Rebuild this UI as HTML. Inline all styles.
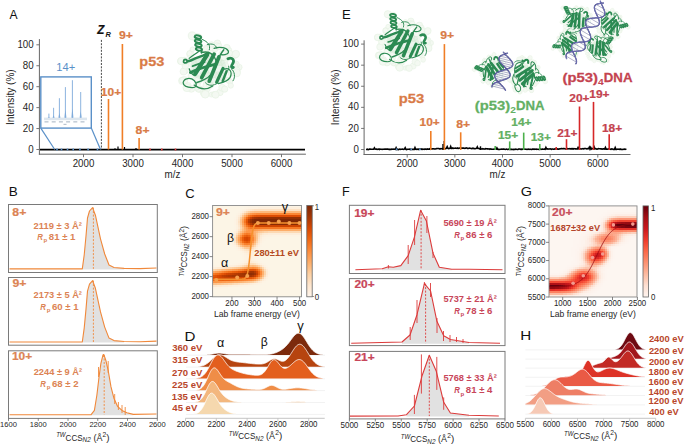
<!DOCTYPE html><html><head><meta charset="utf-8"><style>html,body{margin:0;padding:0;background:#fff;width:685px;height:444px;overflow:hidden}svg{display:block}</style></head><body><svg width="685" height="444" viewBox="0 0 685 444" font-family='"Liberation Sans", sans-serif'>
<rect width="685" height="444" fill="#fff"/>
<defs>
<filter id="blur1" x="-20%" y="-20%" width="140%" height="140%"><feGaussianBlur stdDeviation="0.6"/></filter>
<filter id="blur2" x="-30%" y="-30%" width="160%" height="160%"><feGaussianBlur stdDeviation="2"/></filter>
</defs>
<text x="9.51" y="19.00" font-size="12.28" fill="#111" font-weight="normal" font-style="normal" textLength="8.09" lengthAdjust="spacingAndGlyphs">A</text>
<line x1="39.40" y1="39.10" x2="39.40" y2="154.70" stroke="#666" stroke-width="1.00"/>
<line x1="38.90" y1="154.20" x2="305.90" y2="154.20" stroke="#666" stroke-width="1.00"/>
<line x1="36.40" y1="149.50" x2="39.40" y2="149.50" stroke="#666" stroke-width="0.90"/>
<text x="28.19" y="152.60" font-size="10.10" fill="#262626" font-weight="normal" font-style="normal" textLength="5.41" lengthAdjust="spacingAndGlyphs">0</text>
<line x1="36.40" y1="128.56" x2="39.40" y2="128.56" stroke="#666" stroke-width="0.90"/>
<text x="22.78" y="131.66" font-size="10.10" fill="#262626" font-weight="normal" font-style="normal" textLength="10.82" lengthAdjust="spacingAndGlyphs">20</text>
<line x1="36.40" y1="107.62" x2="39.40" y2="107.62" stroke="#666" stroke-width="0.90"/>
<text x="22.78" y="110.72" font-size="10.10" fill="#262626" font-weight="normal" font-style="normal" textLength="10.82" lengthAdjust="spacingAndGlyphs">40</text>
<line x1="36.40" y1="86.68" x2="39.40" y2="86.68" stroke="#666" stroke-width="0.90"/>
<text x="22.78" y="89.78" font-size="10.10" fill="#262626" font-weight="normal" font-style="normal" textLength="10.82" lengthAdjust="spacingAndGlyphs">60</text>
<line x1="36.40" y1="65.74" x2="39.40" y2="65.74" stroke="#666" stroke-width="0.90"/>
<text x="22.78" y="68.84" font-size="10.10" fill="#262626" font-weight="normal" font-style="normal" textLength="10.82" lengthAdjust="spacingAndGlyphs">80</text>
<line x1="36.40" y1="44.80" x2="39.40" y2="44.80" stroke="#666" stroke-width="0.90"/>
<text x="17.38" y="47.90" font-size="10.10" fill="#262626" font-weight="normal" font-style="normal" textLength="16.22" lengthAdjust="spacingAndGlyphs">100</text>
<line x1="83.50" y1="154.20" x2="83.50" y2="157.20" stroke="#666" stroke-width="0.90"/>
<text x="72.68" y="166.60" font-size="10.10" fill="#262626" font-weight="normal" font-style="normal" textLength="21.63" lengthAdjust="spacingAndGlyphs">2000</text>
<line x1="133.00" y1="154.20" x2="133.00" y2="157.20" stroke="#666" stroke-width="0.90"/>
<text x="122.18" y="166.60" font-size="10.10" fill="#262626" font-weight="normal" font-style="normal" textLength="21.63" lengthAdjust="spacingAndGlyphs">3000</text>
<line x1="182.50" y1="154.20" x2="182.50" y2="157.20" stroke="#666" stroke-width="0.90"/>
<text x="171.68" y="166.60" font-size="10.10" fill="#262626" font-weight="normal" font-style="normal" textLength="21.63" lengthAdjust="spacingAndGlyphs">4000</text>
<line x1="232.00" y1="154.20" x2="232.00" y2="157.20" stroke="#666" stroke-width="0.90"/>
<text x="221.18" y="166.60" font-size="10.10" fill="#262626" font-weight="normal" font-style="normal" textLength="21.63" lengthAdjust="spacingAndGlyphs">5000</text>
<line x1="281.50" y1="154.20" x2="281.50" y2="157.20" stroke="#666" stroke-width="0.90"/>
<text x="270.68" y="166.60" font-size="10.10" fill="#262626" font-weight="normal" font-style="normal" textLength="21.63" lengthAdjust="spacingAndGlyphs">6000</text>
<text x="164.61" y="178.20" font-size="10.22" fill="#262626" font-weight="normal" font-style="normal" textLength="15.79" lengthAdjust="spacingAndGlyphs">m/z</text>
<g transform="translate(14.3,97.2) rotate(-90)">
<text x="-27.84" y="0.00" font-size="10.34" fill="#262626" font-weight="normal" font-style="normal" textLength="55.69" lengthAdjust="spacingAndGlyphs">Intensity (%)</text>
</g>
<line x1="40.00" y1="149.60" x2="305.00" y2="149.60" stroke="#000" stroke-width="1.60"/>
<line x1="118.00" y1="149.50" x2="118.00" y2="146.50" stroke="#000" stroke-width="1.20"/>
<line x1="124.50" y1="149.50" x2="124.50" y2="147.00" stroke="#000" stroke-width="1.20"/>
<line x1="136.00" y1="149.50" x2="136.00" y2="148.00" stroke="#000" stroke-width="1.20"/>
<line x1="115.00" y1="149.50" x2="115.00" y2="148.20" stroke="#000" stroke-width="1.20"/>
<line x1="56.20" y1="149.50" x2="57.80" y2="149.50" stroke="#5a90c8" stroke-width="2.00"/>
<line x1="60.70" y1="149.50" x2="62.30" y2="149.50" stroke="#5a90c8" stroke-width="2.00"/>
<line x1="66.70" y1="149.50" x2="68.30" y2="149.50" stroke="#5a90c8" stroke-width="2.00"/>
<line x1="72.40" y1="149.50" x2="74.00" y2="149.50" stroke="#5a90c8" stroke-width="2.00"/>
<line x1="79.10" y1="149.50" x2="80.70" y2="149.50" stroke="#5a90c8" stroke-width="2.00"/>
<line x1="87.30" y1="149.50" x2="88.90" y2="149.50" stroke="#5a90c8" stroke-width="2.00"/>
<line x1="96.70" y1="149.50" x2="98.30" y2="149.50" stroke="#5a90c8" stroke-width="2.00"/>
<line x1="149.20" y1="149.50" x2="150.80" y2="149.50" stroke="#e04040" stroke-width="2.00"/>
<line x1="161.00" y1="149.50" x2="162.60" y2="149.50" stroke="#e04040" stroke-width="2.00"/>
<line x1="174.70" y1="149.50" x2="176.30" y2="149.50" stroke="#e04040" stroke-width="2.00"/>
<line x1="108.50" y1="149.50" x2="108.50" y2="99.00" stroke="#f07e26" stroke-width="1.60"/>
<line x1="122.40" y1="149.50" x2="122.40" y2="44.00" stroke="#f07e26" stroke-width="1.60"/>
<line x1="139.10" y1="149.50" x2="139.10" y2="138.00" stroke="#f07e26" stroke-width="1.60"/>
<line x1="101.40" y1="39.90" x2="101.40" y2="149.50" stroke="#333" stroke-width="0.90" stroke-dasharray="2.0,1.3"/>
<text x="97.36" y="34.00" font-size="11.89" fill="#111" font-weight="bold" font-style="italic" textLength="7.08" lengthAdjust="spacingAndGlyphs" stroke="#111" stroke-width="0.23">Z</text>
<text x="105.56" y="36.80" font-size="7.85" fill="#111" font-weight="bold" font-style="italic" textLength="5.39" lengthAdjust="spacingAndGlyphs">R</text>
<text x="118.93" y="38.90" font-size="10.21" fill="#d97b47" font-weight="bold" font-style="normal" textLength="13.96" lengthAdjust="spacingAndGlyphs" stroke="#d97b47" stroke-width="0.20">9+</text>
<text x="100.87" y="96.30" font-size="10.21" fill="#d97b47" font-weight="bold" font-style="normal" textLength="20.29" lengthAdjust="spacingAndGlyphs" stroke="#d97b47" stroke-width="0.20">10+</text>
<text x="135.64" y="133.60" font-size="10.21" fill="#d97b47" font-weight="bold" font-style="normal" textLength="13.96" lengthAdjust="spacingAndGlyphs" stroke="#d97b47" stroke-width="0.20">8+</text>
<text x="139.31" y="65.60" font-size="13.46" fill="#d97b47" font-weight="bold" font-style="normal" textLength="24.94" lengthAdjust="spacingAndGlyphs" stroke="#d97b47" stroke-width="0.26">p53</text>
<rect x="40.8" y="76.9" width="50.5" height="51.2" fill="#fff" stroke="#5a90c8" stroke-width="1.4"/>
<line x1="40.80" y1="128.10" x2="54.70" y2="149.50" stroke="#5a90c8" stroke-width="1.20"/>
<line x1="91.30" y1="128.10" x2="100.50" y2="149.50" stroke="#5a90c8" stroke-width="1.20"/>
<text x="56.21" y="71.20" font-size="10.69" fill="#5a90c8" font-weight="normal" font-style="normal" textLength="18.99" lengthAdjust="spacingAndGlyphs">14+</text>
<rect x="44" y="117.6" width="43" height="2.6" fill="#dde6ee"/>
<path d="M47.70,117.8 L48.90,116.75 L50.10,117.8 Z" fill="#a9c6e6"/>
<line x1="48.90" y1="117.80" x2="48.90" y2="113.60" stroke="#6fa0d6" stroke-width="0.80"/>
<path d="M52.40,117.8 L53.60,115.30 L54.80,117.8 Z" fill="#a9c6e6"/>
<line x1="53.60" y1="117.80" x2="53.60" y2="107.80" stroke="#6fa0d6" stroke-width="0.80"/>
<path d="M58.20,117.8 L59.40,112.90 L60.60,117.8 Z" fill="#a9c6e6"/>
<line x1="59.40" y1="117.80" x2="59.40" y2="98.20" stroke="#6fa0d6" stroke-width="0.80"/>
<path d="M64.20,117.8 L65.40,110.12 L66.60,117.8 Z" fill="#a9c6e6"/>
<line x1="65.40" y1="117.80" x2="65.40" y2="87.10" stroke="#6fa0d6" stroke-width="0.80"/>
<path d="M71.20,117.8 L72.40,108.40 L73.60,117.8 Z" fill="#a9c6e6"/>
<line x1="72.40" y1="117.80" x2="72.40" y2="80.20" stroke="#6fa0d6" stroke-width="0.80"/>
<path d="M79.50,117.8 L80.70,111.35 L81.90,117.8 Z" fill="#a9c6e6"/>
<line x1="80.70" y1="117.80" x2="80.70" y2="92.00" stroke="#6fa0d6" stroke-width="0.80"/>
<rect x="44.5" y="121.2" width="4" height="1.3" fill="#b9c4cf"/>
<rect x="51.7" y="121.2" width="4" height="1.3" fill="#b9c4cf"/>
<rect x="58.9" y="121.2" width="4" height="1.3" fill="#b9c4cf"/>
<rect x="66.1" y="121.2" width="4" height="1.3" fill="#b9c4cf"/>
<rect x="73.3" y="121.2" width="4" height="1.3" fill="#b9c4cf"/>
<rect x="80.5" y="121.2" width="4" height="1.3" fill="#b9c4cf"/>
<rect x="63.5" y="123.8" width="3" height="1.2" fill="#b9c4cf"/>
<text x="341.94" y="18.60" font-size="12.28" fill="#111" font-weight="normal" font-style="normal" textLength="8.74" lengthAdjust="spacingAndGlyphs">E</text>
<line x1="364.10" y1="40.30" x2="364.10" y2="154.90" stroke="#666" stroke-width="1.00"/>
<line x1="363.60" y1="154.50" x2="630.50" y2="154.50" stroke="#666" stroke-width="1.00"/>
<line x1="361.10" y1="149.50" x2="364.10" y2="149.50" stroke="#666" stroke-width="0.90"/>
<text x="353.49" y="152.60" font-size="10.10" fill="#262626" font-weight="normal" font-style="normal" textLength="5.41" lengthAdjust="spacingAndGlyphs">0</text>
<line x1="361.10" y1="128.42" x2="364.10" y2="128.42" stroke="#666" stroke-width="0.90"/>
<text x="348.08" y="131.52" font-size="10.10" fill="#262626" font-weight="normal" font-style="normal" textLength="10.82" lengthAdjust="spacingAndGlyphs">20</text>
<line x1="361.10" y1="107.34" x2="364.10" y2="107.34" stroke="#666" stroke-width="0.90"/>
<text x="348.08" y="110.44" font-size="10.10" fill="#262626" font-weight="normal" font-style="normal" textLength="10.82" lengthAdjust="spacingAndGlyphs">40</text>
<line x1="361.10" y1="86.26" x2="364.10" y2="86.26" stroke="#666" stroke-width="0.90"/>
<text x="348.08" y="89.36" font-size="10.10" fill="#262626" font-weight="normal" font-style="normal" textLength="10.82" lengthAdjust="spacingAndGlyphs">60</text>
<line x1="361.10" y1="65.18" x2="364.10" y2="65.18" stroke="#666" stroke-width="0.90"/>
<text x="348.08" y="68.28" font-size="10.10" fill="#262626" font-weight="normal" font-style="normal" textLength="10.82" lengthAdjust="spacingAndGlyphs">80</text>
<line x1="361.10" y1="44.10" x2="364.10" y2="44.10" stroke="#666" stroke-width="0.90"/>
<text x="342.68" y="47.20" font-size="10.10" fill="#262626" font-weight="normal" font-style="normal" textLength="16.22" lengthAdjust="spacingAndGlyphs">100</text>
<line x1="407.20" y1="154.50" x2="407.20" y2="157.50" stroke="#666" stroke-width="0.90"/>
<text x="396.38" y="166.60" font-size="10.10" fill="#262626" font-weight="normal" font-style="normal" textLength="21.63" lengthAdjust="spacingAndGlyphs">2000</text>
<line x1="454.85" y1="154.50" x2="454.85" y2="157.50" stroke="#666" stroke-width="0.90"/>
<text x="444.03" y="166.60" font-size="10.10" fill="#262626" font-weight="normal" font-style="normal" textLength="21.63" lengthAdjust="spacingAndGlyphs">3000</text>
<line x1="502.50" y1="154.50" x2="502.50" y2="157.50" stroke="#666" stroke-width="0.90"/>
<text x="491.68" y="166.60" font-size="10.10" fill="#262626" font-weight="normal" font-style="normal" textLength="21.63" lengthAdjust="spacingAndGlyphs">4000</text>
<line x1="550.15" y1="154.50" x2="550.15" y2="157.50" stroke="#666" stroke-width="0.90"/>
<text x="539.33" y="166.60" font-size="10.10" fill="#262626" font-weight="normal" font-style="normal" textLength="21.63" lengthAdjust="spacingAndGlyphs">5000</text>
<line x1="597.80" y1="154.50" x2="597.80" y2="157.50" stroke="#666" stroke-width="0.90"/>
<text x="586.98" y="166.60" font-size="10.10" fill="#262626" font-weight="normal" font-style="normal" textLength="21.63" lengthAdjust="spacingAndGlyphs">6000</text>
<text x="489.61" y="178.20" font-size="10.22" fill="#262626" font-weight="normal" font-style="normal" textLength="15.79" lengthAdjust="spacingAndGlyphs">m/z</text>
<g transform="translate(338.5,97.3) rotate(-90)">
<text x="-27.84" y="0.00" font-size="10.34" fill="#262626" font-weight="normal" font-style="normal" textLength="55.69" lengthAdjust="spacingAndGlyphs">Intensity (%)</text>
</g>
<path d="M366.00,149.46 L366.70,149.38 L367.40,149.22 L368.10,149.59 L368.80,149.44 L369.50,149.00 L370.20,149.10 L370.90,149.22 L371.60,149.22 L372.30,149.29 L373.00,149.20 L373.70,149.15 L374.40,147.92 L375.10,149.08 L375.80,149.17 L376.50,149.17 L377.20,149.36 L377.90,149.33 L378.60,149.07 L379.30,149.52 L380.00,149.02 L380.70,149.22 L381.40,149.30 L382.10,149.39 L382.80,149.25 L383.50,149.19 L384.20,149.09 L384.90,149.20 L385.60,149.08 L386.30,149.06 L387.00,149.17 L387.70,149.10 L388.40,149.43 L389.10,149.09 L389.80,149.55 L390.50,149.35 L391.20,149.42 L391.90,149.08 L392.60,149.23 L393.30,149.17 L394.00,149.07 L394.70,149.30 L395.40,149.41 L396.10,147.74 L396.80,149.48 L397.50,149.23 L398.20,149.57 L398.90,149.41 L399.60,149.06 L400.30,149.32 L401.00,149.21 L401.70,149.26 L402.40,149.03 L403.10,149.34 L403.80,149.45 L404.50,149.01 L405.20,147.76 L405.90,149.34 L406.60,149.58 L407.30,149.21 L408.00,149.21 L408.70,149.18 L409.40,149.16 L410.10,149.57 L410.80,149.18 L411.50,149.43 L412.20,149.22 L412.90,149.36 L413.60,149.35 L414.30,149.39 L415.00,147.60 L415.70,149.22 L416.40,149.37 L417.10,149.07 L417.80,149.43 L418.50,149.12 L419.20,149.34 L419.90,149.03 L420.60,149.00 L421.30,149.31 L422.00,148.97 L422.70,149.36 L423.40,149.16 L424.10,148.99 L424.80,149.35 L425.50,148.96 L426.20,148.95 L426.90,149.34 L427.60,148.93 L428.30,149.18 L429.00,149.12 L429.70,148.80 L430.40,149.33 L431.10,148.79 L431.80,149.03 L432.50,148.71 L433.20,148.80 L433.90,148.83 L434.60,149.03 L435.30,149.04 L436.00,148.80 L436.70,148.64 L437.40,148.55 L438.10,148.51 L438.80,148.50 L439.50,149.00 L440.20,148.88 L440.90,148.55 L441.60,148.67 L442.30,148.53 L443.00,148.71 L443.70,148.55 L444.40,148.59 L445.10,148.45 L445.80,148.64 L446.50,148.16 L447.20,146.69 L447.90,148.28 L448.60,148.60 L449.30,148.44 L450.00,148.33 L450.70,146.59 L451.40,148.50 L452.10,148.44 L452.80,147.91 L453.50,148.42 L454.20,148.27 L454.90,148.24 L455.60,148.08 L456.30,148.31 L457.00,148.34 L457.70,147.98 L458.40,148.36 L459.10,148.18 L459.80,147.93 L460.50,147.92 L461.20,148.15 L461.90,148.11 L462.60,148.17 L463.30,148.15 L464.00,148.12 L464.70,148.41 L465.40,148.21 L466.10,147.92 L466.80,147.97 L467.50,148.37 L468.20,148.47 L468.90,148.17 L469.60,148.12 L470.30,148.18 L471.00,148.58 L471.70,148.67 L472.40,148.24 L473.10,148.67 L473.80,148.23 L474.50,148.77 L475.20,148.74 L475.90,148.44 L476.60,148.31 L477.30,146.93 L478.00,148.48 L478.70,148.54 L479.40,148.55 L480.10,148.99 L480.80,148.72 L481.50,148.94 L482.20,148.96 L482.90,148.69 L483.60,148.94 L484.30,148.98 L485.00,149.16 L485.70,148.65 L486.40,148.81 L487.10,148.87 L487.80,148.90 L488.50,149.03 L489.20,148.80 L489.90,149.30 L490.60,148.83 L491.30,149.13 L492.00,149.30 L492.70,149.31 L493.40,149.25 L494.10,149.04 L494.80,149.29 L495.50,149.23 L496.20,149.14 L496.90,147.87 L497.60,149.22 L498.30,149.41 L499.00,149.33 L499.70,149.44 L500.40,149.25 L501.10,149.26 L501.80,149.05 L502.50,149.26 L503.20,149.04 L503.90,149.12 L504.60,149.28 L505.30,149.43 L506.00,149.17 L506.70,149.06 L507.40,149.46 L508.10,149.47 L508.80,149.07 L509.50,149.43 L510.20,149.40 L510.90,149.15 L511.60,149.53 L512.30,149.41 L513.00,149.24 L513.70,149.59 L514.40,149.33 L515.10,149.46 L515.80,149.02 L516.50,149.26 L517.20,149.43 L517.90,149.52 L518.60,149.04 L519.30,149.03 L520.00,149.13 L520.70,149.41 L521.40,149.20 L522.10,149.43 L522.80,149.01 L523.50,149.26 L524.20,149.29 L524.90,149.15 L525.60,149.24 L526.30,149.19 L527.00,149.47 L527.70,149.18 L528.40,149.01 L529.10,149.37 L529.80,149.21 L530.50,149.18 L531.20,149.37 L531.90,149.52 L532.60,149.10 L533.30,149.11 L534.00,149.39 L534.70,149.02 L535.40,149.24 L536.10,149.07 L536.80,149.33 L537.50,149.20 L538.20,149.31 L538.90,149.45 L539.60,149.45 L540.30,149.03 L541.00,149.38 L541.70,149.24 L542.40,148.99 L543.10,149.12 L543.80,149.23 L544.50,149.14 L545.20,149.33 L545.90,147.47 L546.60,148.95 L547.30,148.85 L548.00,149.08 L548.70,149.02 L549.40,148.98 L550.10,148.86 L550.80,149.01 L551.50,149.36 L552.20,148.95 L552.90,149.02 L553.60,149.21 L554.30,149.29 L555.00,148.91 L555.70,148.95 L556.40,148.74 L557.10,148.79 L557.80,149.22 L558.50,149.10 L559.20,148.90 L559.90,149.02 L560.60,148.78 L561.30,148.67 L562.00,148.62 L562.70,148.72 L563.40,148.67 L564.10,148.62 L564.80,148.67 L565.50,149.05 L566.20,149.06 L566.90,149.00 L567.60,148.66 L568.30,148.82 L569.00,148.88 L569.70,148.60 L570.40,148.94 L571.10,148.61 L571.80,148.81 L572.50,148.67 L573.20,149.02 L573.90,148.55 L574.60,148.74 L575.30,148.88 L576.00,148.76 L576.70,148.99 L577.40,148.90 L578.10,147.46 L578.80,148.73 L579.50,148.58 L580.20,148.76 L580.90,148.99 L581.60,148.87 L582.30,148.72 L583.00,148.64 L583.70,148.94 L584.40,148.59 L585.10,148.56 L585.80,148.48 L586.50,148.89 L587.20,148.56 L587.90,148.85 L588.60,148.66 L589.30,147.22 L590.00,149.07 L590.70,147.49 L591.40,149.07 L592.10,148.58 L592.80,148.54 L593.50,148.66 L594.20,147.09 L594.90,148.98 L595.60,148.61 L596.30,149.01 L597.00,149.13 L597.70,149.01 L598.40,148.67 L599.10,148.79 L599.80,148.75 L600.50,148.71 L601.20,149.03 L601.90,148.82 L602.60,149.14 L603.30,148.88 L604.00,148.90 L604.70,149.04 L605.40,147.42 L606.10,149.08 L606.80,148.96 L607.50,149.24 L608.20,149.01 L608.90,148.88 L609.60,148.87 L610.30,149.22 L611.00,149.39 L611.70,148.87 L612.40,149.11 L613.10,149.41 L613.80,149.32 L614.50,149.38 L615.20,147.63 L615.90,149.35 L616.60,149.36 L617.30,149.25 L618.00,149.15 L618.70,149.19 L619.40,149.41 L620.10,149.03 L620.80,149.52 L621.50,149.42 L622.20,149.49 L622.90,149.41 L623.60,149.18 L624.30,149.10 L625.00,149.35 L625.70,149.29 L626.40,149.06" fill="none" stroke="#000" stroke-width="1.6"/>
<line x1="444.20" y1="150.00" x2="444.20" y2="141.00" stroke="#000" stroke-width="1.40"/>
<line x1="480.50" y1="150.00" x2="480.50" y2="146.30" stroke="#000" stroke-width="1.40"/>
<line x1="443.00" y1="150.00" x2="443.00" y2="144.00" stroke="#000" stroke-width="1.40"/>
<line x1="395.80" y1="149.30" x2="397.40" y2="149.30" stroke="#5a90c8" stroke-width="1.80"/>
<line x1="410.40" y1="149.30" x2="412.00" y2="149.30" stroke="#5a90c8" stroke-width="1.80"/>
<line x1="419.10" y1="149.30" x2="420.70" y2="149.30" stroke="#5a90c8" stroke-width="1.80"/>
<line x1="430.80" y1="150.00" x2="430.80" y2="131.00" stroke="#f07e26" stroke-width="1.60"/>
<line x1="444.40" y1="150.00" x2="444.40" y2="44.10" stroke="#f07e26" stroke-width="1.60"/>
<line x1="460.70" y1="150.00" x2="460.70" y2="132.30" stroke="#f07e26" stroke-width="1.60"/>
<line x1="495.20" y1="150.00" x2="495.20" y2="146.00" stroke="#4cb04c" stroke-width="1.60"/>
<line x1="509.70" y1="150.00" x2="509.70" y2="141.40" stroke="#4cb04c" stroke-width="1.60"/>
<line x1="523.70" y1="150.00" x2="523.70" y2="132.60" stroke="#4cb04c" stroke-width="1.60"/>
<line x1="539.80" y1="150.00" x2="539.80" y2="144.00" stroke="#4cb04c" stroke-width="1.60"/>
<line x1="556.20" y1="150.00" x2="556.20" y2="147.00" stroke="#d62728" stroke-width="1.60"/>
<line x1="566.50" y1="150.00" x2="566.50" y2="139.20" stroke="#d62728" stroke-width="1.60"/>
<line x1="579.50" y1="150.00" x2="579.50" y2="106.50" stroke="#d62728" stroke-width="1.60"/>
<line x1="593.50" y1="150.00" x2="593.50" y2="101.90" stroke="#d62728" stroke-width="1.60"/>
<line x1="609.20" y1="150.00" x2="609.20" y2="134.30" stroke="#d62728" stroke-width="1.60"/>
<text x="440.23" y="39.00" font-size="10.21" fill="#d97b47" font-weight="bold" font-style="normal" textLength="13.96" lengthAdjust="spacingAndGlyphs" stroke="#d97b47" stroke-width="0.20">9+</text>
<text x="398.68" y="103.40" font-size="13.46" fill="#d97b47" font-weight="bold" font-style="normal" textLength="25.48" lengthAdjust="spacingAndGlyphs" stroke="#d97b47" stroke-width="0.26">p53</text>
<text x="419.57" y="126.40" font-size="10.21" fill="#d97b47" font-weight="bold" font-style="normal" textLength="20.29" lengthAdjust="spacingAndGlyphs" stroke="#d97b47" stroke-width="0.20">10+</text>
<text x="456.24" y="127.80" font-size="10.21" fill="#d97b47" font-weight="bold" font-style="normal" textLength="13.96" lengthAdjust="spacingAndGlyphs" stroke="#d97b47" stroke-width="0.20">8+</text>
<text x="497.97" y="139.40" font-size="10.21" fill="#63b063" font-weight="bold" font-style="normal" textLength="20.29" lengthAdjust="spacingAndGlyphs" stroke="#63b063" stroke-width="0.20">15+</text>
<text x="511.27" y="126.40" font-size="10.21" fill="#63b063" font-weight="bold" font-style="normal" textLength="20.29" lengthAdjust="spacingAndGlyphs" stroke="#63b063" stroke-width="0.20">14+</text>
<text x="530.67" y="140.50" font-size="10.21" fill="#63b063" font-weight="bold" font-style="normal" textLength="20.29" lengthAdjust="spacingAndGlyphs" stroke="#63b063" stroke-width="0.20">13+</text>
<text x="557.18" y="136.80" font-size="10.21" fill="#c4434f" font-weight="bold" font-style="normal" textLength="20.29" lengthAdjust="spacingAndGlyphs" stroke="#c4434f" stroke-width="0.20">21+</text>
<text x="569.28" y="102.20" font-size="10.21" fill="#c4434f" font-weight="bold" font-style="normal" textLength="20.29" lengthAdjust="spacingAndGlyphs" stroke="#c4434f" stroke-width="0.20">20+</text>
<text x="589.27" y="97.60" font-size="10.21" fill="#c4434f" font-weight="bold" font-style="normal" textLength="20.29" lengthAdjust="spacingAndGlyphs" stroke="#c4434f" stroke-width="0.20">19+</text>
<text x="601.97" y="132.20" font-size="10.21" fill="#c4434f" font-weight="bold" font-style="normal" textLength="20.29" lengthAdjust="spacingAndGlyphs" stroke="#c4434f" stroke-width="0.20">18+</text>
<text x="474.89" y="110.10" font-size="13.13" fill="#63b063" font-weight="bold" font-style="normal" textLength="35.35" lengthAdjust="spacingAndGlyphs" stroke="#63b063" stroke-width="0.26">(p53)</text>
<text x="510.25" y="113.30" font-size="9.19" fill="#63b063" font-weight="bold" font-style="normal" textLength="5.70" lengthAdjust="spacingAndGlyphs">2</text>
<text x="515.94" y="110.10" font-size="13.13" fill="#63b063" font-weight="bold" font-style="normal" textLength="28.56" lengthAdjust="spacingAndGlyphs" stroke="#63b063" stroke-width="0.26">DNA</text>
<text x="562.59" y="81.50" font-size="13.18" fill="#c4434f" font-weight="bold" font-style="normal" textLength="35.50" lengthAdjust="spacingAndGlyphs" stroke="#c4434f" stroke-width="0.26">(p53)</text>
<text x="598.09" y="84.70" font-size="9.23" fill="#c4434f" font-weight="bold" font-style="normal" textLength="5.72" lengthAdjust="spacingAndGlyphs">4</text>
<text x="603.82" y="81.50" font-size="13.18" fill="#c4434f" font-weight="bold" font-style="normal" textLength="28.68" lengthAdjust="spacingAndGlyphs" stroke="#c4434f" stroke-width="0.26">DNA</text>
<text x="8.81" y="195.60" font-size="12.28" fill="#111" font-weight="normal" font-style="normal" textLength="9.02" lengthAdjust="spacingAndGlyphs">B</text>
<rect x="8.50" y="204.50" width="148.80" height="68.00" fill="#fff" stroke="#7a7a7a" stroke-width="1"/>
<path d="M82.30,268.90 L84.20,255.00 L86.00,236.00 L87.50,218.00 L89.50,211.00 L92.60,207.60 L95.40,215.20 L100.50,238.80 L104.70,254.00 L109.00,265.00 L114.00,267.50 L124.10,268.40 L124.10,269.40 L82.30,269.40 Z" fill="#e1e1e1"/>
<line x1="93.40" y1="207.60" x2="93.40" y2="268.90" stroke="#f0883a" stroke-width="0.90" stroke-dasharray="2,1.5"/>
<path d="M9.50,268.90 L82.30,268.90 L84.20,255.00 L86.00,236.00 L87.50,218.00 L89.50,211.00 L92.60,207.60 L95.40,215.20 L100.50,238.80 L104.70,254.00 L109.00,265.00 L114.00,267.50 L124.10,268.40 L140.00,268.60 L156.50,268.00" fill="none" stroke="#f0883a" stroke-width="1.1" stroke-linejoin="round"/>
<text x="12.34" y="215.60" font-size="10.21" fill="#dc8455" font-weight="bold" font-style="normal" textLength="13.96" lengthAdjust="spacingAndGlyphs" stroke="#dc8455" stroke-width="0.20">8+</text>
<text x="33.62" y="229.00" font-size="8.73" fill="#dc8455" font-weight="bold" font-style="normal" textLength="48.31" lengthAdjust="spacingAndGlyphs">2119 ± 3 Å²</text>
<text x="37.23" y="240.00" font-size="8.73" fill="#dc8455" font-weight="bold" font-style="italic" textLength="5.66" lengthAdjust="spacingAndGlyphs">R</text>
<text x="43.56" y="242.20" font-size="5.72" fill="#dc8455" font-weight="bold" font-style="normal" textLength="3.72" lengthAdjust="spacingAndGlyphs">p</text>
<text x="48.85" y="240.00" font-size="8.73" fill="#dc8455" font-weight="bold" font-style="normal" textLength="26.62" lengthAdjust="spacingAndGlyphs">81 ± 1</text>
<rect x="8.50" y="277.50" width="148.80" height="67.70" fill="#fff" stroke="#7a7a7a" stroke-width="1"/>
<path d="M82.30,342.00 L84.20,328.10 L86.00,309.10 L87.50,291.10 L89.50,284.10 L92.60,280.70 L95.40,288.30 L100.50,311.90 L104.70,327.10 L109.00,338.10 L114.00,340.60 L124.10,341.50 L124.10,342.50 L82.30,342.50 Z" fill="#e1e1e1"/>
<line x1="93.40" y1="280.60" x2="93.40" y2="342.00" stroke="#f0883a" stroke-width="0.90" stroke-dasharray="2,1.5"/>
<path d="M9.50,342.00 L82.30,342.00 L84.20,328.10 L86.00,309.10 L87.50,291.10 L89.50,284.10 L92.60,280.70 L95.40,288.30 L100.50,311.90 L104.70,327.10 L109.00,338.10 L114.00,340.60 L124.10,341.50 L140.00,341.70 L156.50,341.10" fill="none" stroke="#f0883a" stroke-width="1.1" stroke-linejoin="round"/>
<text x="12.43" y="287.30" font-size="10.21" fill="#dc8455" font-weight="bold" font-style="normal" textLength="13.96" lengthAdjust="spacingAndGlyphs" stroke="#dc8455" stroke-width="0.20">9+</text>
<text x="33.62" y="298.00" font-size="8.73" fill="#dc8455" font-weight="bold" font-style="normal" textLength="48.31" lengthAdjust="spacingAndGlyphs">2173 ± 5 Å²</text>
<text x="40.33" y="309.50" font-size="8.73" fill="#dc8455" font-weight="bold" font-style="italic" textLength="5.66" lengthAdjust="spacingAndGlyphs">R</text>
<text x="46.66" y="311.70" font-size="5.72" fill="#dc8455" font-weight="bold" font-style="normal" textLength="3.72" lengthAdjust="spacingAndGlyphs">p</text>
<text x="51.94" y="309.50" font-size="8.73" fill="#dc8455" font-weight="bold" font-style="normal" textLength="26.62" lengthAdjust="spacingAndGlyphs">60 ± 1</text>
<rect x="8.50" y="350.80" width="148.80" height="67.60" fill="#fff" stroke="#7a7a7a" stroke-width="1"/>
<path d="M90.90,414.80 L94.40,410.40 L96.90,395.00 L99.00,377.20 L100.90,363.40 L102.90,355.30 L103.80,354.50 L105.80,360.20 L108.20,370.70 L111.00,386.90 L113.90,398.20 L117.50,406.30 L122.00,410.40 L126.90,412.80 L133.30,414.40 L133.30,415.30 L90.90,415.30 Z" fill="#e1e1e1"/>
<line x1="104.20" y1="355.00" x2="104.20" y2="414.80" stroke="#f0883a" stroke-width="0.90" stroke-dasharray="2,1.5"/>
<path d="M9.50,414.80 L90.90,414.80 L94.40,410.40 L96.90,395.00 L99.00,377.20 L100.90,363.40 L102.90,355.30 L103.80,354.50 L105.80,360.20 L108.20,370.70 L111.00,386.90 L113.90,398.20 L117.50,406.30 L122.00,410.40 L126.90,412.80 L133.30,414.40 L156.50,414.00" fill="none" stroke="#f0883a" stroke-width="1.1" stroke-linejoin="round"/>
<line x1="98.50" y1="367.00" x2="98.50" y2="377.00" stroke="#f0883a" stroke-width="0.90"/>
<line x1="108.20" y1="361.00" x2="108.20" y2="373.00" stroke="#f0883a" stroke-width="0.90"/>
<line x1="114.70" y1="394.00" x2="114.70" y2="404.00" stroke="#f0883a" stroke-width="0.90"/>
<line x1="118.40" y1="402.00" x2="118.40" y2="410.00" stroke="#f0883a" stroke-width="0.90"/>
<line x1="122.00" y1="405.00" x2="122.00" y2="413.00" stroke="#f0883a" stroke-width="0.90"/>
<line x1="125.20" y1="407.00" x2="125.20" y2="415.00" stroke="#f0883a" stroke-width="0.90"/>
<line x1="103.30" y1="354.00" x2="103.30" y2="357.00" stroke="#f0883a" stroke-width="0.90"/>
<text x="11.97" y="360.10" font-size="10.21" fill="#dc8455" font-weight="bold" font-style="normal" textLength="20.29" lengthAdjust="spacingAndGlyphs" stroke="#dc8455" stroke-width="0.20">10+</text>
<text x="33.72" y="375.00" font-size="8.73" fill="#dc8455" font-weight="bold" font-style="normal" textLength="48.31" lengthAdjust="spacingAndGlyphs">2244 ± 9 Å²</text>
<text x="40.33" y="386.90" font-size="8.73" fill="#dc8455" font-weight="bold" font-style="italic" textLength="5.66" lengthAdjust="spacingAndGlyphs">R</text>
<text x="46.66" y="389.10" font-size="5.72" fill="#dc8455" font-weight="bold" font-style="normal" textLength="3.72" lengthAdjust="spacingAndGlyphs">p</text>
<text x="51.94" y="386.90" font-size="8.73" fill="#dc8455" font-weight="bold" font-style="normal" textLength="26.62" lengthAdjust="spacingAndGlyphs">68 ± 2</text>
<line x1="8.50" y1="418.40" x2="8.50" y2="420.90" stroke="#666" stroke-width="0.80"/>
<line x1="38.26" y1="418.40" x2="38.26" y2="420.90" stroke="#666" stroke-width="0.80"/>
<line x1="68.02" y1="418.40" x2="68.02" y2="420.90" stroke="#666" stroke-width="0.80"/>
<line x1="97.78" y1="418.40" x2="97.78" y2="420.90" stroke="#666" stroke-width="0.80"/>
<line x1="127.54" y1="418.40" x2="127.54" y2="420.90" stroke="#666" stroke-width="0.80"/>
<line x1="157.30" y1="418.40" x2="157.30" y2="420.90" stroke="#666" stroke-width="0.80"/>
<text x="0.10" y="427.10" font-size="7.84" fill="#262626" font-weight="normal" font-style="normal" textLength="16.80" lengthAdjust="spacingAndGlyphs">1600</text>
<text x="29.86" y="427.10" font-size="7.84" fill="#262626" font-weight="normal" font-style="normal" textLength="16.80" lengthAdjust="spacingAndGlyphs">1800</text>
<text x="59.62" y="427.10" font-size="7.84" fill="#262626" font-weight="normal" font-style="normal" textLength="16.80" lengthAdjust="spacingAndGlyphs">2000</text>
<text x="89.38" y="427.10" font-size="7.84" fill="#262626" font-weight="normal" font-style="normal" textLength="16.80" lengthAdjust="spacingAndGlyphs">2200</text>
<text x="119.14" y="427.10" font-size="7.84" fill="#262626" font-weight="normal" font-style="normal" textLength="16.80" lengthAdjust="spacingAndGlyphs">2400</text>
<text x="148.90" y="427.10" font-size="7.84" fill="#262626" font-weight="normal" font-style="normal" textLength="16.80" lengthAdjust="spacingAndGlyphs">2600</text>
<text x="56.14" y="437.40" font-size="6.99" fill="#262626" font-weight="normal" font-style="italic" textLength="9.41" lengthAdjust="spacingAndGlyphs">TW</text>
<text x="65.55" y="440.60" font-size="9.98" fill="#262626" font-weight="normal" font-style="normal" textLength="17.06" lengthAdjust="spacingAndGlyphs">CCS</text>
<text x="82.61" y="442.40" font-size="6.99" fill="#262626" font-weight="normal" font-style="italic" textLength="8.14" lengthAdjust="spacingAndGlyphs">N2</text>
<text x="93.42" y="440.60" font-size="9.98" fill="#262626" font-weight="normal" font-style="normal" textLength="9.02" lengthAdjust="spacingAndGlyphs">(Å</text>
<text x="102.44" y="437.20" font-size="6.99" fill="#262626" font-weight="normal" font-style="normal" textLength="3.74" lengthAdjust="spacingAndGlyphs">2</text>
<text x="106.18" y="440.60" font-size="9.98" fill="#262626" font-weight="normal" font-style="normal" textLength="3.28" lengthAdjust="spacingAndGlyphs">)</text>
<text x="342.09" y="195.70" font-size="12.28" fill="#111" font-weight="normal" font-style="normal" textLength="7.69" lengthAdjust="spacingAndGlyphs">F</text>
<rect x="349.40" y="205.30" width="155.60" height="68.20" fill="#fff" stroke="#7a7a7a" stroke-width="1"/>
<path d="M382.20,268.80 L388.40,266.80 L393.30,267.30 L400.80,265.60 L408.20,255.70 L414.40,237.10 L420.60,210.30 L426.40,221.00 L433.00,253.20 L439.30,267.30 L451.70,269.30 L451.70,270.30 L382.20,270.30 Z" fill="#e1e1e1"/>
<line x1="421.10" y1="210.30" x2="421.10" y2="269.80" stroke="#dc3b3b" stroke-width="0.90" stroke-dasharray="2,1.5"/>
<path d="M355.40,269.80 L382.20,268.80 L388.40,266.80 L393.30,267.30 L400.80,265.60 L408.20,255.70 L414.40,237.10 L420.60,210.30 L426.40,221.00 L433.00,253.20 L439.30,267.30 L451.70,269.30 L469.00,269.30 L502.50,269.80" fill="none" stroke="#dc3b3b" stroke-width="1.1" stroke-linejoin="round"/>
<line x1="408.20" y1="245.00" x2="408.20" y2="264.00" stroke="#dc3b3b" stroke-width="0.90"/>
<line x1="414.60" y1="220.00" x2="414.60" y2="245.00" stroke="#dc3b3b" stroke-width="0.90"/>
<line x1="426.90" y1="216.00" x2="426.90" y2="233.00" stroke="#dc3b3b" stroke-width="0.90"/>
<line x1="433.00" y1="252.00" x2="433.00" y2="258.00" stroke="#dc3b3b" stroke-width="0.90"/>
<line x1="388.40" y1="265.00" x2="388.40" y2="268.50" stroke="#dc3b3b" stroke-width="0.90"/>
<text x="354.17" y="217.00" font-size="10.21" fill="#c8465a" font-weight="bold" font-style="normal" textLength="20.29" lengthAdjust="spacingAndGlyphs" stroke="#c8465a" stroke-width="0.20">19+</text>
<text x="443.43" y="225.70" font-size="8.73" fill="#c8465a" font-weight="bold" font-style="normal" textLength="53.43" lengthAdjust="spacingAndGlyphs">5690 ± 19 Å²</text>
<text x="454.23" y="238.00" font-size="8.73" fill="#c8465a" font-weight="bold" font-style="italic" textLength="5.66" lengthAdjust="spacingAndGlyphs">R</text>
<text x="460.56" y="240.20" font-size="5.72" fill="#c8465a" font-weight="bold" font-style="normal" textLength="3.72" lengthAdjust="spacingAndGlyphs">p</text>
<text x="465.85" y="238.00" font-size="8.73" fill="#c8465a" font-weight="bold" font-style="normal" textLength="26.62" lengthAdjust="spacingAndGlyphs">86 ± 6</text>
<rect x="349.40" y="278.60" width="155.60" height="67.00" fill="#fff" stroke="#7a7a7a" stroke-width="1"/>
<path d="M402.00,342.00 L410.00,335.00 L417.00,314.70 L424.40,283.60 L430.60,291.00 L436.80,320.90 L443.70,335.80 L450.40,339.50 L469.00,342.50 L469.00,343.70 L402.00,343.70 Z" fill="#e1e1e1"/>
<line x1="425.60" y1="283.60" x2="425.60" y2="343.20" stroke="#dc3b3b" stroke-width="0.90" stroke-dasharray="2,1.5"/>
<path d="M351.20,343.20 L402.00,342.00 L410.00,335.00 L417.00,314.70 L424.40,283.60 L430.60,291.00 L436.80,320.90 L443.70,335.80 L450.40,339.50 L469.00,342.50 L500.00,343.20" fill="none" stroke="#dc3b3b" stroke-width="1.1" stroke-linejoin="round"/>
<line x1="410.20" y1="327.00" x2="410.20" y2="340.00" stroke="#dc3b3b" stroke-width="0.90"/>
<line x1="417.00" y1="300.00" x2="417.00" y2="323.00" stroke="#dc3b3b" stroke-width="0.90"/>
<line x1="430.50" y1="283.00" x2="430.50" y2="297.00" stroke="#dc3b3b" stroke-width="0.90"/>
<line x1="437.00" y1="318.00" x2="437.00" y2="333.00" stroke="#dc3b3b" stroke-width="0.90"/>
<line x1="443.50" y1="331.00" x2="443.50" y2="341.00" stroke="#dc3b3b" stroke-width="0.90"/>
<line x1="450.00" y1="335.00" x2="450.00" y2="342.00" stroke="#dc3b3b" stroke-width="0.90"/>
<line x1="456.50" y1="337.00" x2="456.50" y2="342.00" stroke="#dc3b3b" stroke-width="0.90"/>
<line x1="463.00" y1="339.00" x2="463.00" y2="343.00" stroke="#dc3b3b" stroke-width="0.90"/>
<line x1="424.40" y1="282.00" x2="424.40" y2="285.00" stroke="#dc3b3b" stroke-width="0.90"/>
<text x="354.48" y="288.40" font-size="10.21" fill="#c8465a" font-weight="bold" font-style="normal" textLength="20.29" lengthAdjust="spacingAndGlyphs" stroke="#c8465a" stroke-width="0.20">20+</text>
<text x="443.43" y="302.10" font-size="8.73" fill="#c8465a" font-weight="bold" font-style="normal" textLength="53.43" lengthAdjust="spacingAndGlyphs">5737 ± 21 Å²</text>
<text x="454.23" y="313.90" font-size="8.73" fill="#c8465a" font-weight="bold" font-style="italic" textLength="5.66" lengthAdjust="spacingAndGlyphs">R</text>
<text x="460.56" y="316.10" font-size="5.72" fill="#c8465a" font-weight="bold" font-style="normal" textLength="3.72" lengthAdjust="spacingAndGlyphs">p</text>
<text x="465.81" y="313.90" font-size="8.73" fill="#c8465a" font-weight="bold" font-style="normal" textLength="26.62" lengthAdjust="spacingAndGlyphs">78 ± 6</text>
<rect x="349.40" y="351.40" width="155.60" height="67.50" fill="#fff" stroke="#7a7a7a" stroke-width="1"/>
<path d="M406.50,414.70 L414.40,406.00 L421.90,376.30 L429.30,355.20 L436.30,371.30 L443.70,402.30 L450.40,413.00 L469.00,415.20 L469.00,416.60 L406.50,416.60 Z" fill="#e1e1e1"/>
<line x1="429.30" y1="355.20" x2="429.30" y2="416.10" stroke="#dc3b3b" stroke-width="0.90" stroke-dasharray="2,1.5"/>
<path d="M349.90,416.10 L398.00,416.00 L406.50,414.70 L414.40,406.00 L421.90,376.30 L429.30,355.20 L436.30,371.30 L443.70,402.30 L450.40,413.00 L469.00,415.20 L498.80,416.00" fill="none" stroke="#dc3b3b" stroke-width="1.1" stroke-linejoin="round"/>
<line x1="414.40" y1="394.90" x2="414.40" y2="414.00" stroke="#dc3b3b" stroke-width="0.90"/>
<line x1="421.40" y1="354.40" x2="421.40" y2="393.60" stroke="#dc3b3b" stroke-width="0.90"/>
<line x1="436.80" y1="356.90" x2="436.80" y2="389.90" stroke="#dc3b3b" stroke-width="0.90"/>
<line x1="443.70" y1="397.40" x2="443.70" y2="409.80" stroke="#dc3b3b" stroke-width="0.90"/>
<text x="354.48" y="361.20" font-size="10.21" fill="#c8465a" font-weight="bold" font-style="normal" textLength="20.29" lengthAdjust="spacingAndGlyphs" stroke="#c8465a" stroke-width="0.20">21+</text>
<text x="443.43" y="381.00" font-size="8.73" fill="#c8465a" font-weight="bold" font-style="normal" textLength="53.43" lengthAdjust="spacingAndGlyphs">5768 ± 33 Å²</text>
<text x="454.23" y="393.40" font-size="8.73" fill="#c8465a" font-weight="bold" font-style="italic" textLength="5.66" lengthAdjust="spacingAndGlyphs">R</text>
<text x="460.56" y="395.60" font-size="5.72" fill="#c8465a" font-weight="bold" font-style="normal" textLength="3.72" lengthAdjust="spacingAndGlyphs">p</text>
<text x="465.85" y="393.40" font-size="8.73" fill="#c8465a" font-weight="bold" font-style="normal" textLength="26.62" lengthAdjust="spacingAndGlyphs">81 ± 4</text>
<line x1="349.40" y1="418.90" x2="349.40" y2="421.40" stroke="#666" stroke-width="0.80"/>
<line x1="375.32" y1="418.90" x2="375.32" y2="421.40" stroke="#666" stroke-width="0.80"/>
<line x1="401.25" y1="418.90" x2="401.25" y2="421.40" stroke="#666" stroke-width="0.80"/>
<line x1="427.17" y1="418.90" x2="427.17" y2="421.40" stroke="#666" stroke-width="0.80"/>
<line x1="453.10" y1="418.90" x2="453.10" y2="421.40" stroke="#666" stroke-width="0.80"/>
<line x1="479.02" y1="418.90" x2="479.02" y2="421.40" stroke="#666" stroke-width="0.80"/>
<line x1="504.95" y1="418.90" x2="504.95" y2="421.40" stroke="#666" stroke-width="0.80"/>
<text x="340.49" y="427.90" font-size="8.32" fill="#262626" font-weight="normal" font-style="normal" textLength="17.81" lengthAdjust="spacingAndGlyphs">5000</text>
<text x="366.42" y="427.90" font-size="8.32" fill="#262626" font-weight="normal" font-style="normal" textLength="17.81" lengthAdjust="spacingAndGlyphs">5250</text>
<text x="392.34" y="427.90" font-size="8.32" fill="#262626" font-weight="normal" font-style="normal" textLength="17.81" lengthAdjust="spacingAndGlyphs">5500</text>
<text x="418.27" y="427.90" font-size="8.32" fill="#262626" font-weight="normal" font-style="normal" textLength="17.81" lengthAdjust="spacingAndGlyphs">5750</text>
<text x="444.19" y="427.90" font-size="8.32" fill="#262626" font-weight="normal" font-style="normal" textLength="17.81" lengthAdjust="spacingAndGlyphs">6000</text>
<text x="470.12" y="427.90" font-size="8.32" fill="#262626" font-weight="normal" font-style="normal" textLength="17.81" lengthAdjust="spacingAndGlyphs">6250</text>
<text x="496.04" y="427.90" font-size="8.32" fill="#262626" font-weight="normal" font-style="normal" textLength="17.81" lengthAdjust="spacingAndGlyphs">6500</text>
<text x="400.84" y="438.60" font-size="6.99" fill="#262626" font-weight="normal" font-style="italic" textLength="9.41" lengthAdjust="spacingAndGlyphs">TW</text>
<text x="410.25" y="441.80" font-size="9.98" fill="#262626" font-weight="normal" font-style="normal" textLength="17.06" lengthAdjust="spacingAndGlyphs">CCS</text>
<text x="427.31" y="443.60" font-size="6.99" fill="#262626" font-weight="normal" font-style="italic" textLength="8.14" lengthAdjust="spacingAndGlyphs">N2</text>
<text x="438.12" y="441.80" font-size="9.98" fill="#262626" font-weight="normal" font-style="normal" textLength="9.02" lengthAdjust="spacingAndGlyphs">(Å</text>
<text x="447.14" y="438.40" font-size="6.99" fill="#262626" font-weight="normal" font-style="normal" textLength="3.74" lengthAdjust="spacingAndGlyphs">2</text>
<text x="450.88" y="441.80" font-size="9.98" fill="#262626" font-weight="normal" font-style="normal" textLength="3.28" lengthAdjust="spacingAndGlyphs">)</text>
<text x="185.15" y="197.70" font-size="12.28" fill="#111" font-weight="normal" font-style="normal" textLength="9.38" lengthAdjust="spacingAndGlyphs">C</text>
<g shape-rendering="crispEdges">
<rect x="212.60" y="205.50" width="27.96" height="2.28" fill="#fcf5e6"/>
<rect x="240.26" y="205.50" width="4.25" height="2.28" fill="#fcf5e6"/>
<rect x="244.21" y="205.50" width="4.25" height="2.28" fill="#fcf5e6"/>
<rect x="248.16" y="205.50" width="53.64" height="2.28" fill="#fcf4e5"/>
<rect x="212.60" y="207.48" width="25.98" height="2.28" fill="#fcf5e6"/>
<rect x="238.28" y="207.48" width="2.28" height="2.28" fill="#fcf5e6"/>
<rect x="240.26" y="207.48" width="4.25" height="2.28" fill="#fcf5e6"/>
<rect x="244.21" y="207.48" width="2.28" height="2.28" fill="#fcf4e5"/>
<rect x="246.18" y="207.48" width="2.28" height="2.28" fill="#fdf3e4"/>
<rect x="248.16" y="207.48" width="2.28" height="2.28" fill="#fdf2e2"/>
<rect x="250.14" y="207.48" width="8.20" height="2.28" fill="#fdf1e0"/>
<rect x="258.04" y="207.48" width="43.76" height="2.28" fill="#fdefdd"/>
<rect x="212.60" y="209.47" width="24.01" height="2.28" fill="#fcf5e6"/>
<rect x="236.31" y="209.47" width="2.28" height="2.28" fill="#fcf5e6"/>
<rect x="238.28" y="209.47" width="2.28" height="2.28" fill="#fcf5e6"/>
<rect x="240.26" y="209.47" width="2.28" height="2.28" fill="#fcf4e5"/>
<rect x="242.23" y="209.47" width="2.28" height="2.28" fill="#fdf2e2"/>
<rect x="244.21" y="209.47" width="2.28" height="2.28" fill="#fdf1e0"/>
<rect x="246.18" y="209.47" width="2.28" height="2.28" fill="#fdedda"/>
<rect x="248.16" y="209.47" width="2.28" height="2.28" fill="#fdebd5"/>
<rect x="250.14" y="209.47" width="2.28" height="2.28" fill="#fde8d0"/>
<rect x="252.11" y="209.47" width="2.28" height="2.28" fill="#fde5ca"/>
<rect x="254.09" y="209.47" width="47.71" height="2.28" fill="#fde1c3"/>
<rect x="212.60" y="211.45" width="22.03" height="2.28" fill="#fcf5e6"/>
<rect x="234.33" y="211.45" width="2.28" height="2.28" fill="#fcf5e6"/>
<rect x="236.31" y="211.45" width="2.28" height="2.28" fill="#fcf5e6"/>
<rect x="238.28" y="211.45" width="2.28" height="2.28" fill="#fcf4e5"/>
<rect x="240.26" y="211.45" width="2.28" height="2.28" fill="#fdf2e2"/>
<rect x="242.23" y="211.45" width="2.28" height="2.28" fill="#fdedda"/>
<rect x="244.21" y="211.45" width="2.28" height="2.28" fill="#fde5ca"/>
<rect x="246.18" y="211.45" width="2.28" height="2.28" fill="#fdd9b3"/>
<rect x="248.16" y="211.45" width="2.28" height="2.28" fill="#fdcfa0"/>
<rect x="250.14" y="211.45" width="2.28" height="2.28" fill="#fdc692"/>
<rect x="252.11" y="211.45" width="2.28" height="2.28" fill="#fdc28b"/>
<rect x="254.09" y="211.45" width="6.23" height="2.28" fill="#fdbe84"/>
<rect x="260.01" y="211.45" width="41.79" height="2.28" fill="#fdb97d"/>
<rect x="212.60" y="213.44" width="20.06" height="2.28" fill="#fcf5e6"/>
<rect x="232.36" y="213.44" width="2.28" height="2.28" fill="#fcf5e6"/>
<rect x="234.33" y="213.44" width="2.28" height="2.28" fill="#fcf5e6"/>
<rect x="236.31" y="213.44" width="2.28" height="2.28" fill="#fcf4e5"/>
<rect x="238.28" y="213.44" width="2.28" height="2.28" fill="#fdf2e2"/>
<rect x="240.26" y="213.44" width="2.28" height="2.28" fill="#fdebd5"/>
<rect x="242.23" y="213.44" width="2.28" height="2.28" fill="#fdddbb"/>
<rect x="244.21" y="213.44" width="2.28" height="2.28" fill="#fdca99"/>
<rect x="246.18" y="213.44" width="2.28" height="2.28" fill="#fdb97d"/>
<rect x="248.16" y="213.44" width="2.28" height="2.28" fill="#fda863"/>
<rect x="250.14" y="213.44" width="2.28" height="2.28" fill="#fd9c51"/>
<rect x="252.11" y="213.44" width="2.28" height="2.28" fill="#fd9446"/>
<rect x="254.09" y="213.44" width="2.28" height="2.28" fill="#fd9040"/>
<rect x="256.06" y="213.44" width="14.13" height="2.28" fill="#fc8a39"/>
<rect x="269.89" y="213.44" width="31.91" height="2.28" fill="#fb8634"/>
<rect x="212.60" y="215.42" width="20.06" height="2.28" fill="#fcf5e6"/>
<rect x="232.36" y="215.42" width="2.28" height="2.28" fill="#fcf5e6"/>
<rect x="234.33" y="215.42" width="2.28" height="2.28" fill="#fcf5e6"/>
<rect x="236.31" y="215.42" width="2.28" height="2.28" fill="#fdf2e2"/>
<rect x="238.28" y="215.42" width="2.28" height="2.28" fill="#fdedda"/>
<rect x="240.26" y="215.42" width="2.28" height="2.28" fill="#fde1c3"/>
<rect x="242.23" y="215.42" width="2.28" height="2.28" fill="#fdc692"/>
<rect x="244.21" y="215.42" width="2.28" height="2.28" fill="#fdad69"/>
<rect x="246.18" y="215.42" width="2.28" height="2.28" fill="#fd9446"/>
<rect x="248.16" y="215.42" width="2.28" height="2.28" fill="#f67824"/>
<rect x="250.14" y="215.42" width="2.28" height="2.28" fill="#f26b15"/>
<rect x="252.11" y="215.42" width="2.28" height="2.28" fill="#e95e0d"/>
<rect x="254.09" y="215.42" width="2.28" height="2.28" fill="#e35608"/>
<rect x="256.06" y="215.42" width="4.25" height="2.28" fill="#e05206"/>
<rect x="260.01" y="215.42" width="41.79" height="2.28" fill="#dd4d04"/>
<rect x="212.60" y="217.41" width="18.08" height="2.28" fill="#fcf5e6"/>
<rect x="230.38" y="217.41" width="2.28" height="2.28" fill="#fcf5e6"/>
<rect x="232.36" y="217.41" width="2.28" height="2.28" fill="#fcf5e6"/>
<rect x="234.33" y="217.41" width="2.28" height="2.28" fill="#fcf4e5"/>
<rect x="236.31" y="217.41" width="2.28" height="2.28" fill="#fdf1e0"/>
<rect x="238.28" y="217.41" width="2.28" height="2.28" fill="#fde8d0"/>
<rect x="240.26" y="217.41" width="2.28" height="2.28" fill="#fdcfa0"/>
<rect x="242.23" y="217.41" width="2.28" height="2.28" fill="#fdb170"/>
<rect x="244.21" y="217.41" width="2.28" height="2.28" fill="#fd9040"/>
<rect x="246.18" y="217.41" width="2.28" height="2.28" fill="#f26b15"/>
<rect x="248.16" y="217.41" width="2.28" height="2.28" fill="#e05206"/>
<rect x="250.14" y="217.41" width="2.28" height="2.28" fill="#c64102"/>
<rect x="252.11" y="217.41" width="2.28" height="2.28" fill="#ad3803"/>
<rect x="254.09" y="217.41" width="2.28" height="2.28" fill="#a13403"/>
<rect x="256.06" y="217.41" width="2.28" height="2.28" fill="#9c3203"/>
<rect x="258.04" y="217.41" width="6.23" height="2.28" fill="#973003"/>
<rect x="263.96" y="217.41" width="37.84" height="2.28" fill="#932f03"/>
<rect x="212.60" y="219.39" width="18.08" height="2.28" fill="#fcf5e6"/>
<rect x="230.38" y="219.39" width="2.28" height="2.28" fill="#fcf5e6"/>
<rect x="232.36" y="219.39" width="2.28" height="2.28" fill="#fcf5e6"/>
<rect x="234.33" y="219.39" width="2.28" height="2.28" fill="#fdf3e4"/>
<rect x="236.31" y="219.39" width="2.28" height="2.28" fill="#fdefdd"/>
<rect x="238.28" y="219.39" width="2.28" height="2.28" fill="#fde5ca"/>
<rect x="240.26" y="219.39" width="2.28" height="2.28" fill="#fdc692"/>
<rect x="242.23" y="219.39" width="2.28" height="2.28" fill="#fda45d"/>
<rect x="244.21" y="219.39" width="2.28" height="2.28" fill="#f87d29"/>
<rect x="246.18" y="219.39" width="2.28" height="2.28" fill="#e35608"/>
<rect x="248.16" y="219.39" width="2.28" height="2.28" fill="#b93d02"/>
<rect x="250.14" y="219.39" width="2.28" height="2.28" fill="#9c3203"/>
<rect x="252.11" y="219.39" width="2.28" height="2.28" fill="#892b04"/>
<rect x="254.09" y="219.39" width="47.71" height="2.28" fill="#7f2704"/>
<rect x="212.60" y="221.38" width="18.08" height="2.28" fill="#fcf5e6"/>
<rect x="230.38" y="221.38" width="2.28" height="2.28" fill="#fcf5e6"/>
<rect x="232.36" y="221.38" width="2.28" height="2.28" fill="#fcf5e6"/>
<rect x="234.33" y="221.38" width="2.28" height="2.28" fill="#fdf3e4"/>
<rect x="236.31" y="221.38" width="2.28" height="2.28" fill="#fdefdd"/>
<rect x="238.28" y="221.38" width="2.28" height="2.28" fill="#fde1c3"/>
<rect x="240.26" y="221.38" width="2.28" height="2.28" fill="#fdc692"/>
<rect x="242.23" y="221.38" width="2.28" height="2.28" fill="#fda057"/>
<rect x="244.21" y="221.38" width="2.28" height="2.28" fill="#f67824"/>
<rect x="246.18" y="221.38" width="2.28" height="2.28" fill="#e05206"/>
<rect x="248.16" y="221.38" width="2.28" height="2.28" fill="#b33b02"/>
<rect x="250.14" y="221.38" width="2.28" height="2.28" fill="#973003"/>
<rect x="252.11" y="221.38" width="2.28" height="2.28" fill="#842904"/>
<rect x="254.09" y="221.38" width="47.71" height="2.28" fill="#7f2704"/>
<rect x="212.60" y="223.36" width="18.08" height="2.28" fill="#fcf5e6"/>
<rect x="230.38" y="223.36" width="2.28" height="2.28" fill="#fcf5e6"/>
<rect x="232.36" y="223.36" width="2.28" height="2.28" fill="#fcf5e6"/>
<rect x="234.33" y="223.36" width="2.28" height="2.28" fill="#fdf3e4"/>
<rect x="236.31" y="223.36" width="2.28" height="2.28" fill="#fdefdd"/>
<rect x="238.28" y="223.36" width="2.28" height="2.28" fill="#fde5ca"/>
<rect x="240.26" y="223.36" width="2.28" height="2.28" fill="#fdca99"/>
<rect x="242.23" y="223.36" width="2.28" height="2.28" fill="#fda863"/>
<rect x="244.21" y="223.36" width="2.28" height="2.28" fill="#fb8634"/>
<rect x="246.18" y="223.36" width="2.28" height="2.28" fill="#e95e0d"/>
<rect x="248.16" y="223.36" width="2.28" height="2.28" fill="#d34601"/>
<rect x="250.14" y="223.36" width="2.28" height="2.28" fill="#b33b02"/>
<rect x="252.11" y="223.36" width="2.28" height="2.28" fill="#9c3203"/>
<rect x="254.09" y="223.36" width="2.28" height="2.28" fill="#932f03"/>
<rect x="256.06" y="223.36" width="4.25" height="2.28" fill="#8e2d04"/>
<rect x="260.01" y="223.36" width="41.79" height="2.28" fill="#892b04"/>
<rect x="212.60" y="225.35" width="18.08" height="2.28" fill="#fcf5e6"/>
<rect x="230.38" y="225.35" width="2.28" height="2.28" fill="#fcf5e6"/>
<rect x="232.36" y="225.35" width="2.28" height="2.28" fill="#fcf5e6"/>
<rect x="234.33" y="225.35" width="2.28" height="2.28" fill="#fcf4e5"/>
<rect x="236.31" y="225.35" width="2.28" height="2.28" fill="#fdf1e0"/>
<rect x="238.28" y="225.35" width="2.28" height="2.28" fill="#fde8d0"/>
<rect x="240.26" y="225.35" width="2.28" height="2.28" fill="#fdd4aa"/>
<rect x="242.23" y="225.35" width="2.28" height="2.28" fill="#fdb576"/>
<rect x="244.21" y="225.35" width="2.28" height="2.28" fill="#fd984b"/>
<rect x="246.18" y="225.35" width="2.28" height="2.28" fill="#f67824"/>
<rect x="248.16" y="225.35" width="2.28" height="2.28" fill="#ec620f"/>
<rect x="250.14" y="225.35" width="2.28" height="2.28" fill="#e05206"/>
<rect x="252.11" y="225.35" width="2.28" height="2.28" fill="#da4902"/>
<rect x="254.09" y="225.35" width="2.28" height="2.28" fill="#d34601"/>
<rect x="256.06" y="225.35" width="45.74" height="2.28" fill="#cd4401"/>
<rect x="212.60" y="227.33" width="18.08" height="2.28" fill="#fcf5e6"/>
<rect x="230.38" y="227.33" width="2.28" height="2.28" fill="#fcf5e6"/>
<rect x="232.36" y="227.33" width="2.28" height="2.28" fill="#fcf5e6"/>
<rect x="234.33" y="227.33" width="2.28" height="2.28" fill="#fcf4e5"/>
<rect x="236.31" y="227.33" width="2.28" height="2.28" fill="#fdf1e0"/>
<rect x="238.28" y="227.33" width="2.28" height="2.28" fill="#fdebd5"/>
<rect x="240.26" y="227.33" width="2.28" height="2.28" fill="#fdd9b3"/>
<rect x="242.23" y="227.33" width="2.28" height="2.28" fill="#fdc28b"/>
<rect x="244.21" y="227.33" width="2.28" height="2.28" fill="#fda863"/>
<rect x="246.18" y="227.33" width="2.28" height="2.28" fill="#fd9446"/>
<rect x="248.16" y="227.33" width="2.28" height="2.28" fill="#f9812e"/>
<rect x="250.14" y="227.33" width="2.28" height="2.28" fill="#f67824"/>
<rect x="252.11" y="227.33" width="8.20" height="2.28" fill="#f5741f"/>
<rect x="260.01" y="227.33" width="41.79" height="2.28" fill="#f67824"/>
<rect x="212.60" y="229.32" width="18.08" height="2.28" fill="#fcf5e6"/>
<rect x="230.38" y="229.32" width="2.28" height="2.28" fill="#fcf5e6"/>
<rect x="232.36" y="229.32" width="2.28" height="2.28" fill="#fcf5e6"/>
<rect x="234.33" y="229.32" width="2.28" height="2.28" fill="#fdf3e4"/>
<rect x="236.31" y="229.32" width="2.28" height="2.28" fill="#fdefdd"/>
<rect x="238.28" y="229.32" width="2.28" height="2.28" fill="#fde5ca"/>
<rect x="240.26" y="229.32" width="2.28" height="2.28" fill="#fdd4aa"/>
<rect x="242.23" y="229.32" width="2.28" height="2.28" fill="#fdbe84"/>
<rect x="244.21" y="229.32" width="2.28" height="2.28" fill="#fdad69"/>
<rect x="246.18" y="229.32" width="2.28" height="2.28" fill="#fd9c51"/>
<rect x="248.16" y="229.32" width="4.25" height="2.28" fill="#fd9446"/>
<rect x="252.11" y="229.32" width="2.28" height="2.28" fill="#fd984b"/>
<rect x="254.09" y="229.32" width="2.28" height="2.28" fill="#fd9c51"/>
<rect x="256.06" y="229.32" width="2.28" height="2.28" fill="#fda057"/>
<rect x="258.04" y="229.32" width="2.28" height="2.28" fill="#fda45d"/>
<rect x="260.01" y="229.32" width="2.28" height="2.28" fill="#fda863"/>
<rect x="261.99" y="229.32" width="39.81" height="2.28" fill="#fdad69"/>
<rect x="212.60" y="231.30" width="18.08" height="2.28" fill="#fcf5e6"/>
<rect x="230.38" y="231.30" width="2.28" height="2.28" fill="#fcf5e6"/>
<rect x="232.36" y="231.30" width="2.28" height="2.28" fill="#fcf4e5"/>
<rect x="234.33" y="231.30" width="2.28" height="2.28" fill="#fdf1e0"/>
<rect x="236.31" y="231.30" width="2.28" height="2.28" fill="#fdebd5"/>
<rect x="238.28" y="231.30" width="2.28" height="2.28" fill="#fdd9b3"/>
<rect x="240.26" y="231.30" width="2.28" height="2.28" fill="#fdc28b"/>
<rect x="242.23" y="231.30" width="2.28" height="2.28" fill="#fdb170"/>
<rect x="244.21" y="231.30" width="2.28" height="2.28" fill="#fda057"/>
<rect x="246.18" y="231.30" width="4.25" height="2.28" fill="#fd9446"/>
<rect x="250.14" y="231.30" width="2.28" height="2.28" fill="#fd984b"/>
<rect x="252.11" y="231.30" width="2.28" height="2.28" fill="#fda45d"/>
<rect x="254.09" y="231.30" width="2.28" height="2.28" fill="#fdb170"/>
<rect x="256.06" y="231.30" width="2.28" height="2.28" fill="#fdb97d"/>
<rect x="258.04" y="231.30" width="2.28" height="2.28" fill="#fdc692"/>
<rect x="260.01" y="231.30" width="2.28" height="2.28" fill="#fdca99"/>
<rect x="261.99" y="231.30" width="2.28" height="2.28" fill="#fdcfa0"/>
<rect x="263.96" y="231.30" width="4.25" height="2.28" fill="#fdd4aa"/>
<rect x="267.92" y="231.30" width="33.88" height="2.28" fill="#fdd9b3"/>
<rect x="212.60" y="233.29" width="16.10" height="2.28" fill="#fcf5e6"/>
<rect x="228.40" y="233.29" width="2.28" height="2.28" fill="#fcf5e6"/>
<rect x="230.38" y="233.29" width="2.28" height="2.28" fill="#fcf5e6"/>
<rect x="232.36" y="233.29" width="2.28" height="2.28" fill="#fdf2e2"/>
<rect x="234.33" y="233.29" width="2.28" height="2.28" fill="#fdedda"/>
<rect x="236.31" y="233.29" width="2.28" height="2.28" fill="#fdddbb"/>
<rect x="238.28" y="233.29" width="2.28" height="2.28" fill="#fdc692"/>
<rect x="240.26" y="233.29" width="2.28" height="2.28" fill="#fdad69"/>
<rect x="242.23" y="233.29" width="2.28" height="2.28" fill="#fd9446"/>
<rect x="244.21" y="233.29" width="2.28" height="2.28" fill="#f9812e"/>
<rect x="246.18" y="233.29" width="2.28" height="2.28" fill="#f67824"/>
<rect x="248.16" y="233.29" width="2.28" height="2.28" fill="#f87d29"/>
<rect x="250.14" y="233.29" width="2.28" height="2.28" fill="#fc8a39"/>
<rect x="252.11" y="233.29" width="2.28" height="2.28" fill="#fda057"/>
<rect x="254.09" y="233.29" width="2.28" height="2.28" fill="#fdb170"/>
<rect x="256.06" y="233.29" width="2.28" height="2.28" fill="#fdc692"/>
<rect x="258.04" y="233.29" width="2.28" height="2.28" fill="#fdd9b3"/>
<rect x="260.01" y="233.29" width="2.28" height="2.28" fill="#fde1c3"/>
<rect x="261.99" y="233.29" width="2.28" height="2.28" fill="#fde8d0"/>
<rect x="263.96" y="233.29" width="4.25" height="2.28" fill="#fdebd5"/>
<rect x="267.92" y="233.29" width="33.88" height="2.28" fill="#fdedda"/>
<rect x="212.60" y="235.27" width="16.10" height="2.28" fill="#fcf5e6"/>
<rect x="228.40" y="235.27" width="2.28" height="2.28" fill="#fcf5e6"/>
<rect x="230.38" y="235.27" width="2.28" height="2.28" fill="#fcf4e5"/>
<rect x="232.36" y="235.27" width="2.28" height="2.28" fill="#fdf1e0"/>
<rect x="234.33" y="235.27" width="2.28" height="2.28" fill="#fde8d0"/>
<rect x="236.31" y="235.27" width="2.28" height="2.28" fill="#fdcfa0"/>
<rect x="238.28" y="235.27" width="2.28" height="2.28" fill="#fdb170"/>
<rect x="240.26" y="235.27" width="2.28" height="2.28" fill="#fd9446"/>
<rect x="242.23" y="235.27" width="2.28" height="2.28" fill="#f5741f"/>
<rect x="244.21" y="235.27" width="2.28" height="2.28" fill="#ec620f"/>
<rect x="246.18" y="235.27" width="2.28" height="2.28" fill="#e65a0b"/>
<rect x="248.16" y="235.27" width="2.28" height="2.28" fill="#ec620f"/>
<rect x="250.14" y="235.27" width="2.28" height="2.28" fill="#f5741f"/>
<rect x="252.11" y="235.27" width="2.28" height="2.28" fill="#fd9446"/>
<rect x="254.09" y="235.27" width="2.28" height="2.28" fill="#fdad69"/>
<rect x="256.06" y="235.27" width="2.28" height="2.28" fill="#fdc692"/>
<rect x="258.04" y="235.27" width="2.28" height="2.28" fill="#fdddbb"/>
<rect x="260.01" y="235.27" width="2.28" height="2.28" fill="#fdebd5"/>
<rect x="261.99" y="235.27" width="2.28" height="2.28" fill="#fdefdd"/>
<rect x="263.96" y="235.27" width="2.28" height="2.28" fill="#fdf1e0"/>
<rect x="265.94" y="235.27" width="6.23" height="2.28" fill="#fdf2e2"/>
<rect x="271.87" y="235.27" width="29.93" height="2.28" fill="#fdf3e4"/>
<rect x="212.60" y="237.26" width="16.10" height="2.28" fill="#fcf5e6"/>
<rect x="228.40" y="237.26" width="2.28" height="2.28" fill="#fcf5e6"/>
<rect x="230.38" y="237.26" width="2.28" height="2.28" fill="#fcf4e5"/>
<rect x="232.36" y="237.26" width="2.28" height="2.28" fill="#fdefdd"/>
<rect x="234.33" y="237.26" width="2.28" height="2.28" fill="#fde1c3"/>
<rect x="236.31" y="237.26" width="2.28" height="2.28" fill="#fdc28b"/>
<rect x="238.28" y="237.26" width="2.28" height="2.28" fill="#fda45d"/>
<rect x="240.26" y="237.26" width="2.28" height="2.28" fill="#f87d29"/>
<rect x="242.23" y="237.26" width="2.28" height="2.28" fill="#e95e0d"/>
<rect x="244.21" y="237.26" width="2.28" height="2.28" fill="#da4902"/>
<rect x="246.18" y="237.26" width="2.28" height="2.28" fill="#d34601"/>
<rect x="248.16" y="237.26" width="2.28" height="2.28" fill="#dd4d04"/>
<rect x="250.14" y="237.26" width="2.28" height="2.28" fill="#ef6612"/>
<rect x="252.11" y="237.26" width="2.28" height="2.28" fill="#fb8634"/>
<rect x="254.09" y="237.26" width="2.28" height="2.28" fill="#fda863"/>
<rect x="256.06" y="237.26" width="2.28" height="2.28" fill="#fdc692"/>
<rect x="258.04" y="237.26" width="2.28" height="2.28" fill="#fde1c3"/>
<rect x="260.01" y="237.26" width="2.28" height="2.28" fill="#fdedda"/>
<rect x="261.99" y="237.26" width="2.28" height="2.28" fill="#fdf2e2"/>
<rect x="263.96" y="237.26" width="2.28" height="2.28" fill="#fdf3e4"/>
<rect x="265.94" y="237.26" width="4.25" height="2.28" fill="#fcf4e5"/>
<rect x="269.89" y="237.26" width="31.91" height="2.28" fill="#fcf5e6"/>
<rect x="212.60" y="239.24" width="16.10" height="2.28" fill="#fcf5e6"/>
<rect x="228.40" y="239.24" width="2.28" height="2.28" fill="#fcf5e6"/>
<rect x="230.38" y="239.24" width="2.28" height="2.28" fill="#fdf3e4"/>
<rect x="232.36" y="239.24" width="2.28" height="2.28" fill="#fdefdd"/>
<rect x="234.33" y="239.24" width="2.28" height="2.28" fill="#fde1c3"/>
<rect x="236.31" y="239.24" width="2.28" height="2.28" fill="#fdc28b"/>
<rect x="238.28" y="239.24" width="2.28" height="2.28" fill="#fda057"/>
<rect x="240.26" y="239.24" width="2.28" height="2.28" fill="#f87d29"/>
<rect x="242.23" y="239.24" width="2.28" height="2.28" fill="#e95e0d"/>
<rect x="244.21" y="239.24" width="2.28" height="2.28" fill="#da4902"/>
<rect x="246.18" y="239.24" width="2.28" height="2.28" fill="#d34601"/>
<rect x="248.16" y="239.24" width="2.28" height="2.28" fill="#dd4d04"/>
<rect x="250.14" y="239.24" width="2.28" height="2.28" fill="#ef6612"/>
<rect x="252.11" y="239.24" width="2.28" height="2.28" fill="#fb8634"/>
<rect x="254.09" y="239.24" width="2.28" height="2.28" fill="#fda863"/>
<rect x="256.06" y="239.24" width="2.28" height="2.28" fill="#fdca99"/>
<rect x="258.04" y="239.24" width="2.28" height="2.28" fill="#fde5ca"/>
<rect x="260.01" y="239.24" width="2.28" height="2.28" fill="#fdefdd"/>
<rect x="261.99" y="239.24" width="2.28" height="2.28" fill="#fdf3e4"/>
<rect x="263.96" y="239.24" width="2.28" height="2.28" fill="#fcf4e5"/>
<rect x="265.94" y="239.24" width="2.28" height="2.28" fill="#fcf5e6"/>
<rect x="267.92" y="239.24" width="33.88" height="2.28" fill="#fcf5e6"/>
<rect x="212.60" y="241.23" width="16.10" height="2.28" fill="#fcf5e6"/>
<rect x="228.40" y="241.23" width="2.28" height="2.28" fill="#fcf5e6"/>
<rect x="230.38" y="241.23" width="2.28" height="2.28" fill="#fcf4e5"/>
<rect x="232.36" y="241.23" width="2.28" height="2.28" fill="#fdf1e0"/>
<rect x="234.33" y="241.23" width="2.28" height="2.28" fill="#fde5ca"/>
<rect x="236.31" y="241.23" width="2.28" height="2.28" fill="#fdca99"/>
<rect x="238.28" y="241.23" width="2.28" height="2.28" fill="#fdad69"/>
<rect x="240.26" y="241.23" width="2.28" height="2.28" fill="#fd9040"/>
<rect x="242.23" y="241.23" width="2.28" height="2.28" fill="#f36f1a"/>
<rect x="244.21" y="241.23" width="2.28" height="2.28" fill="#e95e0d"/>
<rect x="246.18" y="241.23" width="2.28" height="2.28" fill="#e35608"/>
<rect x="248.16" y="241.23" width="2.28" height="2.28" fill="#e95e0d"/>
<rect x="250.14" y="241.23" width="2.28" height="2.28" fill="#f5741f"/>
<rect x="252.11" y="241.23" width="2.28" height="2.28" fill="#fd9446"/>
<rect x="254.09" y="241.23" width="2.28" height="2.28" fill="#fdb576"/>
<rect x="256.06" y="241.23" width="2.28" height="2.28" fill="#fdd4aa"/>
<rect x="258.04" y="241.23" width="2.28" height="2.28" fill="#fde8d0"/>
<rect x="260.01" y="241.23" width="2.28" height="2.28" fill="#fdf1e0"/>
<rect x="261.99" y="241.23" width="2.28" height="2.28" fill="#fcf4e5"/>
<rect x="263.96" y="241.23" width="2.28" height="2.28" fill="#fcf5e6"/>
<rect x="265.94" y="241.23" width="4.25" height="2.28" fill="#fcf5e6"/>
<rect x="269.89" y="241.23" width="31.91" height="2.28" fill="#fcf5e6"/>
<rect x="212.60" y="243.21" width="16.10" height="2.28" fill="#fcf5e6"/>
<rect x="228.40" y="243.21" width="2.28" height="2.28" fill="#fcf5e6"/>
<rect x="230.38" y="243.21" width="2.28" height="2.28" fill="#fcf5e6"/>
<rect x="232.36" y="243.21" width="2.28" height="2.28" fill="#fdf2e2"/>
<rect x="234.33" y="243.21" width="2.28" height="2.28" fill="#fdedda"/>
<rect x="236.31" y="243.21" width="2.28" height="2.28" fill="#fdddbb"/>
<rect x="238.28" y="243.21" width="2.28" height="2.28" fill="#fdc28b"/>
<rect x="240.26" y="243.21" width="2.28" height="2.28" fill="#fda863"/>
<rect x="242.23" y="243.21" width="2.28" height="2.28" fill="#fd9446"/>
<rect x="244.21" y="243.21" width="2.28" height="2.28" fill="#f9812e"/>
<rect x="246.18" y="243.21" width="2.28" height="2.28" fill="#f87d29"/>
<rect x="248.16" y="243.21" width="2.28" height="2.28" fill="#f9812e"/>
<rect x="250.14" y="243.21" width="2.28" height="2.28" fill="#fd9446"/>
<rect x="252.11" y="243.21" width="2.28" height="2.28" fill="#fdad69"/>
<rect x="254.09" y="243.21" width="2.28" height="2.28" fill="#fdc692"/>
<rect x="256.06" y="243.21" width="2.28" height="2.28" fill="#fde1c3"/>
<rect x="258.04" y="243.21" width="2.28" height="2.28" fill="#fdedda"/>
<rect x="260.01" y="243.21" width="2.28" height="2.28" fill="#fdf3e4"/>
<rect x="261.99" y="243.21" width="2.28" height="2.28" fill="#fcf5e6"/>
<rect x="263.96" y="243.21" width="2.28" height="2.28" fill="#fcf5e6"/>
<rect x="265.94" y="243.21" width="35.86" height="2.28" fill="#fcf5e6"/>
<rect x="212.60" y="245.20" width="18.08" height="2.28" fill="#fcf5e6"/>
<rect x="230.38" y="245.20" width="2.28" height="2.28" fill="#fcf5e6"/>
<rect x="232.36" y="245.20" width="2.28" height="2.28" fill="#fcf4e5"/>
<rect x="234.33" y="245.20" width="2.28" height="2.28" fill="#fdf2e2"/>
<rect x="236.31" y="245.20" width="2.28" height="2.28" fill="#fdebd5"/>
<rect x="238.28" y="245.20" width="2.28" height="2.28" fill="#fdddbb"/>
<rect x="240.26" y="245.20" width="2.28" height="2.28" fill="#fdc692"/>
<rect x="242.23" y="245.20" width="2.28" height="2.28" fill="#fdb576"/>
<rect x="244.21" y="245.20" width="2.28" height="2.28" fill="#fda863"/>
<rect x="246.18" y="245.20" width="2.28" height="2.28" fill="#fda45d"/>
<rect x="248.16" y="245.20" width="2.28" height="2.28" fill="#fda863"/>
<rect x="250.14" y="245.20" width="2.28" height="2.28" fill="#fdb170"/>
<rect x="252.11" y="245.20" width="2.28" height="2.28" fill="#fdc692"/>
<rect x="254.09" y="245.20" width="2.28" height="2.28" fill="#fdd9b3"/>
<rect x="256.06" y="245.20" width="2.28" height="2.28" fill="#fdebd5"/>
<rect x="258.04" y="245.20" width="2.28" height="2.28" fill="#fdf1e0"/>
<rect x="260.01" y="245.20" width="2.28" height="2.28" fill="#fcf4e5"/>
<rect x="261.99" y="245.20" width="2.28" height="2.28" fill="#fcf5e6"/>
<rect x="263.96" y="245.20" width="37.84" height="2.28" fill="#fcf5e6"/>
<rect x="212.60" y="247.18" width="20.06" height="2.28" fill="#fcf5e6"/>
<rect x="232.36" y="247.18" width="2.28" height="2.28" fill="#fcf5e6"/>
<rect x="234.33" y="247.18" width="2.28" height="2.28" fill="#fcf4e5"/>
<rect x="236.31" y="247.18" width="2.28" height="2.28" fill="#fdf2e2"/>
<rect x="238.28" y="247.18" width="2.28" height="2.28" fill="#fdedda"/>
<rect x="240.26" y="247.18" width="2.28" height="2.28" fill="#fde5ca"/>
<rect x="242.23" y="247.18" width="2.28" height="2.28" fill="#fdd9b3"/>
<rect x="244.21" y="247.18" width="2.28" height="2.28" fill="#fdca99"/>
<rect x="246.18" y="247.18" width="4.25" height="2.28" fill="#fdc692"/>
<rect x="250.14" y="247.18" width="2.28" height="2.28" fill="#fdcfa0"/>
<rect x="252.11" y="247.18" width="2.28" height="2.28" fill="#fdddbb"/>
<rect x="254.09" y="247.18" width="2.28" height="2.28" fill="#fde8d0"/>
<rect x="256.06" y="247.18" width="2.28" height="2.28" fill="#fdefdd"/>
<rect x="258.04" y="247.18" width="2.28" height="2.28" fill="#fdf3e4"/>
<rect x="260.01" y="247.18" width="2.28" height="2.28" fill="#fcf5e6"/>
<rect x="261.99" y="247.18" width="2.28" height="2.28" fill="#fcf5e6"/>
<rect x="263.96" y="247.18" width="37.84" height="2.28" fill="#fcf5e6"/>
<rect x="212.60" y="249.17" width="22.03" height="2.28" fill="#fcf5e6"/>
<rect x="234.33" y="249.17" width="2.28" height="2.28" fill="#fcf5e6"/>
<rect x="236.31" y="249.17" width="2.28" height="2.28" fill="#fcf4e5"/>
<rect x="238.28" y="249.17" width="2.28" height="2.28" fill="#fdf2e2"/>
<rect x="240.26" y="249.17" width="2.28" height="2.28" fill="#fdefdd"/>
<rect x="242.23" y="249.17" width="2.28" height="2.28" fill="#fdebd5"/>
<rect x="244.21" y="249.17" width="2.28" height="2.28" fill="#fde5ca"/>
<rect x="246.18" y="249.17" width="2.28" height="2.28" fill="#fde1c3"/>
<rect x="248.16" y="249.17" width="2.28" height="2.28" fill="#fdddbb"/>
<rect x="250.14" y="249.17" width="2.28" height="2.28" fill="#fde1c3"/>
<rect x="252.11" y="249.17" width="2.28" height="2.28" fill="#fde8d0"/>
<rect x="254.09" y="249.17" width="2.28" height="2.28" fill="#fdefdd"/>
<rect x="256.06" y="249.17" width="2.28" height="2.28" fill="#fdf2e2"/>
<rect x="258.04" y="249.17" width="2.28" height="2.28" fill="#fcf4e5"/>
<rect x="260.01" y="249.17" width="2.28" height="2.28" fill="#fcf5e6"/>
<rect x="261.99" y="249.17" width="39.81" height="2.28" fill="#fcf5e6"/>
<rect x="212.60" y="251.15" width="24.01" height="2.28" fill="#fcf5e6"/>
<rect x="236.31" y="251.15" width="2.28" height="2.28" fill="#fcf5e6"/>
<rect x="238.28" y="251.15" width="2.28" height="2.28" fill="#fcf5e6"/>
<rect x="240.26" y="251.15" width="2.28" height="2.28" fill="#fdf3e4"/>
<rect x="242.23" y="251.15" width="2.28" height="2.28" fill="#fdf1e0"/>
<rect x="244.21" y="251.15" width="2.28" height="2.28" fill="#fdedda"/>
<rect x="246.18" y="251.15" width="6.23" height="2.28" fill="#fdebd5"/>
<rect x="252.11" y="251.15" width="2.28" height="2.28" fill="#fdedda"/>
<rect x="254.09" y="251.15" width="2.28" height="2.28" fill="#fdf1e0"/>
<rect x="256.06" y="251.15" width="2.28" height="2.28" fill="#fdf3e4"/>
<rect x="258.04" y="251.15" width="2.28" height="2.28" fill="#fcf5e6"/>
<rect x="260.01" y="251.15" width="2.28" height="2.28" fill="#fcf5e6"/>
<rect x="261.99" y="251.15" width="39.81" height="2.28" fill="#fcf5e6"/>
<rect x="212.60" y="253.13" width="25.98" height="2.28" fill="#fcf5e6"/>
<rect x="238.28" y="253.13" width="2.28" height="2.28" fill="#fcf5e6"/>
<rect x="240.26" y="253.13" width="2.28" height="2.28" fill="#fcf4e5"/>
<rect x="242.23" y="253.13" width="2.28" height="2.28" fill="#fdf3e4"/>
<rect x="244.21" y="253.13" width="2.28" height="2.28" fill="#fdf1e0"/>
<rect x="246.18" y="253.13" width="2.28" height="2.28" fill="#fdefdd"/>
<rect x="248.16" y="253.13" width="4.25" height="2.28" fill="#fdedda"/>
<rect x="252.11" y="253.13" width="2.28" height="2.28" fill="#fdefdd"/>
<rect x="254.09" y="253.13" width="2.28" height="2.28" fill="#fdf2e2"/>
<rect x="256.06" y="253.13" width="2.28" height="2.28" fill="#fcf4e5"/>
<rect x="258.04" y="253.13" width="2.28" height="2.28" fill="#fcf5e6"/>
<rect x="260.01" y="253.13" width="2.28" height="2.28" fill="#fcf5e6"/>
<rect x="261.99" y="253.13" width="39.81" height="2.28" fill="#fcf5e6"/>
<rect x="212.60" y="255.12" width="25.98" height="2.28" fill="#fcf5e6"/>
<rect x="238.28" y="255.12" width="2.28" height="2.28" fill="#fcf5e6"/>
<rect x="240.26" y="255.12" width="2.28" height="2.28" fill="#fcf5e6"/>
<rect x="242.23" y="255.12" width="2.28" height="2.28" fill="#fdf3e4"/>
<rect x="244.21" y="255.12" width="2.28" height="2.28" fill="#fdf2e2"/>
<rect x="246.18" y="255.12" width="2.28" height="2.28" fill="#fdf1e0"/>
<rect x="248.16" y="255.12" width="4.25" height="2.28" fill="#fdefdd"/>
<rect x="252.11" y="255.12" width="2.28" height="2.28" fill="#fdf1e0"/>
<rect x="254.09" y="255.12" width="2.28" height="2.28" fill="#fdf2e2"/>
<rect x="256.06" y="255.12" width="2.28" height="2.28" fill="#fcf4e5"/>
<rect x="258.04" y="255.12" width="2.28" height="2.28" fill="#fcf5e6"/>
<rect x="260.01" y="255.12" width="2.28" height="2.28" fill="#fcf5e6"/>
<rect x="261.99" y="255.12" width="39.81" height="2.28" fill="#fcf5e6"/>
<rect x="212.60" y="257.10" width="25.98" height="2.28" fill="#fcf5e6"/>
<rect x="238.28" y="257.10" width="2.28" height="2.28" fill="#fcf5e6"/>
<rect x="240.26" y="257.10" width="2.28" height="2.28" fill="#fcf5e6"/>
<rect x="242.23" y="257.10" width="2.28" height="2.28" fill="#fcf4e5"/>
<rect x="244.21" y="257.10" width="2.28" height="2.28" fill="#fdf2e2"/>
<rect x="246.18" y="257.10" width="2.28" height="2.28" fill="#fdf1e0"/>
<rect x="248.16" y="257.10" width="4.25" height="2.28" fill="#fdefdd"/>
<rect x="252.11" y="257.10" width="2.28" height="2.28" fill="#fdf1e0"/>
<rect x="254.09" y="257.10" width="2.28" height="2.28" fill="#fdf2e2"/>
<rect x="256.06" y="257.10" width="2.28" height="2.28" fill="#fcf4e5"/>
<rect x="258.04" y="257.10" width="2.28" height="2.28" fill="#fcf5e6"/>
<rect x="260.01" y="257.10" width="2.28" height="2.28" fill="#fcf5e6"/>
<rect x="261.99" y="257.10" width="39.81" height="2.28" fill="#fcf5e6"/>
<rect x="212.60" y="259.09" width="25.98" height="2.28" fill="#fcf5e6"/>
<rect x="238.28" y="259.09" width="2.28" height="2.28" fill="#fcf5e6"/>
<rect x="240.26" y="259.09" width="2.28" height="2.28" fill="#fcf5e6"/>
<rect x="242.23" y="259.09" width="2.28" height="2.28" fill="#fcf4e5"/>
<rect x="244.21" y="259.09" width="2.28" height="2.28" fill="#fdf2e2"/>
<rect x="246.18" y="259.09" width="2.28" height="2.28" fill="#fdf1e0"/>
<rect x="248.16" y="259.09" width="4.25" height="2.28" fill="#fdefdd"/>
<rect x="252.11" y="259.09" width="2.28" height="2.28" fill="#fdf1e0"/>
<rect x="254.09" y="259.09" width="2.28" height="2.28" fill="#fdf2e2"/>
<rect x="256.06" y="259.09" width="2.28" height="2.28" fill="#fdf3e4"/>
<rect x="258.04" y="259.09" width="2.28" height="2.28" fill="#fcf4e5"/>
<rect x="260.01" y="259.09" width="4.25" height="2.28" fill="#fcf5e6"/>
<rect x="263.96" y="259.09" width="37.84" height="2.28" fill="#fcf5e6"/>
<rect x="212.60" y="261.07" width="22.03" height="2.28" fill="#fcf5e6"/>
<rect x="234.33" y="261.07" width="4.25" height="2.28" fill="#fcf5e6"/>
<rect x="238.28" y="261.07" width="2.28" height="2.28" fill="#fcf5e6"/>
<rect x="240.26" y="261.07" width="2.28" height="2.28" fill="#fcf4e5"/>
<rect x="242.23" y="261.07" width="2.28" height="2.28" fill="#fdf3e4"/>
<rect x="244.21" y="261.07" width="2.28" height="2.28" fill="#fdf1e0"/>
<rect x="246.18" y="261.07" width="2.28" height="2.28" fill="#fdefdd"/>
<rect x="248.16" y="261.07" width="2.28" height="2.28" fill="#fdedda"/>
<rect x="250.14" y="261.07" width="2.28" height="2.28" fill="#fdebd5"/>
<rect x="252.11" y="261.07" width="2.28" height="2.28" fill="#fdedda"/>
<rect x="254.09" y="261.07" width="2.28" height="2.28" fill="#fdefdd"/>
<rect x="256.06" y="261.07" width="2.28" height="2.28" fill="#fdf1e0"/>
<rect x="258.04" y="261.07" width="2.28" height="2.28" fill="#fdf3e4"/>
<rect x="260.01" y="261.07" width="2.28" height="2.28" fill="#fcf4e5"/>
<rect x="261.99" y="261.07" width="2.28" height="2.28" fill="#fcf5e6"/>
<rect x="263.96" y="261.07" width="2.28" height="2.28" fill="#fcf5e6"/>
<rect x="265.94" y="261.07" width="35.86" height="2.28" fill="#fcf5e6"/>
<rect x="212.60" y="263.06" width="2.28" height="2.28" fill="#fcf5e6"/>
<rect x="214.58" y="263.06" width="10.18" height="2.28" fill="#fcf5e6"/>
<rect x="224.45" y="263.06" width="8.20" height="2.28" fill="#fcf5e6"/>
<rect x="232.36" y="263.06" width="4.25" height="2.28" fill="#fcf4e5"/>
<rect x="236.31" y="263.06" width="2.28" height="2.28" fill="#fdf3e4"/>
<rect x="238.28" y="263.06" width="2.28" height="2.28" fill="#fdf2e2"/>
<rect x="240.26" y="263.06" width="2.28" height="2.28" fill="#fdf1e0"/>
<rect x="242.23" y="263.06" width="2.28" height="2.28" fill="#fdefdd"/>
<rect x="244.21" y="263.06" width="2.28" height="2.28" fill="#fdebd5"/>
<rect x="246.18" y="263.06" width="2.28" height="2.28" fill="#fde5ca"/>
<rect x="248.16" y="263.06" width="2.28" height="2.28" fill="#fde1c3"/>
<rect x="250.14" y="263.06" width="4.25" height="2.28" fill="#fdddbb"/>
<rect x="254.09" y="263.06" width="2.28" height="2.28" fill="#fde1c3"/>
<rect x="256.06" y="263.06" width="2.28" height="2.28" fill="#fde8d0"/>
<rect x="258.04" y="263.06" width="2.28" height="2.28" fill="#fdedda"/>
<rect x="260.01" y="263.06" width="2.28" height="2.28" fill="#fdf1e0"/>
<rect x="261.99" y="263.06" width="2.28" height="2.28" fill="#fdf3e4"/>
<rect x="263.96" y="263.06" width="2.28" height="2.28" fill="#fcf4e5"/>
<rect x="265.94" y="263.06" width="2.28" height="2.28" fill="#fcf5e6"/>
<rect x="267.92" y="263.06" width="33.88" height="2.28" fill="#fcf5e6"/>
<rect x="212.60" y="265.04" width="6.23" height="2.28" fill="#fcf4e5"/>
<rect x="218.53" y="265.04" width="4.25" height="2.28" fill="#fdf3e4"/>
<rect x="222.48" y="265.04" width="4.25" height="2.28" fill="#fdf2e2"/>
<rect x="226.43" y="265.04" width="4.25" height="2.28" fill="#fdf1e0"/>
<rect x="230.38" y="265.04" width="4.25" height="2.28" fill="#fdefdd"/>
<rect x="234.33" y="265.04" width="2.28" height="2.28" fill="#fdedda"/>
<rect x="236.31" y="265.04" width="2.28" height="2.28" fill="#fdebd5"/>
<rect x="238.28" y="265.04" width="2.28" height="2.28" fill="#fde8d0"/>
<rect x="240.26" y="265.04" width="2.28" height="2.28" fill="#fde5ca"/>
<rect x="242.23" y="265.04" width="2.28" height="2.28" fill="#fdddbb"/>
<rect x="244.21" y="265.04" width="2.28" height="2.28" fill="#fdd4aa"/>
<rect x="246.18" y="265.04" width="2.28" height="2.28" fill="#fdca99"/>
<rect x="248.16" y="265.04" width="2.28" height="2.28" fill="#fdc28b"/>
<rect x="250.14" y="265.04" width="2.28" height="2.28" fill="#fdbe84"/>
<rect x="252.11" y="265.04" width="2.28" height="2.28" fill="#fdb97d"/>
<rect x="254.09" y="265.04" width="2.28" height="2.28" fill="#fdbe84"/>
<rect x="256.06" y="265.04" width="2.28" height="2.28" fill="#fdc692"/>
<rect x="258.04" y="265.04" width="2.28" height="2.28" fill="#fdd4aa"/>
<rect x="260.01" y="265.04" width="2.28" height="2.28" fill="#fde1c3"/>
<rect x="261.99" y="265.04" width="2.28" height="2.28" fill="#fdedda"/>
<rect x="263.96" y="265.04" width="2.28" height="2.28" fill="#fdf2e2"/>
<rect x="265.94" y="265.04" width="2.28" height="2.28" fill="#fcf4e5"/>
<rect x="267.92" y="265.04" width="2.28" height="2.28" fill="#fcf5e6"/>
<rect x="269.89" y="265.04" width="31.91" height="2.28" fill="#fcf5e6"/>
<rect x="212.60" y="267.03" width="2.28" height="2.28" fill="#fdefdd"/>
<rect x="214.58" y="267.03" width="2.28" height="2.28" fill="#fdedda"/>
<rect x="216.55" y="267.03" width="4.25" height="2.28" fill="#fdebd5"/>
<rect x="220.50" y="267.03" width="2.28" height="2.28" fill="#fde8d0"/>
<rect x="222.48" y="267.03" width="2.28" height="2.28" fill="#fde5ca"/>
<rect x="224.45" y="267.03" width="2.28" height="2.28" fill="#fde1c3"/>
<rect x="226.43" y="267.03" width="2.28" height="2.28" fill="#fdddbb"/>
<rect x="228.40" y="267.03" width="2.28" height="2.28" fill="#fdd9b3"/>
<rect x="230.38" y="267.03" width="2.28" height="2.28" fill="#fdd4aa"/>
<rect x="232.36" y="267.03" width="2.28" height="2.28" fill="#fdcfa0"/>
<rect x="234.33" y="267.03" width="2.28" height="2.28" fill="#fdca99"/>
<rect x="236.31" y="267.03" width="2.28" height="2.28" fill="#fdc692"/>
<rect x="238.28" y="267.03" width="2.28" height="2.28" fill="#fdc28b"/>
<rect x="240.26" y="267.03" width="2.28" height="2.28" fill="#fdb97d"/>
<rect x="242.23" y="267.03" width="2.28" height="2.28" fill="#fdb170"/>
<rect x="244.21" y="267.03" width="2.28" height="2.28" fill="#fda863"/>
<rect x="246.18" y="267.03" width="2.28" height="2.28" fill="#fda057"/>
<rect x="248.16" y="267.03" width="2.28" height="2.28" fill="#fd9446"/>
<rect x="250.14" y="267.03" width="2.28" height="2.28" fill="#fd9040"/>
<rect x="252.11" y="267.03" width="2.28" height="2.28" fill="#fc8a39"/>
<rect x="254.09" y="267.03" width="2.28" height="2.28" fill="#fd9040"/>
<rect x="256.06" y="267.03" width="2.28" height="2.28" fill="#fd984b"/>
<rect x="258.04" y="267.03" width="2.28" height="2.28" fill="#fdad69"/>
<rect x="260.01" y="267.03" width="2.28" height="2.28" fill="#fdc28b"/>
<rect x="261.99" y="267.03" width="2.28" height="2.28" fill="#fdd9b3"/>
<rect x="263.96" y="267.03" width="2.28" height="2.28" fill="#fdebd5"/>
<rect x="265.94" y="267.03" width="2.28" height="2.28" fill="#fdf2e2"/>
<rect x="267.92" y="267.03" width="2.28" height="2.28" fill="#fcf4e5"/>
<rect x="269.89" y="267.03" width="2.28" height="2.28" fill="#fcf5e6"/>
<rect x="271.87" y="267.03" width="29.93" height="2.28" fill="#fcf5e6"/>
<rect x="212.60" y="269.01" width="2.28" height="2.28" fill="#fdd4aa"/>
<rect x="214.58" y="269.01" width="2.28" height="2.28" fill="#fdcfa0"/>
<rect x="216.55" y="269.01" width="2.28" height="2.28" fill="#fdca99"/>
<rect x="218.53" y="269.01" width="2.28" height="2.28" fill="#fdc692"/>
<rect x="220.50" y="269.01" width="2.28" height="2.28" fill="#fdbe84"/>
<rect x="222.48" y="269.01" width="2.28" height="2.28" fill="#fdb97d"/>
<rect x="224.45" y="269.01" width="2.28" height="2.28" fill="#fdb576"/>
<rect x="226.43" y="269.01" width="2.28" height="2.28" fill="#fdad69"/>
<rect x="228.40" y="269.01" width="2.28" height="2.28" fill="#fda863"/>
<rect x="230.38" y="269.01" width="2.28" height="2.28" fill="#fda45d"/>
<rect x="232.36" y="269.01" width="2.28" height="2.28" fill="#fd9c51"/>
<rect x="234.33" y="269.01" width="2.28" height="2.28" fill="#fd984b"/>
<rect x="236.31" y="269.01" width="2.28" height="2.28" fill="#fd9446"/>
<rect x="238.28" y="269.01" width="2.28" height="2.28" fill="#fc8a39"/>
<rect x="240.26" y="269.01" width="2.28" height="2.28" fill="#fb8634"/>
<rect x="242.23" y="269.01" width="2.28" height="2.28" fill="#f87d29"/>
<rect x="244.21" y="269.01" width="2.28" height="2.28" fill="#f36f1a"/>
<rect x="246.18" y="269.01" width="2.28" height="2.28" fill="#ef6612"/>
<rect x="248.16" y="269.01" width="2.28" height="2.28" fill="#e65a0b"/>
<rect x="250.14" y="269.01" width="4.25" height="2.28" fill="#e05206"/>
<rect x="254.09" y="269.01" width="2.28" height="2.28" fill="#e35608"/>
<rect x="256.06" y="269.01" width="2.28" height="2.28" fill="#ef6612"/>
<rect x="258.04" y="269.01" width="2.28" height="2.28" fill="#f9812e"/>
<rect x="260.01" y="269.01" width="2.28" height="2.28" fill="#fda057"/>
<rect x="261.99" y="269.01" width="2.28" height="2.28" fill="#fdc28b"/>
<rect x="263.96" y="269.01" width="2.28" height="2.28" fill="#fdddbb"/>
<rect x="265.94" y="269.01" width="2.28" height="2.28" fill="#fdedda"/>
<rect x="267.92" y="269.01" width="2.28" height="2.28" fill="#fdf3e4"/>
<rect x="269.89" y="269.01" width="2.28" height="2.28" fill="#fcf5e6"/>
<rect x="271.87" y="269.01" width="29.93" height="2.28" fill="#fcf5e6"/>
<rect x="212.60" y="271.00" width="2.28" height="2.28" fill="#fda863"/>
<rect x="214.58" y="271.00" width="2.28" height="2.28" fill="#fda057"/>
<rect x="216.55" y="271.00" width="2.28" height="2.28" fill="#fd9c51"/>
<rect x="218.53" y="271.00" width="2.28" height="2.28" fill="#fd9446"/>
<rect x="220.50" y="271.00" width="2.28" height="2.28" fill="#fd9040"/>
<rect x="222.48" y="271.00" width="2.28" height="2.28" fill="#fb8634"/>
<rect x="224.45" y="271.00" width="2.28" height="2.28" fill="#f87d29"/>
<rect x="226.43" y="271.00" width="2.28" height="2.28" fill="#f67824"/>
<rect x="228.40" y="271.00" width="2.28" height="2.28" fill="#f36f1a"/>
<rect x="230.38" y="271.00" width="2.28" height="2.28" fill="#f26b15"/>
<rect x="232.36" y="271.00" width="2.28" height="2.28" fill="#ec620f"/>
<rect x="234.33" y="271.00" width="2.28" height="2.28" fill="#e95e0d"/>
<rect x="236.31" y="271.00" width="2.28" height="2.28" fill="#e65a0b"/>
<rect x="238.28" y="271.00" width="2.28" height="2.28" fill="#e05206"/>
<rect x="240.26" y="271.00" width="2.28" height="2.28" fill="#dd4d04"/>
<rect x="242.23" y="271.00" width="2.28" height="2.28" fill="#d34601"/>
<rect x="244.21" y="271.00" width="2.28" height="2.28" fill="#c64102"/>
<rect x="246.18" y="271.00" width="2.28" height="2.28" fill="#b93d02"/>
<rect x="248.16" y="271.00" width="2.28" height="2.28" fill="#ad3803"/>
<rect x="250.14" y="271.00" width="4.25" height="2.28" fill="#a13403"/>
<rect x="254.09" y="271.00" width="2.28" height="2.28" fill="#b33b02"/>
<rect x="256.06" y="271.00" width="2.28" height="2.28" fill="#d34601"/>
<rect x="258.04" y="271.00" width="2.28" height="2.28" fill="#ef6612"/>
<rect x="260.01" y="271.00" width="2.28" height="2.28" fill="#fc8a39"/>
<rect x="261.99" y="271.00" width="2.28" height="2.28" fill="#fdb170"/>
<rect x="263.96" y="271.00" width="2.28" height="2.28" fill="#fdd4aa"/>
<rect x="265.94" y="271.00" width="2.28" height="2.28" fill="#fdebd5"/>
<rect x="267.92" y="271.00" width="2.28" height="2.28" fill="#fdf2e2"/>
<rect x="269.89" y="271.00" width="2.28" height="2.28" fill="#fcf5e6"/>
<rect x="271.87" y="271.00" width="2.28" height="2.28" fill="#fcf5e6"/>
<rect x="273.84" y="271.00" width="27.96" height="2.28" fill="#fcf5e6"/>
<rect x="212.60" y="272.98" width="2.28" height="2.28" fill="#f67824"/>
<rect x="214.58" y="272.98" width="2.28" height="2.28" fill="#f36f1a"/>
<rect x="216.55" y="272.98" width="2.28" height="2.28" fill="#f26b15"/>
<rect x="218.53" y="272.98" width="2.28" height="2.28" fill="#ec620f"/>
<rect x="220.50" y="272.98" width="2.28" height="2.28" fill="#e65a0b"/>
<rect x="222.48" y="272.98" width="2.28" height="2.28" fill="#e35608"/>
<rect x="224.45" y="272.98" width="2.28" height="2.28" fill="#dd4d04"/>
<rect x="226.43" y="272.98" width="2.28" height="2.28" fill="#d34601"/>
<rect x="228.40" y="272.98" width="2.28" height="2.28" fill="#cd4401"/>
<rect x="230.38" y="272.98" width="2.28" height="2.28" fill="#c64102"/>
<rect x="232.36" y="272.98" width="2.28" height="2.28" fill="#c03f02"/>
<rect x="234.33" y="272.98" width="2.28" height="2.28" fill="#b93d02"/>
<rect x="236.31" y="272.98" width="2.28" height="2.28" fill="#b33b02"/>
<rect x="238.28" y="272.98" width="2.28" height="2.28" fill="#ad3803"/>
<rect x="240.26" y="272.98" width="2.28" height="2.28" fill="#a63603"/>
<rect x="242.23" y="272.98" width="2.28" height="2.28" fill="#a13403"/>
<rect x="244.21" y="272.98" width="2.28" height="2.28" fill="#9c3203"/>
<rect x="246.18" y="272.98" width="2.28" height="2.28" fill="#973003"/>
<rect x="248.16" y="272.98" width="2.28" height="2.28" fill="#932f03"/>
<rect x="250.14" y="272.98" width="2.28" height="2.28" fill="#8e2d04"/>
<rect x="252.11" y="272.98" width="2.28" height="2.28" fill="#932f03"/>
<rect x="254.09" y="272.98" width="2.28" height="2.28" fill="#a13403"/>
<rect x="256.06" y="272.98" width="2.28" height="2.28" fill="#c64102"/>
<rect x="258.04" y="272.98" width="2.28" height="2.28" fill="#ec620f"/>
<rect x="260.01" y="272.98" width="2.28" height="2.28" fill="#fc8a39"/>
<rect x="261.99" y="272.98" width="2.28" height="2.28" fill="#fdb170"/>
<rect x="263.96" y="272.98" width="2.28" height="2.28" fill="#fdd4aa"/>
<rect x="265.94" y="272.98" width="2.28" height="2.28" fill="#fdebd5"/>
<rect x="267.92" y="272.98" width="2.28" height="2.28" fill="#fdf2e2"/>
<rect x="269.89" y="272.98" width="2.28" height="2.28" fill="#fcf5e6"/>
<rect x="271.87" y="272.98" width="2.28" height="2.28" fill="#fcf5e6"/>
<rect x="273.84" y="272.98" width="27.96" height="2.28" fill="#fcf5e6"/>
<rect x="212.60" y="274.97" width="2.28" height="2.28" fill="#e35608"/>
<rect x="214.58" y="274.97" width="2.28" height="2.28" fill="#e05206"/>
<rect x="216.55" y="274.97" width="2.28" height="2.28" fill="#da4902"/>
<rect x="218.53" y="274.97" width="2.28" height="2.28" fill="#d34601"/>
<rect x="220.50" y="274.97" width="2.28" height="2.28" fill="#cd4401"/>
<rect x="222.48" y="274.97" width="2.28" height="2.28" fill="#c03f02"/>
<rect x="224.45" y="274.97" width="2.28" height="2.28" fill="#b93d02"/>
<rect x="226.43" y="274.97" width="2.28" height="2.28" fill="#b33b02"/>
<rect x="228.40" y="274.97" width="4.25" height="2.28" fill="#ad3803"/>
<rect x="232.36" y="274.97" width="12.15" height="2.28" fill="#a63603"/>
<rect x="244.21" y="274.97" width="8.20" height="2.28" fill="#a13403"/>
<rect x="252.11" y="274.97" width="2.28" height="2.28" fill="#ad3803"/>
<rect x="254.09" y="274.97" width="2.28" height="2.28" fill="#c64102"/>
<rect x="256.06" y="274.97" width="2.28" height="2.28" fill="#e35608"/>
<rect x="258.04" y="274.97" width="2.28" height="2.28" fill="#f67824"/>
<rect x="260.01" y="274.97" width="2.28" height="2.28" fill="#fd9c51"/>
<rect x="261.99" y="274.97" width="2.28" height="2.28" fill="#fdbe84"/>
<rect x="263.96" y="274.97" width="2.28" height="2.28" fill="#fdddbb"/>
<rect x="265.94" y="274.97" width="2.28" height="2.28" fill="#fdedda"/>
<rect x="267.92" y="274.97" width="2.28" height="2.28" fill="#fdf3e4"/>
<rect x="269.89" y="274.97" width="2.28" height="2.28" fill="#fcf5e6"/>
<rect x="271.87" y="274.97" width="29.93" height="2.28" fill="#fcf5e6"/>
<rect x="212.60" y="276.95" width="4.25" height="2.28" fill="#dd4d04"/>
<rect x="216.55" y="276.95" width="2.28" height="2.28" fill="#da4902"/>
<rect x="218.53" y="276.95" width="4.25" height="2.28" fill="#d34601"/>
<rect x="222.48" y="276.95" width="2.28" height="2.28" fill="#cd4401"/>
<rect x="224.45" y="276.95" width="10.18" height="2.28" fill="#c64102"/>
<rect x="234.33" y="276.95" width="4.25" height="2.28" fill="#cd4401"/>
<rect x="238.28" y="276.95" width="4.25" height="2.28" fill="#d34601"/>
<rect x="242.23" y="276.95" width="2.28" height="2.28" fill="#da4902"/>
<rect x="244.21" y="276.95" width="4.25" height="2.28" fill="#dd4d04"/>
<rect x="248.16" y="276.95" width="2.28" height="2.28" fill="#e05206"/>
<rect x="250.14" y="276.95" width="2.28" height="2.28" fill="#e35608"/>
<rect x="252.11" y="276.95" width="2.28" height="2.28" fill="#e95e0d"/>
<rect x="254.09" y="276.95" width="2.28" height="2.28" fill="#f36f1a"/>
<rect x="256.06" y="276.95" width="2.28" height="2.28" fill="#fb8634"/>
<rect x="258.04" y="276.95" width="2.28" height="2.28" fill="#fda057"/>
<rect x="260.01" y="276.95" width="2.28" height="2.28" fill="#fdb97d"/>
<rect x="261.99" y="276.95" width="2.28" height="2.28" fill="#fdd4aa"/>
<rect x="263.96" y="276.95" width="2.28" height="2.28" fill="#fdebd5"/>
<rect x="265.94" y="276.95" width="2.28" height="2.28" fill="#fdf1e0"/>
<rect x="267.92" y="276.95" width="2.28" height="2.28" fill="#fcf4e5"/>
<rect x="269.89" y="276.95" width="2.28" height="2.28" fill="#fcf5e6"/>
<rect x="271.87" y="276.95" width="29.93" height="2.28" fill="#fcf5e6"/>
<rect x="212.60" y="278.94" width="10.18" height="2.28" fill="#ef6612"/>
<rect x="222.48" y="278.94" width="2.28" height="2.28" fill="#ec620f"/>
<rect x="224.45" y="278.94" width="6.23" height="2.28" fill="#ef6612"/>
<rect x="230.38" y="278.94" width="4.25" height="2.28" fill="#f26b15"/>
<rect x="234.33" y="278.94" width="2.28" height="2.28" fill="#f36f1a"/>
<rect x="236.31" y="278.94" width="2.28" height="2.28" fill="#f5741f"/>
<rect x="238.28" y="278.94" width="2.28" height="2.28" fill="#f67824"/>
<rect x="240.26" y="278.94" width="2.28" height="2.28" fill="#f87d29"/>
<rect x="242.23" y="278.94" width="2.28" height="2.28" fill="#f9812e"/>
<rect x="244.21" y="278.94" width="2.28" height="2.28" fill="#fb8634"/>
<rect x="246.18" y="278.94" width="2.28" height="2.28" fill="#fc8a39"/>
<rect x="248.16" y="278.94" width="2.28" height="2.28" fill="#fd9040"/>
<rect x="250.14" y="278.94" width="2.28" height="2.28" fill="#fd9446"/>
<rect x="252.11" y="278.94" width="2.28" height="2.28" fill="#fd9c51"/>
<rect x="254.09" y="278.94" width="2.28" height="2.28" fill="#fda863"/>
<rect x="256.06" y="278.94" width="2.28" height="2.28" fill="#fdb97d"/>
<rect x="258.04" y="278.94" width="2.28" height="2.28" fill="#fdca99"/>
<rect x="260.01" y="278.94" width="2.28" height="2.28" fill="#fdddbb"/>
<rect x="261.99" y="278.94" width="2.28" height="2.28" fill="#fdebd5"/>
<rect x="263.96" y="278.94" width="2.28" height="2.28" fill="#fdf1e0"/>
<rect x="265.94" y="278.94" width="2.28" height="2.28" fill="#fcf4e5"/>
<rect x="267.92" y="278.94" width="2.28" height="2.28" fill="#fcf5e6"/>
<rect x="269.89" y="278.94" width="31.91" height="2.28" fill="#fcf5e6"/>
<rect x="212.60" y="280.92" width="4.25" height="2.28" fill="#fd9446"/>
<rect x="216.55" y="280.92" width="6.23" height="2.28" fill="#fd984b"/>
<rect x="222.48" y="280.92" width="4.25" height="2.28" fill="#fd9c51"/>
<rect x="226.43" y="280.92" width="4.25" height="2.28" fill="#fda057"/>
<rect x="230.38" y="280.92" width="2.28" height="2.28" fill="#fda45d"/>
<rect x="232.36" y="280.92" width="2.28" height="2.28" fill="#fda863"/>
<rect x="234.33" y="280.92" width="4.25" height="2.28" fill="#fdad69"/>
<rect x="238.28" y="280.92" width="2.28" height="2.28" fill="#fdb170"/>
<rect x="240.26" y="280.92" width="2.28" height="2.28" fill="#fdb576"/>
<rect x="242.23" y="280.92" width="2.28" height="2.28" fill="#fdb97d"/>
<rect x="244.21" y="280.92" width="2.28" height="2.28" fill="#fdbe84"/>
<rect x="246.18" y="280.92" width="2.28" height="2.28" fill="#fdc28b"/>
<rect x="248.16" y="280.92" width="2.28" height="2.28" fill="#fdc692"/>
<rect x="250.14" y="280.92" width="2.28" height="2.28" fill="#fdca99"/>
<rect x="252.11" y="280.92" width="2.28" height="2.28" fill="#fdcfa0"/>
<rect x="254.09" y="280.92" width="2.28" height="2.28" fill="#fdd9b3"/>
<rect x="256.06" y="280.92" width="2.28" height="2.28" fill="#fde1c3"/>
<rect x="258.04" y="280.92" width="2.28" height="2.28" fill="#fdebd5"/>
<rect x="260.01" y="280.92" width="2.28" height="2.28" fill="#fdefdd"/>
<rect x="261.99" y="280.92" width="2.28" height="2.28" fill="#fdf3e4"/>
<rect x="263.96" y="280.92" width="2.28" height="2.28" fill="#fcf4e5"/>
<rect x="265.94" y="280.92" width="2.28" height="2.28" fill="#fcf5e6"/>
<rect x="267.92" y="280.92" width="33.88" height="2.28" fill="#fcf5e6"/>
<rect x="212.60" y="282.91" width="4.25" height="2.28" fill="#fdc28b"/>
<rect x="216.55" y="282.91" width="4.25" height="2.28" fill="#fdc692"/>
<rect x="220.50" y="282.91" width="4.25" height="2.28" fill="#fdca99"/>
<rect x="224.45" y="282.91" width="4.25" height="2.28" fill="#fdcfa0"/>
<rect x="228.40" y="282.91" width="4.25" height="2.28" fill="#fdd4aa"/>
<rect x="232.36" y="282.91" width="2.28" height="2.28" fill="#fdd9b3"/>
<rect x="234.33" y="282.91" width="4.25" height="2.28" fill="#fdddbb"/>
<rect x="238.28" y="282.91" width="2.28" height="2.28" fill="#fde1c3"/>
<rect x="240.26" y="282.91" width="4.25" height="2.28" fill="#fde5ca"/>
<rect x="244.21" y="282.91" width="4.25" height="2.28" fill="#fde8d0"/>
<rect x="248.16" y="282.91" width="2.28" height="2.28" fill="#fdebd5"/>
<rect x="250.14" y="282.91" width="2.28" height="2.28" fill="#fdedda"/>
<rect x="252.11" y="282.91" width="2.28" height="2.28" fill="#fdefdd"/>
<rect x="254.09" y="282.91" width="2.28" height="2.28" fill="#fdf1e0"/>
<rect x="256.06" y="282.91" width="2.28" height="2.28" fill="#fdf2e2"/>
<rect x="258.04" y="282.91" width="2.28" height="2.28" fill="#fdf3e4"/>
<rect x="260.01" y="282.91" width="2.28" height="2.28" fill="#fcf4e5"/>
<rect x="261.99" y="282.91" width="2.28" height="2.28" fill="#fcf5e6"/>
<rect x="263.96" y="282.91" width="2.28" height="2.28" fill="#fcf5e6"/>
<rect x="265.94" y="282.91" width="35.86" height="2.28" fill="#fcf5e6"/>
<rect x="212.60" y="284.89" width="4.25" height="2.28" fill="#fde8d0"/>
<rect x="216.55" y="284.89" width="6.23" height="2.28" fill="#fdebd5"/>
<rect x="222.48" y="284.89" width="6.23" height="2.28" fill="#fdedda"/>
<rect x="228.40" y="284.89" width="4.25" height="2.28" fill="#fdefdd"/>
<rect x="232.36" y="284.89" width="6.23" height="2.28" fill="#fdf1e0"/>
<rect x="238.28" y="284.89" width="4.25" height="2.28" fill="#fdf2e2"/>
<rect x="242.23" y="284.89" width="6.23" height="2.28" fill="#fdf3e4"/>
<rect x="248.16" y="284.89" width="6.23" height="2.28" fill="#fcf4e5"/>
<rect x="254.09" y="284.89" width="4.25" height="2.28" fill="#fcf5e6"/>
<rect x="258.04" y="284.89" width="2.28" height="2.28" fill="#fcf5e6"/>
<rect x="260.01" y="284.89" width="41.79" height="2.28" fill="#fcf5e6"/>
<rect x="212.60" y="286.88" width="8.20" height="2.28" fill="#fdf3e4"/>
<rect x="220.50" y="286.88" width="8.20" height="2.28" fill="#fcf4e5"/>
<rect x="228.40" y="286.88" width="10.18" height="2.28" fill="#fcf5e6"/>
<rect x="238.28" y="286.88" width="14.13" height="2.28" fill="#fcf5e6"/>
<rect x="252.11" y="286.88" width="49.69" height="2.28" fill="#fcf5e6"/>
<rect x="212.60" y="288.86" width="12.15" height="2.28" fill="#fcf5e6"/>
<rect x="224.45" y="288.86" width="77.35" height="2.28" fill="#fcf5e6"/>
<rect x="212.60" y="290.85" width="89.20" height="2.28" fill="#fcf5e6"/>
<rect x="212.60" y="292.83" width="89.20" height="2.28" fill="#fcf5e6"/>
<rect x="212.60" y="294.82" width="89.20" height="2.28" fill="#fcf5e6"/>
</g>
<rect x="212.60" y="205.50" width="88.90" height="91.30" fill="none" stroke="#888" stroke-width="0.9"/>
<line x1="209.60" y1="296.60" x2="212.60" y2="296.60" stroke="#666" stroke-width="0.80"/>
<text x="191.44" y="299.10" font-size="8.20" fill="#262626" font-weight="normal" font-style="normal" textLength="17.56" lengthAdjust="spacingAndGlyphs">2000</text>
<line x1="209.60" y1="276.62" x2="212.60" y2="276.62" stroke="#666" stroke-width="0.80"/>
<text x="191.44" y="279.12" font-size="8.20" fill="#262626" font-weight="normal" font-style="normal" textLength="17.56" lengthAdjust="spacingAndGlyphs">2200</text>
<line x1="209.60" y1="256.64" x2="212.60" y2="256.64" stroke="#666" stroke-width="0.80"/>
<text x="191.44" y="259.14" font-size="8.20" fill="#262626" font-weight="normal" font-style="normal" textLength="17.56" lengthAdjust="spacingAndGlyphs">2400</text>
<line x1="209.60" y1="236.66" x2="212.60" y2="236.66" stroke="#666" stroke-width="0.80"/>
<text x="191.44" y="239.16" font-size="8.20" fill="#262626" font-weight="normal" font-style="normal" textLength="17.56" lengthAdjust="spacingAndGlyphs">2600</text>
<line x1="209.60" y1="216.68" x2="212.60" y2="216.68" stroke="#666" stroke-width="0.80"/>
<text x="191.44" y="219.18" font-size="8.20" fill="#262626" font-weight="normal" font-style="normal" textLength="17.56" lengthAdjust="spacingAndGlyphs">2800</text>
<line x1="231.95" y1="296.80" x2="231.95" y2="299.80" stroke="#666" stroke-width="0.80"/>
<text x="225.37" y="305.60" font-size="8.20" fill="#262626" font-weight="normal" font-style="normal" textLength="13.17" lengthAdjust="spacingAndGlyphs">200</text>
<line x1="254.50" y1="296.80" x2="254.50" y2="299.80" stroke="#666" stroke-width="0.80"/>
<text x="247.92" y="305.60" font-size="8.20" fill="#262626" font-weight="normal" font-style="normal" textLength="13.17" lengthAdjust="spacingAndGlyphs">300</text>
<line x1="277.05" y1="296.80" x2="277.05" y2="299.80" stroke="#666" stroke-width="0.80"/>
<text x="270.47" y="305.60" font-size="8.20" fill="#262626" font-weight="normal" font-style="normal" textLength="13.17" lengthAdjust="spacingAndGlyphs">400</text>
<line x1="299.60" y1="296.80" x2="299.60" y2="299.80" stroke="#666" stroke-width="0.80"/>
<text x="293.02" y="305.60" font-size="8.20" fill="#262626" font-weight="normal" font-style="normal" textLength="13.17" lengthAdjust="spacingAndGlyphs">500</text>
<text x="214.04" y="317.00" font-size="9.03" fill="#262626" font-weight="normal" font-style="normal" textLength="85.92" lengthAdjust="spacingAndGlyphs">Lab frame energy (eV)</text>
<path d="M213.60,279.20 L214.10,279.20 L214.60,279.20 L215.10,279.20 L215.60,279.20 L216.10,279.20 L216.60,279.20 L217.10,279.20 L217.60,279.20 L218.10,279.20 L218.60,279.20 L219.10,279.20 L219.60,279.20 L220.10,279.20 L220.60,279.20 L221.10,279.20 L221.60,279.20 L222.10,279.20 L222.60,279.20 L223.10,279.20 L223.60,279.20 L224.10,279.20 L224.60,279.20 L225.10,279.20 L225.60,279.20 L226.10,279.20 L226.60,279.20 L227.10,279.20 L227.60,279.20 L228.10,279.20 L228.60,279.20 L229.10,279.20 L229.60,279.20 L230.10,279.20 L230.60,279.20 L231.10,279.20 L231.60,279.20 L232.10,279.20 L232.60,279.20 L233.10,279.20 L233.60,279.20 L234.10,279.20 L234.60,279.20 L235.10,279.20 L235.60,279.20 L236.10,279.20 L236.60,279.20 L237.10,279.20 L237.60,279.20 L238.10,279.20 L238.60,279.19 L239.10,279.19 L239.60,279.19 L240.10,279.18 L240.60,279.17 L241.10,279.15 L241.60,279.13 L242.10,279.10 L242.60,279.05 L243.10,278.98 L243.60,278.88 L244.10,278.73 L244.60,278.51 L245.10,278.19 L245.60,277.73 L246.10,277.06 L246.60,276.12 L247.10,274.78 L247.60,272.94 L248.10,270.46 L248.60,267.24 L249.10,263.22 L249.60,258.49 L250.10,253.26 L250.60,247.87 L251.10,242.72 L251.60,238.11 L252.10,234.26 L252.60,231.18 L253.10,228.84 L253.60,227.11 L254.10,225.87 L254.60,224.98 L255.10,224.37 L255.60,223.94 L256.10,223.64 L256.60,223.44 L257.10,223.30 L257.60,223.20 L258.10,223.14 L258.60,223.09 L259.10,223.06 L259.60,223.04 L260.10,223.03 L260.60,223.02 L261.10,223.01 L261.60,223.01 L262.10,223.01 L262.60,223.00 L263.10,223.00 L263.60,223.00 L264.10,223.00 L264.60,223.00 L265.10,223.00 L265.60,223.00 L266.10,223.00 L266.60,223.00 L267.10,223.00 L267.60,223.00 L268.10,223.00 L268.60,223.00 L269.10,223.00 L269.60,223.00 L270.10,223.00 L270.60,223.00 L271.10,223.00 L271.60,223.00 L272.10,223.00 L272.60,223.00 L273.10,223.00 L273.60,223.00 L274.10,223.00 L274.60,223.00 L275.10,223.00 L275.60,223.00 L276.10,223.00 L276.60,223.00 L277.10,223.00 L277.60,223.00 L278.10,223.00 L278.60,223.00 L279.10,223.00 L279.60,223.00 L280.10,223.00 L280.60,223.00 L281.10,223.00 L281.60,223.00 L282.10,223.00 L282.60,223.00 L283.10,223.00 L283.60,223.00 L284.10,223.00 L284.60,223.00 L285.10,223.00 L285.60,223.00 L286.10,223.00 L286.60,223.00 L287.10,223.00 L287.60,223.00 L288.10,223.00 L288.60,223.00 L289.10,223.00 L289.60,223.00 L290.10,223.00 L290.60,223.00 L291.10,223.00 L291.60,223.00 L292.10,223.00 L292.60,223.00 L293.10,223.00 L293.60,223.00 L294.10,223.00 L294.60,223.00 L295.10,223.00 L295.60,223.00 L296.10,223.00 L296.60,223.00 L297.10,223.00 L297.60,223.00 L298.10,223.00 L298.60,223.00 L299.10,223.00 L299.60,223.00 L300.10,223.00" fill="none" stroke="#f5912e" stroke-width="1.5"/>
<circle cx="216.30" cy="279.90" r="2.0" fill="#f6a04e"/>
<circle cx="237.20" cy="277.60" r="2.0" fill="#f6a04e"/>
<circle cx="247.30" cy="276.00" r="2.0" fill="#f6a04e"/>
<circle cx="257.90" cy="223.00" r="2.0" fill="#f6a04e"/>
<circle cx="268.70" cy="223.00" r="2.0" fill="#f6a04e"/>
<circle cx="278.80" cy="221.40" r="2.0" fill="#f6a04e"/>
<circle cx="289.40" cy="223.00" r="2.0" fill="#f6a04e"/>
<circle cx="299.50" cy="223.00" r="2.0" fill="#f6a04e"/>
<text x="216.03" y="216.10" font-size="10.21" fill="#dc8455" font-weight="bold" font-style="normal" textLength="13.96" lengthAdjust="spacingAndGlyphs" stroke="#dc8455" stroke-width="0.20">9+</text>
<text x="254.22" y="256.10" font-size="8.19" fill="#b54a20" font-weight="bold" font-style="normal" textLength="44.66" lengthAdjust="spacingAndGlyphs">280±11 eV</text>
<text x="220.99" y="266.80" font-size="13.07" fill="#111" font-weight="normal" font-style="normal" textLength="7.25" lengthAdjust="spacingAndGlyphs">α</text>
<text x="226.97" y="241.80" font-size="13.07" fill="#111" font-weight="normal" font-style="normal" textLength="7.02" lengthAdjust="spacingAndGlyphs">β</text>
<text x="281.73" y="211.00" font-size="13.07" fill="#111" font-weight="normal" font-style="normal" textLength="6.51" lengthAdjust="spacingAndGlyphs">γ</text>
<defs><linearGradient id="cb_Oranges" x1="0" y1="0" x2="0" y2="1"><stop offset="0.000" stop-color="#7f2704"/><stop offset="0.062" stop-color="#912e04"/><stop offset="0.125" stop-color="#a53603"/><stop offset="0.188" stop-color="#be3f02"/><stop offset="0.250" stop-color="#d84801"/><stop offset="0.312" stop-color="#e4580a"/><stop offset="0.375" stop-color="#f16813"/><stop offset="0.438" stop-color="#f77a27"/><stop offset="0.500" stop-color="#fd8c3b"/><stop offset="0.562" stop-color="#fd9d53"/><stop offset="0.625" stop-color="#fdae6a"/><stop offset="0.688" stop-color="#fdbf86"/><stop offset="0.750" stop-color="#fdd0a2"/><stop offset="0.812" stop-color="#fddbb8"/><stop offset="0.875" stop-color="#fee6ce"/><stop offset="0.938" stop-color="#feeddc"/><stop offset="1.000" stop-color="#fff5eb"/></linearGradient></defs>
<rect x="306.80" y="205.50" width="5.40" height="91.30" fill="url(#cb_Oranges)" stroke="#666" stroke-width="0.8"/>
<text x="314.80" y="210.30" font-size="8.20" fill="#262626" font-weight="normal" font-style="normal" textLength="4.39" lengthAdjust="spacingAndGlyphs">1</text>
<text x="314.80" y="299.60" font-size="8.20" fill="#262626" font-weight="normal" font-style="normal" textLength="4.39" lengthAdjust="spacingAndGlyphs">0</text>
<line x1="312.20" y1="205.80" x2="314.00" y2="205.80" stroke="#666" stroke-width="0.70"/>
<line x1="312.20" y1="296.50" x2="314.00" y2="296.50" stroke="#666" stroke-width="0.70"/>
<g transform="translate(186.9,251.2) rotate(-90)">
<text x="-25.39" y="-3.20" font-size="6.65" fill="#262626" font-weight="normal" font-style="italic" textLength="8.96" lengthAdjust="spacingAndGlyphs">TW</text>
<text x="-16.43" y="0.00" font-size="9.50" fill="#262626" font-weight="normal" font-style="normal" textLength="16.25" lengthAdjust="spacingAndGlyphs">CCS</text>
<text x="-0.18" y="1.80" font-size="6.65" fill="#262626" font-weight="normal" font-style="italic" textLength="7.75" lengthAdjust="spacingAndGlyphs">N2</text>
<text x="10.11" y="0.00" font-size="9.50" fill="#262626" font-weight="normal" font-style="normal" textLength="8.59" lengthAdjust="spacingAndGlyphs">(Å</text>
<text x="18.71" y="-3.40" font-size="6.65" fill="#262626" font-weight="normal" font-style="normal" textLength="3.56" lengthAdjust="spacingAndGlyphs">2</text>
<text x="22.27" y="0.00" font-size="9.50" fill="#262626" font-weight="normal" font-style="normal" textLength="3.12" lengthAdjust="spacingAndGlyphs">)</text>
</g>
<text x="520.69" y="196.10" font-size="12.28" fill="#111" font-weight="normal" font-style="normal" textLength="11.20" lengthAdjust="spacingAndGlyphs">G</text>
<g shape-rendering="crispEdges">
<rect x="549.00" y="205.90" width="60.30" height="2.28" fill="#fdf6f1"/>
<rect x="609.00" y="205.90" width="28.30" height="2.28" fill="#fdf6f1"/>
<rect x="549.00" y="207.88" width="54.30" height="2.28" fill="#fdf6f1"/>
<rect x="603.00" y="207.88" width="34.30" height="2.28" fill="#fdf6f1"/>
<rect x="549.00" y="209.86" width="52.30" height="2.28" fill="#fdf6f1"/>
<rect x="601.00" y="209.86" width="6.30" height="2.28" fill="#fdf6f1"/>
<rect x="607.00" y="209.86" width="30.30" height="2.28" fill="#fdf5f0"/>
<rect x="549.00" y="211.84" width="50.30" height="2.28" fill="#fdf6f1"/>
<rect x="599.00" y="211.84" width="4.30" height="2.28" fill="#fdf6f1"/>
<rect x="603.00" y="211.84" width="4.30" height="2.28" fill="#fdf5f0"/>
<rect x="607.00" y="211.84" width="6.30" height="2.28" fill="#fdf4ef"/>
<rect x="613.00" y="211.84" width="24.30" height="2.28" fill="#fdf3ed"/>
<rect x="549.00" y="213.82" width="46.30" height="2.28" fill="#fdf6f1"/>
<rect x="595.00" y="213.82" width="6.30" height="2.28" fill="#fdf6f1"/>
<rect x="601.00" y="213.82" width="4.30" height="2.28" fill="#fdf5f0"/>
<rect x="605.00" y="213.82" width="2.30" height="2.28" fill="#fdf4ef"/>
<rect x="607.00" y="213.82" width="2.30" height="2.28" fill="#fdf3ed"/>
<rect x="609.00" y="213.82" width="2.30" height="2.28" fill="#fdf2eb"/>
<rect x="611.00" y="213.82" width="4.30" height="2.28" fill="#fdf0e8"/>
<rect x="615.00" y="213.82" width="22.30" height="2.28" fill="#fdede5"/>
<rect x="549.00" y="215.80" width="42.30" height="2.28" fill="#fdf6f1"/>
<rect x="591.00" y="215.80" width="8.30" height="2.28" fill="#fdf6f1"/>
<rect x="599.00" y="215.80" width="4.30" height="2.28" fill="#fdf5f0"/>
<rect x="603.00" y="215.80" width="2.30" height="2.28" fill="#fdf3ed"/>
<rect x="605.00" y="215.80" width="2.30" height="2.28" fill="#fdf2eb"/>
<rect x="607.00" y="215.80" width="2.30" height="2.28" fill="#fdede5"/>
<rect x="609.00" y="215.80" width="2.30" height="2.28" fill="#fde7dc"/>
<rect x="611.00" y="215.80" width="2.30" height="2.28" fill="#fde2d5"/>
<rect x="613.00" y="215.80" width="2.30" height="2.28" fill="#fdddce"/>
<rect x="615.00" y="215.80" width="2.30" height="2.28" fill="#fdd7c6"/>
<rect x="617.00" y="215.80" width="20.30" height="2.28" fill="#fdd1be"/>
<rect x="549.00" y="217.78" width="36.30" height="2.28" fill="#fdf6f1"/>
<rect x="585.00" y="217.78" width="12.30" height="2.28" fill="#fdf6f1"/>
<rect x="597.00" y="217.78" width="4.30" height="2.28" fill="#fdf5f0"/>
<rect x="601.00" y="217.78" width="2.30" height="2.28" fill="#fdf3ed"/>
<rect x="603.00" y="217.78" width="2.30" height="2.28" fill="#fdf0e8"/>
<rect x="605.00" y="217.78" width="2.30" height="2.28" fill="#fdebe1"/>
<rect x="607.00" y="217.78" width="2.30" height="2.28" fill="#fdddce"/>
<rect x="609.00" y="217.78" width="2.30" height="2.28" fill="#fcc2aa"/>
<rect x="611.00" y="217.78" width="2.30" height="2.28" fill="#fcaf93"/>
<rect x="613.00" y="217.78" width="2.30" height="2.28" fill="#fca588"/>
<rect x="615.00" y="217.78" width="2.30" height="2.28" fill="#fca082"/>
<rect x="617.00" y="217.78" width="2.30" height="2.28" fill="#fc9b7c"/>
<rect x="619.00" y="217.78" width="18.30" height="2.28" fill="#fc9576"/>
<rect x="549.00" y="219.76" width="30.30" height="2.28" fill="#fdf6f1"/>
<rect x="579.00" y="219.76" width="16.30" height="2.28" fill="#fdf6f1"/>
<rect x="595.00" y="219.76" width="4.30" height="2.28" fill="#fdf5f0"/>
<rect x="599.00" y="219.76" width="2.30" height="2.28" fill="#fdf4ef"/>
<rect x="601.00" y="219.76" width="2.30" height="2.28" fill="#fdf2eb"/>
<rect x="603.00" y="219.76" width="2.30" height="2.28" fill="#fdebe1"/>
<rect x="605.00" y="219.76" width="2.30" height="2.28" fill="#fdd7c6"/>
<rect x="607.00" y="219.76" width="2.30" height="2.28" fill="#fcaf93"/>
<rect x="609.00" y="219.76" width="2.30" height="2.28" fill="#fc9576"/>
<rect x="611.00" y="219.76" width="2.30" height="2.28" fill="#fb7757"/>
<rect x="613.00" y="219.76" width="2.30" height="2.28" fill="#f96044"/>
<rect x="615.00" y="219.76" width="2.30" height="2.28" fill="#f6553c"/>
<rect x="617.00" y="219.76" width="2.30" height="2.28" fill="#f34935"/>
<rect x="619.00" y="219.76" width="18.30" height="2.28" fill="#f14331"/>
<rect x="549.00" y="221.74" width="28.30" height="2.28" fill="#fdf6f1"/>
<rect x="577.00" y="221.74" width="16.30" height="2.28" fill="#fdf6f1"/>
<rect x="593.00" y="221.74" width="4.30" height="2.28" fill="#fdf5f0"/>
<rect x="597.00" y="221.74" width="2.30" height="2.28" fill="#fdf4ef"/>
<rect x="599.00" y="221.74" width="2.30" height="2.28" fill="#fdf3ed"/>
<rect x="601.00" y="221.74" width="2.30" height="2.28" fill="#fdede5"/>
<rect x="603.00" y="221.74" width="2.30" height="2.28" fill="#fdddce"/>
<rect x="605.00" y="221.74" width="2.30" height="2.28" fill="#fcb99f"/>
<rect x="607.00" y="221.74" width="2.30" height="2.28" fill="#fc9070"/>
<rect x="609.00" y="221.74" width="2.30" height="2.28" fill="#f96044"/>
<rect x="611.00" y="221.74" width="2.30" height="2.28" fill="#e83429"/>
<rect x="613.00" y="221.74" width="2.30" height="2.28" fill="#cc191e"/>
<rect x="615.00" y="221.74" width="2.30" height="2.28" fill="#b81419"/>
<rect x="617.00" y="221.74" width="2.30" height="2.28" fill="#aa1016"/>
<rect x="619.00" y="221.74" width="2.30" height="2.28" fill="#a50f15"/>
<rect x="621.00" y="221.74" width="4.30" height="2.28" fill="#9d0d14"/>
<rect x="625.00" y="221.74" width="12.30" height="2.28" fill="#960b13"/>
<rect x="549.00" y="223.72" width="26.30" height="2.28" fill="#fdf6f1"/>
<rect x="575.00" y="223.72" width="16.30" height="2.28" fill="#fdf6f1"/>
<rect x="591.00" y="223.72" width="6.30" height="2.28" fill="#fdf5f0"/>
<rect x="597.00" y="223.72" width="2.30" height="2.28" fill="#fdf4ef"/>
<rect x="599.00" y="223.72" width="2.30" height="2.28" fill="#fdf2eb"/>
<rect x="601.00" y="223.72" width="2.30" height="2.28" fill="#fdebe1"/>
<rect x="603.00" y="223.72" width="2.30" height="2.28" fill="#fdd7c6"/>
<rect x="605.00" y="223.72" width="2.30" height="2.28" fill="#fcaa8d"/>
<rect x="607.00" y="223.72" width="2.30" height="2.28" fill="#fb7c5c"/>
<rect x="609.00" y="223.72" width="2.30" height="2.28" fill="#f14331"/>
<rect x="611.00" y="223.72" width="2.30" height="2.28" fill="#c7171c"/>
<rect x="613.00" y="223.72" width="2.30" height="2.28" fill="#9d0d14"/>
<rect x="615.00" y="223.72" width="2.30" height="2.28" fill="#77040f"/>
<rect x="617.00" y="223.72" width="20.30" height="2.28" fill="#67000d"/>
<rect x="549.00" y="225.70" width="24.30" height="2.28" fill="#fdf6f1"/>
<rect x="573.00" y="225.70" width="14.30" height="2.28" fill="#fdf6f1"/>
<rect x="587.00" y="225.70" width="8.30" height="2.28" fill="#fdf5f0"/>
<rect x="595.00" y="225.70" width="2.30" height="2.28" fill="#fdf4ef"/>
<rect x="597.00" y="225.70" width="2.30" height="2.28" fill="#fdf3ed"/>
<rect x="599.00" y="225.70" width="2.30" height="2.28" fill="#fdf2eb"/>
<rect x="601.00" y="225.70" width="2.30" height="2.28" fill="#fdebe1"/>
<rect x="603.00" y="225.70" width="2.30" height="2.28" fill="#fdd7c6"/>
<rect x="605.00" y="225.70" width="2.30" height="2.28" fill="#fcaf93"/>
<rect x="607.00" y="225.70" width="2.30" height="2.28" fill="#fc8666"/>
<rect x="609.00" y="225.70" width="2.30" height="2.28" fill="#f6553c"/>
<rect x="611.00" y="225.70" width="2.30" height="2.28" fill="#da2723"/>
<rect x="613.00" y="225.70" width="2.30" height="2.28" fill="#b81419"/>
<rect x="615.00" y="225.70" width="2.30" height="2.28" fill="#a50f15"/>
<rect x="617.00" y="225.70" width="2.30" height="2.28" fill="#8e0912"/>
<rect x="619.00" y="225.70" width="2.30" height="2.28" fill="#860811"/>
<rect x="621.00" y="225.70" width="4.30" height="2.28" fill="#7e0610"/>
<rect x="625.00" y="225.70" width="12.30" height="2.28" fill="#77040f"/>
<rect x="549.00" y="227.68" width="22.30" height="2.28" fill="#fdf6f1"/>
<rect x="571.00" y="227.68" width="12.30" height="2.28" fill="#fdf6f1"/>
<rect x="583.00" y="227.68" width="8.30" height="2.28" fill="#fdf5f0"/>
<rect x="591.00" y="227.68" width="6.30" height="2.28" fill="#fdf4ef"/>
<rect x="597.00" y="227.68" width="2.30" height="2.28" fill="#fdf3ed"/>
<rect x="599.00" y="227.68" width="2.30" height="2.28" fill="#fdf0e8"/>
<rect x="601.00" y="227.68" width="2.30" height="2.28" fill="#fdebe1"/>
<rect x="603.00" y="227.68" width="2.30" height="2.28" fill="#fdddce"/>
<rect x="605.00" y="227.68" width="2.30" height="2.28" fill="#fcc2aa"/>
<rect x="607.00" y="227.68" width="2.30" height="2.28" fill="#fca082"/>
<rect x="609.00" y="227.68" width="2.30" height="2.28" fill="#fb7c5c"/>
<rect x="611.00" y="227.68" width="2.30" height="2.28" fill="#f96044"/>
<rect x="613.00" y="227.68" width="2.30" height="2.28" fill="#f34935"/>
<rect x="615.00" y="227.68" width="2.30" height="2.28" fill="#ec382b"/>
<rect x="617.00" y="227.68" width="2.30" height="2.28" fill="#e83429"/>
<rect x="619.00" y="227.68" width="18.30" height="2.28" fill="#e32f27"/>
<rect x="549.00" y="229.67" width="22.30" height="2.28" fill="#fdf6f1"/>
<rect x="571.00" y="229.67" width="8.30" height="2.28" fill="#fdf6f1"/>
<rect x="579.00" y="229.67" width="8.30" height="2.28" fill="#fdf5f0"/>
<rect x="587.00" y="229.67" width="4.30" height="2.28" fill="#fdf4ef"/>
<rect x="591.00" y="229.67" width="4.30" height="2.28" fill="#fdf3ed"/>
<rect x="595.00" y="229.67" width="2.30" height="2.28" fill="#fdf2eb"/>
<rect x="597.00" y="229.67" width="2.30" height="2.28" fill="#fdf0e8"/>
<rect x="599.00" y="229.67" width="2.30" height="2.28" fill="#fdede5"/>
<rect x="601.00" y="229.67" width="2.30" height="2.28" fill="#fde7dc"/>
<rect x="603.00" y="229.67" width="2.30" height="2.28" fill="#fdddce"/>
<rect x="605.00" y="229.67" width="2.30" height="2.28" fill="#fdcab4"/>
<rect x="607.00" y="229.67" width="2.30" height="2.28" fill="#fcaf93"/>
<rect x="609.00" y="229.67" width="2.30" height="2.28" fill="#fca082"/>
<rect x="611.00" y="229.67" width="2.30" height="2.28" fill="#fc9070"/>
<rect x="613.00" y="229.67" width="2.30" height="2.28" fill="#fc8666"/>
<rect x="615.00" y="229.67" width="8.30" height="2.28" fill="#fc8161"/>
<rect x="623.00" y="229.67" width="4.30" height="2.28" fill="#fc8666"/>
<rect x="627.00" y="229.67" width="10.30" height="2.28" fill="#fc8b6b"/>
<rect x="549.00" y="231.65" width="20.30" height="2.28" fill="#fdf6f1"/>
<rect x="569.00" y="231.65" width="8.30" height="2.28" fill="#fdf6f1"/>
<rect x="577.00" y="231.65" width="6.30" height="2.28" fill="#fdf5f0"/>
<rect x="583.00" y="231.65" width="4.30" height="2.28" fill="#fdf4ef"/>
<rect x="587.00" y="231.65" width="2.30" height="2.28" fill="#fdf3ed"/>
<rect x="589.00" y="231.65" width="2.30" height="2.28" fill="#fdf2eb"/>
<rect x="591.00" y="231.65" width="2.30" height="2.28" fill="#fdf0e8"/>
<rect x="593.00" y="231.65" width="2.30" height="2.28" fill="#fdede5"/>
<rect x="595.00" y="231.65" width="2.30" height="2.28" fill="#fdebe1"/>
<rect x="597.00" y="231.65" width="2.30" height="2.28" fill="#fde7dc"/>
<rect x="599.00" y="231.65" width="2.30" height="2.28" fill="#fdddce"/>
<rect x="601.00" y="231.65" width="2.30" height="2.28" fill="#fdd1be"/>
<rect x="603.00" y="231.65" width="2.30" height="2.28" fill="#fdcab4"/>
<rect x="605.00" y="231.65" width="2.30" height="2.28" fill="#fcb99f"/>
<rect x="607.00" y="231.65" width="2.30" height="2.28" fill="#fcaf93"/>
<rect x="609.00" y="231.65" width="2.30" height="2.28" fill="#fcaa8d"/>
<rect x="611.00" y="231.65" width="6.30" height="2.28" fill="#fca588"/>
<rect x="617.00" y="231.65" width="2.30" height="2.28" fill="#fcaa8d"/>
<rect x="619.00" y="231.65" width="2.30" height="2.28" fill="#fcaf93"/>
<rect x="621.00" y="231.65" width="2.30" height="2.28" fill="#fcb99f"/>
<rect x="623.00" y="231.65" width="4.30" height="2.28" fill="#fcc2aa"/>
<rect x="627.00" y="231.65" width="4.30" height="2.28" fill="#fdcab4"/>
<rect x="631.00" y="231.65" width="6.30" height="2.28" fill="#fdd1be"/>
<rect x="549.00" y="233.63" width="20.30" height="2.28" fill="#fdf6f1"/>
<rect x="569.00" y="233.63" width="6.30" height="2.28" fill="#fdf6f1"/>
<rect x="575.00" y="233.63" width="6.30" height="2.28" fill="#fdf5f0"/>
<rect x="581.00" y="233.63" width="4.30" height="2.28" fill="#fdf4ef"/>
<rect x="585.00" y="233.63" width="2.30" height="2.28" fill="#fdf3ed"/>
<rect x="587.00" y="233.63" width="2.30" height="2.28" fill="#fdf2eb"/>
<rect x="589.00" y="233.63" width="2.30" height="2.28" fill="#fdf0e8"/>
<rect x="591.00" y="233.63" width="2.30" height="2.28" fill="#fdebe1"/>
<rect x="593.00" y="233.63" width="2.30" height="2.28" fill="#fde2d5"/>
<rect x="595.00" y="233.63" width="2.30" height="2.28" fill="#fdd7c6"/>
<rect x="597.00" y="233.63" width="2.30" height="2.28" fill="#fdcab4"/>
<rect x="599.00" y="233.63" width="2.30" height="2.28" fill="#fcb99f"/>
<rect x="601.00" y="233.63" width="2.30" height="2.28" fill="#fcaf93"/>
<rect x="603.00" y="233.63" width="2.30" height="2.28" fill="#fca588"/>
<rect x="605.00" y="233.63" width="8.30" height="2.28" fill="#fca082"/>
<rect x="613.00" y="233.63" width="2.30" height="2.28" fill="#fcaa8d"/>
<rect x="615.00" y="233.63" width="2.30" height="2.28" fill="#fcaf93"/>
<rect x="617.00" y="233.63" width="2.30" height="2.28" fill="#fcb99f"/>
<rect x="619.00" y="233.63" width="2.30" height="2.28" fill="#fdcab4"/>
<rect x="621.00" y="233.63" width="2.30" height="2.28" fill="#fdd7c6"/>
<rect x="623.00" y="233.63" width="2.30" height="2.28" fill="#fde2d5"/>
<rect x="625.00" y="233.63" width="2.30" height="2.28" fill="#fde7dc"/>
<rect x="627.00" y="233.63" width="2.30" height="2.28" fill="#fdebe1"/>
<rect x="629.00" y="233.63" width="4.30" height="2.28" fill="#fdede5"/>
<rect x="633.00" y="233.63" width="4.30" height="2.28" fill="#fdf0e8"/>
<rect x="549.00" y="235.61" width="18.30" height="2.28" fill="#fdf6f1"/>
<rect x="567.00" y="235.61" width="8.30" height="2.28" fill="#fdf6f1"/>
<rect x="575.00" y="235.61" width="4.30" height="2.28" fill="#fdf5f0"/>
<rect x="579.00" y="235.61" width="4.30" height="2.28" fill="#fdf4ef"/>
<rect x="583.00" y="235.61" width="2.30" height="2.28" fill="#fdf3ed"/>
<rect x="585.00" y="235.61" width="2.30" height="2.28" fill="#fdf2eb"/>
<rect x="587.00" y="235.61" width="2.30" height="2.28" fill="#fdf0e8"/>
<rect x="589.00" y="235.61" width="2.30" height="2.28" fill="#fdebe1"/>
<rect x="591.00" y="235.61" width="2.30" height="2.28" fill="#fde2d5"/>
<rect x="593.00" y="235.61" width="2.30" height="2.28" fill="#fdd7c6"/>
<rect x="595.00" y="235.61" width="2.30" height="2.28" fill="#fcc2aa"/>
<rect x="597.00" y="235.61" width="2.30" height="2.28" fill="#fcaf93"/>
<rect x="599.00" y="235.61" width="2.30" height="2.28" fill="#fca588"/>
<rect x="601.00" y="235.61" width="2.30" height="2.28" fill="#fc9576"/>
<rect x="603.00" y="235.61" width="2.30" height="2.28" fill="#fc9070"/>
<rect x="605.00" y="235.61" width="2.30" height="2.28" fill="#fc8b6b"/>
<rect x="607.00" y="235.61" width="2.30" height="2.28" fill="#fc8666"/>
<rect x="609.00" y="235.61" width="2.30" height="2.28" fill="#fc8b6b"/>
<rect x="611.00" y="235.61" width="2.30" height="2.28" fill="#fc9576"/>
<rect x="613.00" y="235.61" width="2.30" height="2.28" fill="#fca082"/>
<rect x="615.00" y="235.61" width="2.30" height="2.28" fill="#fcaf93"/>
<rect x="617.00" y="235.61" width="2.30" height="2.28" fill="#fcc2aa"/>
<rect x="619.00" y="235.61" width="2.30" height="2.28" fill="#fdd1be"/>
<rect x="621.00" y="235.61" width="2.30" height="2.28" fill="#fde2d5"/>
<rect x="623.00" y="235.61" width="2.30" height="2.28" fill="#fdebe1"/>
<rect x="625.00" y="235.61" width="2.30" height="2.28" fill="#fdf0e8"/>
<rect x="627.00" y="235.61" width="2.30" height="2.28" fill="#fdf2eb"/>
<rect x="629.00" y="235.61" width="2.30" height="2.28" fill="#fdf3ed"/>
<rect x="631.00" y="235.61" width="6.30" height="2.28" fill="#fdf4ef"/>
<rect x="549.00" y="237.59" width="18.30" height="2.28" fill="#fdf6f1"/>
<rect x="567.00" y="237.59" width="6.30" height="2.28" fill="#fdf6f1"/>
<rect x="573.00" y="237.59" width="6.30" height="2.28" fill="#fdf5f0"/>
<rect x="579.00" y="237.59" width="4.30" height="2.28" fill="#fdf4ef"/>
<rect x="583.00" y="237.59" width="2.30" height="2.28" fill="#fdf3ed"/>
<rect x="585.00" y="237.59" width="2.30" height="2.28" fill="#fdf2eb"/>
<rect x="587.00" y="237.59" width="2.30" height="2.28" fill="#fdede5"/>
<rect x="589.00" y="237.59" width="2.30" height="2.28" fill="#fde7dc"/>
<rect x="591.00" y="237.59" width="2.30" height="2.28" fill="#fdddce"/>
<rect x="593.00" y="237.59" width="2.30" height="2.28" fill="#fdcab4"/>
<rect x="595.00" y="237.59" width="2.30" height="2.28" fill="#fcb499"/>
<rect x="597.00" y="237.59" width="2.30" height="2.28" fill="#fcaa8d"/>
<rect x="599.00" y="237.59" width="2.30" height="2.28" fill="#fc9b7c"/>
<rect x="601.00" y="237.59" width="2.30" height="2.28" fill="#fc8b6b"/>
<rect x="603.00" y="237.59" width="2.30" height="2.28" fill="#fc8666"/>
<rect x="605.00" y="237.59" width="4.30" height="2.28" fill="#fc8161"/>
<rect x="609.00" y="237.59" width="2.30" height="2.28" fill="#fc8666"/>
<rect x="611.00" y="237.59" width="2.30" height="2.28" fill="#fc9070"/>
<rect x="613.00" y="237.59" width="2.30" height="2.28" fill="#fca082"/>
<rect x="615.00" y="237.59" width="2.30" height="2.28" fill="#fcaf93"/>
<rect x="617.00" y="237.59" width="2.30" height="2.28" fill="#fcc2aa"/>
<rect x="619.00" y="237.59" width="2.30" height="2.28" fill="#fdd7c6"/>
<rect x="621.00" y="237.59" width="2.30" height="2.28" fill="#fde7dc"/>
<rect x="623.00" y="237.59" width="2.30" height="2.28" fill="#fdede5"/>
<rect x="625.00" y="237.59" width="2.30" height="2.28" fill="#fdf2eb"/>
<rect x="627.00" y="237.59" width="2.30" height="2.28" fill="#fdf3ed"/>
<rect x="629.00" y="237.59" width="2.30" height="2.28" fill="#fdf4ef"/>
<rect x="631.00" y="237.59" width="2.30" height="2.28" fill="#fdf5f0"/>
<rect x="633.00" y="237.59" width="4.30" height="2.28" fill="#fdf6f1"/>
<rect x="549.00" y="239.57" width="18.30" height="2.28" fill="#fdf6f1"/>
<rect x="567.00" y="239.57" width="6.30" height="2.28" fill="#fdf6f1"/>
<rect x="573.00" y="239.57" width="6.30" height="2.28" fill="#fdf5f0"/>
<rect x="579.00" y="239.57" width="2.30" height="2.28" fill="#fdf4ef"/>
<rect x="581.00" y="239.57" width="4.30" height="2.28" fill="#fdf3ed"/>
<rect x="585.00" y="239.57" width="2.30" height="2.28" fill="#fdf0e8"/>
<rect x="587.00" y="239.57" width="2.30" height="2.28" fill="#fdede5"/>
<rect x="589.00" y="239.57" width="2.30" height="2.28" fill="#fde7dc"/>
<rect x="591.00" y="239.57" width="2.30" height="2.28" fill="#fdddce"/>
<rect x="593.00" y="239.57" width="2.30" height="2.28" fill="#fdd1be"/>
<rect x="595.00" y="239.57" width="2.30" height="2.28" fill="#fcb99f"/>
<rect x="597.00" y="239.57" width="2.30" height="2.28" fill="#fcaf93"/>
<rect x="599.00" y="239.57" width="2.30" height="2.28" fill="#fca082"/>
<rect x="601.00" y="239.57" width="2.30" height="2.28" fill="#fc9576"/>
<rect x="603.00" y="239.57" width="2.30" height="2.28" fill="#fc9070"/>
<rect x="605.00" y="239.57" width="2.30" height="2.28" fill="#fc8b6b"/>
<rect x="607.00" y="239.57" width="2.30" height="2.28" fill="#fc9070"/>
<rect x="609.00" y="239.57" width="2.30" height="2.28" fill="#fc9576"/>
<rect x="611.00" y="239.57" width="2.30" height="2.28" fill="#fca082"/>
<rect x="613.00" y="239.57" width="2.30" height="2.28" fill="#fcaa8d"/>
<rect x="615.00" y="239.57" width="2.30" height="2.28" fill="#fcb99f"/>
<rect x="617.00" y="239.57" width="2.30" height="2.28" fill="#fdd1be"/>
<rect x="619.00" y="239.57" width="2.30" height="2.28" fill="#fde2d5"/>
<rect x="621.00" y="239.57" width="2.30" height="2.28" fill="#fdebe1"/>
<rect x="623.00" y="239.57" width="2.30" height="2.28" fill="#fdf0e8"/>
<rect x="625.00" y="239.57" width="2.30" height="2.28" fill="#fdf3ed"/>
<rect x="627.00" y="239.57" width="2.30" height="2.28" fill="#fdf4ef"/>
<rect x="629.00" y="239.57" width="2.30" height="2.28" fill="#fdf5f0"/>
<rect x="631.00" y="239.57" width="4.30" height="2.28" fill="#fdf6f1"/>
<rect x="635.00" y="239.57" width="2.30" height="2.28" fill="#fdf6f1"/>
<rect x="549.00" y="241.55" width="16.30" height="2.28" fill="#fdf6f1"/>
<rect x="565.00" y="241.55" width="8.30" height="2.28" fill="#fdf6f1"/>
<rect x="573.00" y="241.55" width="6.30" height="2.28" fill="#fdf5f0"/>
<rect x="579.00" y="241.55" width="2.30" height="2.28" fill="#fdf4ef"/>
<rect x="581.00" y="241.55" width="4.30" height="2.28" fill="#fdf3ed"/>
<rect x="585.00" y="241.55" width="2.30" height="2.28" fill="#fdf0e8"/>
<rect x="587.00" y="241.55" width="2.30" height="2.28" fill="#fdede5"/>
<rect x="589.00" y="241.55" width="2.30" height="2.28" fill="#fdebe1"/>
<rect x="591.00" y="241.55" width="2.30" height="2.28" fill="#fde2d5"/>
<rect x="593.00" y="241.55" width="2.30" height="2.28" fill="#fdd7c6"/>
<rect x="595.00" y="241.55" width="2.30" height="2.28" fill="#fdcab4"/>
<rect x="597.00" y="241.55" width="2.30" height="2.28" fill="#fcb99f"/>
<rect x="599.00" y="241.55" width="2.30" height="2.28" fill="#fcaf93"/>
<rect x="601.00" y="241.55" width="8.30" height="2.28" fill="#fcaa8d"/>
<rect x="609.00" y="241.55" width="2.30" height="2.28" fill="#fcaf93"/>
<rect x="611.00" y="241.55" width="2.30" height="2.28" fill="#fcb99f"/>
<rect x="613.00" y="241.55" width="2.30" height="2.28" fill="#fdcab4"/>
<rect x="615.00" y="241.55" width="2.30" height="2.28" fill="#fdd7c6"/>
<rect x="617.00" y="241.55" width="2.30" height="2.28" fill="#fde2d5"/>
<rect x="619.00" y="241.55" width="2.30" height="2.28" fill="#fdede5"/>
<rect x="621.00" y="241.55" width="2.30" height="2.28" fill="#fdf2eb"/>
<rect x="623.00" y="241.55" width="2.30" height="2.28" fill="#fdf3ed"/>
<rect x="625.00" y="241.55" width="2.30" height="2.28" fill="#fdf4ef"/>
<rect x="627.00" y="241.55" width="2.30" height="2.28" fill="#fdf5f0"/>
<rect x="629.00" y="241.55" width="2.30" height="2.28" fill="#fdf6f1"/>
<rect x="631.00" y="241.55" width="6.30" height="2.28" fill="#fdf6f1"/>
<rect x="549.00" y="243.53" width="16.30" height="2.28" fill="#fdf6f1"/>
<rect x="565.00" y="243.53" width="8.30" height="2.28" fill="#fdf6f1"/>
<rect x="573.00" y="243.53" width="4.30" height="2.28" fill="#fdf5f0"/>
<rect x="577.00" y="243.53" width="4.30" height="2.28" fill="#fdf4ef"/>
<rect x="581.00" y="243.53" width="2.30" height="2.28" fill="#fdf3ed"/>
<rect x="583.00" y="243.53" width="2.30" height="2.28" fill="#fdf2eb"/>
<rect x="585.00" y="243.53" width="2.30" height="2.28" fill="#fdf0e8"/>
<rect x="587.00" y="243.53" width="2.30" height="2.28" fill="#fdede5"/>
<rect x="589.00" y="243.53" width="2.30" height="2.28" fill="#fde7dc"/>
<rect x="591.00" y="243.53" width="2.30" height="2.28" fill="#fde2d5"/>
<rect x="593.00" y="243.53" width="2.30" height="2.28" fill="#fdd7c6"/>
<rect x="595.00" y="243.53" width="2.30" height="2.28" fill="#fdd1be"/>
<rect x="597.00" y="243.53" width="4.30" height="2.28" fill="#fcc2aa"/>
<rect x="601.00" y="243.53" width="2.30" height="2.28" fill="#fcb99f"/>
<rect x="603.00" y="243.53" width="2.30" height="2.28" fill="#fcc2aa"/>
<rect x="605.00" y="243.53" width="2.30" height="2.28" fill="#fdcab4"/>
<rect x="607.00" y="243.53" width="2.30" height="2.28" fill="#fdd1be"/>
<rect x="609.00" y="243.53" width="2.30" height="2.28" fill="#fdd7c6"/>
<rect x="611.00" y="243.53" width="2.30" height="2.28" fill="#fde2d5"/>
<rect x="613.00" y="243.53" width="2.30" height="2.28" fill="#fde7dc"/>
<rect x="615.00" y="243.53" width="2.30" height="2.28" fill="#fdede5"/>
<rect x="617.00" y="243.53" width="2.30" height="2.28" fill="#fdf0e8"/>
<rect x="619.00" y="243.53" width="2.30" height="2.28" fill="#fdf3ed"/>
<rect x="621.00" y="243.53" width="2.30" height="2.28" fill="#fdf4ef"/>
<rect x="623.00" y="243.53" width="2.30" height="2.28" fill="#fdf5f0"/>
<rect x="625.00" y="243.53" width="4.30" height="2.28" fill="#fdf6f1"/>
<rect x="629.00" y="243.53" width="8.30" height="2.28" fill="#fdf6f1"/>
<rect x="549.00" y="245.51" width="16.30" height="2.28" fill="#fdf6f1"/>
<rect x="565.00" y="245.51" width="8.30" height="2.28" fill="#fdf6f1"/>
<rect x="573.00" y="245.51" width="4.30" height="2.28" fill="#fdf5f0"/>
<rect x="577.00" y="245.51" width="4.30" height="2.28" fill="#fdf4ef"/>
<rect x="581.00" y="245.51" width="2.30" height="2.28" fill="#fdf3ed"/>
<rect x="583.00" y="245.51" width="2.30" height="2.28" fill="#fdf0e8"/>
<rect x="585.00" y="245.51" width="2.30" height="2.28" fill="#fdede5"/>
<rect x="587.00" y="245.51" width="2.30" height="2.28" fill="#fde7dc"/>
<rect x="589.00" y="245.51" width="2.30" height="2.28" fill="#fdddce"/>
<rect x="591.00" y="245.51" width="2.30" height="2.28" fill="#fdd1be"/>
<rect x="593.00" y="245.51" width="2.30" height="2.28" fill="#fdcab4"/>
<rect x="595.00" y="245.51" width="2.30" height="2.28" fill="#fcb99f"/>
<rect x="597.00" y="245.51" width="4.30" height="2.28" fill="#fcb499"/>
<rect x="601.00" y="245.51" width="2.30" height="2.28" fill="#fcb99f"/>
<rect x="603.00" y="245.51" width="2.30" height="2.28" fill="#fcc2aa"/>
<rect x="605.00" y="245.51" width="2.30" height="2.28" fill="#fdd7c6"/>
<rect x="607.00" y="245.51" width="2.30" height="2.28" fill="#fde2d5"/>
<rect x="609.00" y="245.51" width="2.30" height="2.28" fill="#fdebe1"/>
<rect x="611.00" y="245.51" width="2.30" height="2.28" fill="#fdf0e8"/>
<rect x="613.00" y="245.51" width="2.30" height="2.28" fill="#fdf2eb"/>
<rect x="615.00" y="245.51" width="2.30" height="2.28" fill="#fdf3ed"/>
<rect x="617.00" y="245.51" width="2.30" height="2.28" fill="#fdf4ef"/>
<rect x="619.00" y="245.51" width="2.30" height="2.28" fill="#fdf5f0"/>
<rect x="621.00" y="245.51" width="4.30" height="2.28" fill="#fdf6f1"/>
<rect x="625.00" y="245.51" width="12.30" height="2.28" fill="#fdf6f1"/>
<rect x="549.00" y="247.49" width="16.30" height="2.28" fill="#fdf6f1"/>
<rect x="565.00" y="247.49" width="6.30" height="2.28" fill="#fdf6f1"/>
<rect x="571.00" y="247.49" width="6.30" height="2.28" fill="#fdf5f0"/>
<rect x="577.00" y="247.49" width="2.30" height="2.28" fill="#fdf4ef"/>
<rect x="579.00" y="247.49" width="2.30" height="2.28" fill="#fdf3ed"/>
<rect x="581.00" y="247.49" width="2.30" height="2.28" fill="#fdf2eb"/>
<rect x="583.00" y="247.49" width="2.30" height="2.28" fill="#fdede5"/>
<rect x="585.00" y="247.49" width="2.30" height="2.28" fill="#fde7dc"/>
<rect x="587.00" y="247.49" width="2.30" height="2.28" fill="#fdd7c6"/>
<rect x="589.00" y="247.49" width="2.30" height="2.28" fill="#fdcab4"/>
<rect x="591.00" y="247.49" width="2.30" height="2.28" fill="#fcb499"/>
<rect x="593.00" y="247.49" width="2.30" height="2.28" fill="#fca588"/>
<rect x="595.00" y="247.49" width="2.30" height="2.28" fill="#fc9b7c"/>
<rect x="597.00" y="247.49" width="4.30" height="2.28" fill="#fc9576"/>
<rect x="601.00" y="247.49" width="2.30" height="2.28" fill="#fca082"/>
<rect x="603.00" y="247.49" width="2.30" height="2.28" fill="#fcaf93"/>
<rect x="605.00" y="247.49" width="2.30" height="2.28" fill="#fdcab4"/>
<rect x="607.00" y="247.49" width="2.30" height="2.28" fill="#fde2d5"/>
<rect x="609.00" y="247.49" width="2.30" height="2.28" fill="#fdede5"/>
<rect x="611.00" y="247.49" width="2.30" height="2.28" fill="#fdf3ed"/>
<rect x="613.00" y="247.49" width="2.30" height="2.28" fill="#fdf4ef"/>
<rect x="615.00" y="247.49" width="2.30" height="2.28" fill="#fdf5f0"/>
<rect x="617.00" y="247.49" width="4.30" height="2.28" fill="#fdf6f1"/>
<rect x="621.00" y="247.49" width="16.30" height="2.28" fill="#fdf6f1"/>
<rect x="549.00" y="249.47" width="16.30" height="2.28" fill="#fdf6f1"/>
<rect x="565.00" y="249.47" width="6.30" height="2.28" fill="#fdf6f1"/>
<rect x="571.00" y="249.47" width="4.30" height="2.28" fill="#fdf5f0"/>
<rect x="575.00" y="249.47" width="4.30" height="2.28" fill="#fdf4ef"/>
<rect x="579.00" y="249.47" width="2.30" height="2.28" fill="#fdf2eb"/>
<rect x="581.00" y="249.47" width="2.30" height="2.28" fill="#fdf0e8"/>
<rect x="583.00" y="249.47" width="2.30" height="2.28" fill="#fde7dc"/>
<rect x="585.00" y="249.47" width="2.30" height="2.28" fill="#fdd7c6"/>
<rect x="587.00" y="249.47" width="2.30" height="2.28" fill="#fcb99f"/>
<rect x="589.00" y="249.47" width="2.30" height="2.28" fill="#fca588"/>
<rect x="591.00" y="249.47" width="2.30" height="2.28" fill="#fc9070"/>
<rect x="593.00" y="249.47" width="2.30" height="2.28" fill="#fc8161"/>
<rect x="595.00" y="249.47" width="2.30" height="2.28" fill="#fb7252"/>
<rect x="597.00" y="249.47" width="4.30" height="2.28" fill="#fa6648"/>
<rect x="601.00" y="249.47" width="2.30" height="2.28" fill="#fb7757"/>
<rect x="603.00" y="249.47" width="2.30" height="2.28" fill="#fc8b6b"/>
<rect x="605.00" y="249.47" width="2.30" height="2.28" fill="#fcaf93"/>
<rect x="607.00" y="249.47" width="2.30" height="2.28" fill="#fdd7c6"/>
<rect x="609.00" y="249.47" width="2.30" height="2.28" fill="#fdede5"/>
<rect x="611.00" y="249.47" width="2.30" height="2.28" fill="#fdf3ed"/>
<rect x="613.00" y="249.47" width="2.30" height="2.28" fill="#fdf5f0"/>
<rect x="615.00" y="249.47" width="2.30" height="2.28" fill="#fdf6f1"/>
<rect x="617.00" y="249.47" width="20.30" height="2.28" fill="#fdf6f1"/>
<rect x="549.00" y="251.45" width="16.30" height="2.28" fill="#fdf6f1"/>
<rect x="565.00" y="251.45" width="6.30" height="2.28" fill="#fdf6f1"/>
<rect x="571.00" y="251.45" width="4.30" height="2.28" fill="#fdf5f0"/>
<rect x="575.00" y="251.45" width="2.30" height="2.28" fill="#fdf4ef"/>
<rect x="577.00" y="251.45" width="2.30" height="2.28" fill="#fdf3ed"/>
<rect x="579.00" y="251.45" width="2.30" height="2.28" fill="#fdf2eb"/>
<rect x="581.00" y="251.45" width="2.30" height="2.28" fill="#fdebe1"/>
<rect x="583.00" y="251.45" width="2.30" height="2.28" fill="#fdddce"/>
<rect x="585.00" y="251.45" width="2.30" height="2.28" fill="#fcc2aa"/>
<rect x="587.00" y="251.45" width="2.30" height="2.28" fill="#fca588"/>
<rect x="589.00" y="251.45" width="2.30" height="2.28" fill="#fc8b6b"/>
<rect x="591.00" y="251.45" width="2.30" height="2.28" fill="#fb6d4d"/>
<rect x="593.00" y="251.45" width="2.30" height="2.28" fill="#f6553c"/>
<rect x="595.00" y="251.45" width="2.30" height="2.28" fill="#f03d2d"/>
<rect x="597.00" y="251.45" width="4.30" height="2.28" fill="#e83429"/>
<rect x="601.00" y="251.45" width="2.30" height="2.28" fill="#f34935"/>
<rect x="603.00" y="251.45" width="2.30" height="2.28" fill="#fb6d4d"/>
<rect x="605.00" y="251.45" width="2.30" height="2.28" fill="#fc9576"/>
<rect x="607.00" y="251.45" width="2.30" height="2.28" fill="#fcc2aa"/>
<rect x="609.00" y="251.45" width="2.30" height="2.28" fill="#fde7dc"/>
<rect x="611.00" y="251.45" width="2.30" height="2.28" fill="#fdf2eb"/>
<rect x="613.00" y="251.45" width="2.30" height="2.28" fill="#fdf5f0"/>
<rect x="615.00" y="251.45" width="2.30" height="2.28" fill="#fdf6f1"/>
<rect x="617.00" y="251.45" width="20.30" height="2.28" fill="#fdf6f1"/>
<rect x="549.00" y="253.43" width="16.30" height="2.28" fill="#fdf6f1"/>
<rect x="565.00" y="253.43" width="6.30" height="2.28" fill="#fdf6f1"/>
<rect x="571.00" y="253.43" width="4.30" height="2.28" fill="#fdf5f0"/>
<rect x="575.00" y="253.43" width="2.30" height="2.28" fill="#fdf4ef"/>
<rect x="577.00" y="253.43" width="2.30" height="2.28" fill="#fdf3ed"/>
<rect x="579.00" y="253.43" width="2.30" height="2.28" fill="#fdf0e8"/>
<rect x="581.00" y="253.43" width="2.30" height="2.28" fill="#fde7dc"/>
<rect x="583.00" y="253.43" width="2.30" height="2.28" fill="#fdd1be"/>
<rect x="585.00" y="253.43" width="2.30" height="2.28" fill="#fcaf93"/>
<rect x="587.00" y="253.43" width="2.30" height="2.28" fill="#fc9070"/>
<rect x="589.00" y="253.43" width="2.30" height="2.28" fill="#fb7252"/>
<rect x="591.00" y="253.43" width="2.30" height="2.28" fill="#f44f39"/>
<rect x="593.00" y="253.43" width="2.30" height="2.28" fill="#e83429"/>
<rect x="595.00" y="253.43" width="2.30" height="2.28" fill="#d52221"/>
<rect x="597.00" y="253.43" width="2.30" height="2.28" fill="#cc191e"/>
<rect x="599.00" y="253.43" width="2.30" height="2.28" fill="#d11e1f"/>
<rect x="601.00" y="253.43" width="2.30" height="2.28" fill="#e32f27"/>
<rect x="603.00" y="253.43" width="2.30" height="2.28" fill="#f75b40"/>
<rect x="605.00" y="253.43" width="2.30" height="2.28" fill="#fc8b6b"/>
<rect x="607.00" y="253.43" width="2.30" height="2.28" fill="#fcb99f"/>
<rect x="609.00" y="253.43" width="2.30" height="2.28" fill="#fde7dc"/>
<rect x="611.00" y="253.43" width="2.30" height="2.28" fill="#fdf2eb"/>
<rect x="613.00" y="253.43" width="2.30" height="2.28" fill="#fdf5f0"/>
<rect x="615.00" y="253.43" width="2.30" height="2.28" fill="#fdf6f1"/>
<rect x="617.00" y="253.43" width="20.30" height="2.28" fill="#fdf6f1"/>
<rect x="549.00" y="255.41" width="16.30" height="2.28" fill="#fdf6f1"/>
<rect x="565.00" y="255.41" width="6.30" height="2.28" fill="#fdf6f1"/>
<rect x="571.00" y="255.41" width="4.30" height="2.28" fill="#fdf5f0"/>
<rect x="575.00" y="255.41" width="2.30" height="2.28" fill="#fdf4ef"/>
<rect x="577.00" y="255.41" width="2.30" height="2.28" fill="#fdf3ed"/>
<rect x="579.00" y="255.41" width="2.30" height="2.28" fill="#fdf0e8"/>
<rect x="581.00" y="255.41" width="2.30" height="2.28" fill="#fde7dc"/>
<rect x="583.00" y="255.41" width="2.30" height="2.28" fill="#fdd1be"/>
<rect x="585.00" y="255.41" width="2.30" height="2.28" fill="#fcaa8d"/>
<rect x="587.00" y="255.41" width="2.30" height="2.28" fill="#fc8b6b"/>
<rect x="589.00" y="255.41" width="2.30" height="2.28" fill="#fa6648"/>
<rect x="591.00" y="255.41" width="2.30" height="2.28" fill="#f03d2d"/>
<rect x="593.00" y="255.41" width="2.30" height="2.28" fill="#da2723"/>
<rect x="595.00" y="255.41" width="2.30" height="2.28" fill="#cc191e"/>
<rect x="597.00" y="255.41" width="2.30" height="2.28" fill="#c7171c"/>
<rect x="599.00" y="255.41" width="2.30" height="2.28" fill="#d11e1f"/>
<rect x="601.00" y="255.41" width="2.30" height="2.28" fill="#e83429"/>
<rect x="603.00" y="255.41" width="2.30" height="2.28" fill="#f96044"/>
<rect x="605.00" y="255.41" width="2.30" height="2.28" fill="#fc9070"/>
<rect x="607.00" y="255.41" width="2.30" height="2.28" fill="#fcb99f"/>
<rect x="609.00" y="255.41" width="2.30" height="2.28" fill="#fde7dc"/>
<rect x="611.00" y="255.41" width="2.30" height="2.28" fill="#fdf2eb"/>
<rect x="613.00" y="255.41" width="2.30" height="2.28" fill="#fdf5f0"/>
<rect x="615.00" y="255.41" width="2.30" height="2.28" fill="#fdf6f1"/>
<rect x="617.00" y="255.41" width="20.30" height="2.28" fill="#fdf6f1"/>
<rect x="549.00" y="257.39" width="16.30" height="2.28" fill="#fdf6f1"/>
<rect x="565.00" y="257.39" width="8.30" height="2.28" fill="#fdf6f1"/>
<rect x="573.00" y="257.39" width="2.30" height="2.28" fill="#fdf5f0"/>
<rect x="575.00" y="257.39" width="2.30" height="2.28" fill="#fdf4ef"/>
<rect x="577.00" y="257.39" width="2.30" height="2.28" fill="#fdf3ed"/>
<rect x="579.00" y="257.39" width="2.30" height="2.28" fill="#fdf0e8"/>
<rect x="581.00" y="257.39" width="2.30" height="2.28" fill="#fde7dc"/>
<rect x="583.00" y="257.39" width="2.30" height="2.28" fill="#fdd1be"/>
<rect x="585.00" y="257.39" width="2.30" height="2.28" fill="#fcaa8d"/>
<rect x="587.00" y="257.39" width="2.30" height="2.28" fill="#fc8b6b"/>
<rect x="589.00" y="257.39" width="2.30" height="2.28" fill="#fb6d4d"/>
<rect x="591.00" y="257.39" width="2.30" height="2.28" fill="#f34935"/>
<rect x="593.00" y="257.39" width="2.30" height="2.28" fill="#e83429"/>
<rect x="595.00" y="257.39" width="4.30" height="2.28" fill="#da2723"/>
<rect x="599.00" y="257.39" width="2.30" height="2.28" fill="#e83429"/>
<rect x="601.00" y="257.39" width="2.30" height="2.28" fill="#f44f39"/>
<rect x="603.00" y="257.39" width="2.30" height="2.28" fill="#fb7c5c"/>
<rect x="605.00" y="257.39" width="2.30" height="2.28" fill="#fca588"/>
<rect x="607.00" y="257.39" width="2.30" height="2.28" fill="#fdd1be"/>
<rect x="609.00" y="257.39" width="2.30" height="2.28" fill="#fdebe1"/>
<rect x="611.00" y="257.39" width="2.30" height="2.28" fill="#fdf3ed"/>
<rect x="613.00" y="257.39" width="2.30" height="2.28" fill="#fdf5f0"/>
<rect x="615.00" y="257.39" width="2.30" height="2.28" fill="#fdf6f1"/>
<rect x="617.00" y="257.39" width="20.30" height="2.28" fill="#fdf6f1"/>
<rect x="549.00" y="259.37" width="18.30" height="2.28" fill="#fdf6f1"/>
<rect x="567.00" y="259.37" width="6.30" height="2.28" fill="#fdf6f1"/>
<rect x="573.00" y="259.37" width="2.30" height="2.28" fill="#fdf5f0"/>
<rect x="575.00" y="259.37" width="2.30" height="2.28" fill="#fdf4ef"/>
<rect x="577.00" y="259.37" width="2.30" height="2.28" fill="#fdf3ed"/>
<rect x="579.00" y="259.37" width="2.30" height="2.28" fill="#fdf0e8"/>
<rect x="581.00" y="259.37" width="2.30" height="2.28" fill="#fdebe1"/>
<rect x="583.00" y="259.37" width="2.30" height="2.28" fill="#fdd7c6"/>
<rect x="585.00" y="259.37" width="2.30" height="2.28" fill="#fcb499"/>
<rect x="587.00" y="259.37" width="2.30" height="2.28" fill="#fc9b7c"/>
<rect x="589.00" y="259.37" width="2.30" height="2.28" fill="#fb7c5c"/>
<rect x="591.00" y="259.37" width="2.30" height="2.28" fill="#fa6648"/>
<rect x="593.00" y="259.37" width="2.30" height="2.28" fill="#f44f39"/>
<rect x="595.00" y="259.37" width="2.30" height="2.28" fill="#f34935"/>
<rect x="597.00" y="259.37" width="2.30" height="2.28" fill="#f44f39"/>
<rect x="599.00" y="259.37" width="2.30" height="2.28" fill="#f96044"/>
<rect x="601.00" y="259.37" width="2.30" height="2.28" fill="#fb7c5c"/>
<rect x="603.00" y="259.37" width="2.30" height="2.28" fill="#fc9b7c"/>
<rect x="605.00" y="259.37" width="2.30" height="2.28" fill="#fcc2aa"/>
<rect x="607.00" y="259.37" width="2.30" height="2.28" fill="#fde2d5"/>
<rect x="609.00" y="259.37" width="2.30" height="2.28" fill="#fdf0e8"/>
<rect x="611.00" y="259.37" width="2.30" height="2.28" fill="#fdf4ef"/>
<rect x="613.00" y="259.37" width="2.30" height="2.28" fill="#fdf6f1"/>
<rect x="615.00" y="259.37" width="22.30" height="2.28" fill="#fdf6f1"/>
<rect x="549.00" y="261.35" width="18.30" height="2.28" fill="#fdf6f1"/>
<rect x="567.00" y="261.35" width="4.30" height="2.28" fill="#fdf6f1"/>
<rect x="571.00" y="261.35" width="4.30" height="2.28" fill="#fdf5f0"/>
<rect x="575.00" y="261.35" width="2.30" height="2.28" fill="#fdf4ef"/>
<rect x="577.00" y="261.35" width="2.30" height="2.28" fill="#fdf3ed"/>
<rect x="579.00" y="261.35" width="2.30" height="2.28" fill="#fdf2eb"/>
<rect x="581.00" y="261.35" width="2.30" height="2.28" fill="#fdede5"/>
<rect x="583.00" y="261.35" width="2.30" height="2.28" fill="#fde2d5"/>
<rect x="585.00" y="261.35" width="2.30" height="2.28" fill="#fdcab4"/>
<rect x="587.00" y="261.35" width="2.30" height="2.28" fill="#fcaf93"/>
<rect x="589.00" y="261.35" width="2.30" height="2.28" fill="#fc9b7c"/>
<rect x="591.00" y="261.35" width="2.30" height="2.28" fill="#fc8666"/>
<rect x="593.00" y="261.35" width="2.30" height="2.28" fill="#fb7c5c"/>
<rect x="595.00" y="261.35" width="2.30" height="2.28" fill="#fb7757"/>
<rect x="597.00" y="261.35" width="2.30" height="2.28" fill="#fc8161"/>
<rect x="599.00" y="261.35" width="2.30" height="2.28" fill="#fc9070"/>
<rect x="601.00" y="261.35" width="2.30" height="2.28" fill="#fca588"/>
<rect x="603.00" y="261.35" width="2.30" height="2.28" fill="#fcc2aa"/>
<rect x="605.00" y="261.35" width="2.30" height="2.28" fill="#fdddce"/>
<rect x="607.00" y="261.35" width="2.30" height="2.28" fill="#fdede5"/>
<rect x="609.00" y="261.35" width="2.30" height="2.28" fill="#fdf3ed"/>
<rect x="611.00" y="261.35" width="2.30" height="2.28" fill="#fdf5f0"/>
<rect x="613.00" y="261.35" width="2.30" height="2.28" fill="#fdf6f1"/>
<rect x="615.00" y="261.35" width="22.30" height="2.28" fill="#fdf6f1"/>
<rect x="549.00" y="263.33" width="16.30" height="2.28" fill="#fdf6f1"/>
<rect x="565.00" y="263.33" width="6.30" height="2.28" fill="#fdf6f1"/>
<rect x="571.00" y="263.33" width="2.30" height="2.28" fill="#fdf5f0"/>
<rect x="573.00" y="263.33" width="4.30" height="2.28" fill="#fdf4ef"/>
<rect x="577.00" y="263.33" width="2.30" height="2.28" fill="#fdf3ed"/>
<rect x="579.00" y="263.33" width="2.30" height="2.28" fill="#fdf0e8"/>
<rect x="581.00" y="263.33" width="2.30" height="2.28" fill="#fdede5"/>
<rect x="583.00" y="263.33" width="2.30" height="2.28" fill="#fde7dc"/>
<rect x="585.00" y="263.33" width="2.30" height="2.28" fill="#fdd7c6"/>
<rect x="587.00" y="263.33" width="2.30" height="2.28" fill="#fcc2aa"/>
<rect x="589.00" y="263.33" width="2.30" height="2.28" fill="#fcaf93"/>
<rect x="591.00" y="263.33" width="2.30" height="2.28" fill="#fca588"/>
<rect x="593.00" y="263.33" width="4.30" height="2.28" fill="#fca082"/>
<rect x="597.00" y="263.33" width="2.30" height="2.28" fill="#fcaa8d"/>
<rect x="599.00" y="263.33" width="2.30" height="2.28" fill="#fcb499"/>
<rect x="601.00" y="263.33" width="2.30" height="2.28" fill="#fdcab4"/>
<rect x="603.00" y="263.33" width="2.30" height="2.28" fill="#fde2d5"/>
<rect x="605.00" y="263.33" width="2.30" height="2.28" fill="#fdede5"/>
<rect x="607.00" y="263.33" width="2.30" height="2.28" fill="#fdf3ed"/>
<rect x="609.00" y="263.33" width="2.30" height="2.28" fill="#fdf5f0"/>
<rect x="611.00" y="263.33" width="2.30" height="2.28" fill="#fdf6f1"/>
<rect x="613.00" y="263.33" width="24.30" height="2.28" fill="#fdf6f1"/>
<rect x="549.00" y="265.31" width="14.30" height="2.28" fill="#fdf6f1"/>
<rect x="563.00" y="265.31" width="4.30" height="2.28" fill="#fdf6f1"/>
<rect x="567.00" y="265.31" width="4.30" height="2.28" fill="#fdf5f0"/>
<rect x="571.00" y="265.31" width="2.30" height="2.28" fill="#fdf4ef"/>
<rect x="573.00" y="265.31" width="2.30" height="2.28" fill="#fdf3ed"/>
<rect x="575.00" y="265.31" width="2.30" height="2.28" fill="#fdf2eb"/>
<rect x="577.00" y="265.31" width="2.30" height="2.28" fill="#fdf0e8"/>
<rect x="579.00" y="265.31" width="2.30" height="2.28" fill="#fdebe1"/>
<rect x="581.00" y="265.31" width="2.30" height="2.28" fill="#fde7dc"/>
<rect x="583.00" y="265.31" width="2.30" height="2.28" fill="#fde2d5"/>
<rect x="585.00" y="265.31" width="2.30" height="2.28" fill="#fdd7c6"/>
<rect x="587.00" y="265.31" width="2.30" height="2.28" fill="#fdd1be"/>
<rect x="589.00" y="265.31" width="2.30" height="2.28" fill="#fcc2aa"/>
<rect x="591.00" y="265.31" width="4.30" height="2.28" fill="#fcb99f"/>
<rect x="595.00" y="265.31" width="2.30" height="2.28" fill="#fcc2aa"/>
<rect x="597.00" y="265.31" width="2.30" height="2.28" fill="#fdd1be"/>
<rect x="599.00" y="265.31" width="2.30" height="2.28" fill="#fdddce"/>
<rect x="601.00" y="265.31" width="2.30" height="2.28" fill="#fde7dc"/>
<rect x="603.00" y="265.31" width="2.30" height="2.28" fill="#fdede5"/>
<rect x="605.00" y="265.31" width="2.30" height="2.28" fill="#fdf3ed"/>
<rect x="607.00" y="265.31" width="2.30" height="2.28" fill="#fdf4ef"/>
<rect x="609.00" y="265.31" width="2.30" height="2.28" fill="#fdf5f0"/>
<rect x="611.00" y="265.31" width="2.30" height="2.28" fill="#fdf6f1"/>
<rect x="613.00" y="265.31" width="24.30" height="2.28" fill="#fdf6f1"/>
<rect x="549.00" y="267.29" width="14.30" height="2.28" fill="#fdf6f1"/>
<rect x="563.00" y="267.29" width="2.30" height="2.28" fill="#fdf6f1"/>
<rect x="565.00" y="267.29" width="2.30" height="2.28" fill="#fdf5f0"/>
<rect x="567.00" y="267.29" width="2.30" height="2.28" fill="#fdf4ef"/>
<rect x="569.00" y="267.29" width="2.30" height="2.28" fill="#fdf3ed"/>
<rect x="571.00" y="267.29" width="2.30" height="2.28" fill="#fdf2eb"/>
<rect x="573.00" y="267.29" width="2.30" height="2.28" fill="#fdede5"/>
<rect x="575.00" y="267.29" width="2.30" height="2.28" fill="#fde7dc"/>
<rect x="577.00" y="267.29" width="2.30" height="2.28" fill="#fde2d5"/>
<rect x="579.00" y="267.29" width="2.30" height="2.28" fill="#fdd7c6"/>
<rect x="581.00" y="267.29" width="2.30" height="2.28" fill="#fdd1be"/>
<rect x="583.00" y="267.29" width="2.30" height="2.28" fill="#fdcab4"/>
<rect x="585.00" y="267.29" width="6.30" height="2.28" fill="#fcc2aa"/>
<rect x="591.00" y="267.29" width="2.30" height="2.28" fill="#fdcab4"/>
<rect x="593.00" y="267.29" width="2.30" height="2.28" fill="#fdd1be"/>
<rect x="595.00" y="267.29" width="2.30" height="2.28" fill="#fdd7c6"/>
<rect x="597.00" y="267.29" width="2.30" height="2.28" fill="#fde2d5"/>
<rect x="599.00" y="267.29" width="2.30" height="2.28" fill="#fdebe1"/>
<rect x="601.00" y="267.29" width="2.30" height="2.28" fill="#fdf0e8"/>
<rect x="603.00" y="267.29" width="2.30" height="2.28" fill="#fdf3ed"/>
<rect x="605.00" y="267.29" width="2.30" height="2.28" fill="#fdf4ef"/>
<rect x="607.00" y="267.29" width="2.30" height="2.28" fill="#fdf5f0"/>
<rect x="609.00" y="267.29" width="2.30" height="2.28" fill="#fdf6f1"/>
<rect x="611.00" y="267.29" width="26.30" height="2.28" fill="#fdf6f1"/>
<rect x="549.00" y="269.27" width="10.30" height="2.28" fill="#fdf6f1"/>
<rect x="559.00" y="269.27" width="4.30" height="2.28" fill="#fdf6f1"/>
<rect x="563.00" y="269.27" width="2.30" height="2.28" fill="#fdf5f0"/>
<rect x="565.00" y="269.27" width="2.30" height="2.28" fill="#fdf4ef"/>
<rect x="567.00" y="269.27" width="2.30" height="2.28" fill="#fdf2eb"/>
<rect x="569.00" y="269.27" width="2.30" height="2.28" fill="#fdede5"/>
<rect x="571.00" y="269.27" width="2.30" height="2.28" fill="#fde7dc"/>
<rect x="573.00" y="269.27" width="2.30" height="2.28" fill="#fdddce"/>
<rect x="575.00" y="269.27" width="2.30" height="2.28" fill="#fdcab4"/>
<rect x="577.00" y="269.27" width="2.30" height="2.28" fill="#fcb499"/>
<rect x="579.00" y="269.27" width="2.30" height="2.28" fill="#fcaa8d"/>
<rect x="581.00" y="269.27" width="2.30" height="2.28" fill="#fca588"/>
<rect x="583.00" y="269.27" width="4.30" height="2.28" fill="#fca082"/>
<rect x="587.00" y="269.27" width="2.30" height="2.28" fill="#fca588"/>
<rect x="589.00" y="269.27" width="2.30" height="2.28" fill="#fcaa8d"/>
<rect x="591.00" y="269.27" width="2.30" height="2.28" fill="#fcb499"/>
<rect x="593.00" y="269.27" width="2.30" height="2.28" fill="#fdcab4"/>
<rect x="595.00" y="269.27" width="2.30" height="2.28" fill="#fdd7c6"/>
<rect x="597.00" y="269.27" width="2.30" height="2.28" fill="#fde7dc"/>
<rect x="599.00" y="269.27" width="2.30" height="2.28" fill="#fdede5"/>
<rect x="601.00" y="269.27" width="2.30" height="2.28" fill="#fdf2eb"/>
<rect x="603.00" y="269.27" width="2.30" height="2.28" fill="#fdf3ed"/>
<rect x="605.00" y="269.27" width="2.30" height="2.28" fill="#fdf5f0"/>
<rect x="607.00" y="269.27" width="4.30" height="2.28" fill="#fdf6f1"/>
<rect x="611.00" y="269.27" width="26.30" height="2.28" fill="#fdf6f1"/>
<rect x="549.00" y="271.25" width="2.30" height="2.28" fill="#fdf6f1"/>
<rect x="551.00" y="271.25" width="8.30" height="2.28" fill="#fdf6f1"/>
<rect x="559.00" y="271.25" width="4.30" height="2.28" fill="#fdf5f0"/>
<rect x="563.00" y="271.25" width="2.30" height="2.28" fill="#fdf3ed"/>
<rect x="565.00" y="271.25" width="2.30" height="2.28" fill="#fdf2eb"/>
<rect x="567.00" y="271.25" width="2.30" height="2.28" fill="#fdede5"/>
<rect x="569.00" y="271.25" width="2.30" height="2.28" fill="#fde2d5"/>
<rect x="571.00" y="271.25" width="2.30" height="2.28" fill="#fdcab4"/>
<rect x="573.00" y="271.25" width="2.30" height="2.28" fill="#fcb499"/>
<rect x="575.00" y="271.25" width="2.30" height="2.28" fill="#fca082"/>
<rect x="577.00" y="271.25" width="2.30" height="2.28" fill="#fc8b6b"/>
<rect x="579.00" y="271.25" width="2.30" height="2.28" fill="#fc8161"/>
<rect x="581.00" y="271.25" width="2.30" height="2.28" fill="#fb7757"/>
<rect x="583.00" y="271.25" width="2.30" height="2.28" fill="#fb7252"/>
<rect x="585.00" y="271.25" width="2.30" height="2.28" fill="#fb7757"/>
<rect x="587.00" y="271.25" width="2.30" height="2.28" fill="#fb7c5c"/>
<rect x="589.00" y="271.25" width="2.30" height="2.28" fill="#fc8b6b"/>
<rect x="591.00" y="271.25" width="2.30" height="2.28" fill="#fca082"/>
<rect x="593.00" y="271.25" width="2.30" height="2.28" fill="#fcaf93"/>
<rect x="595.00" y="271.25" width="2.30" height="2.28" fill="#fdcab4"/>
<rect x="597.00" y="271.25" width="2.30" height="2.28" fill="#fde2d5"/>
<rect x="599.00" y="271.25" width="2.30" height="2.28" fill="#fdebe1"/>
<rect x="601.00" y="271.25" width="2.30" height="2.28" fill="#fdf2eb"/>
<rect x="603.00" y="271.25" width="2.30" height="2.28" fill="#fdf4ef"/>
<rect x="605.00" y="271.25" width="2.30" height="2.28" fill="#fdf5f0"/>
<rect x="607.00" y="271.25" width="4.30" height="2.28" fill="#fdf6f1"/>
<rect x="611.00" y="271.25" width="26.30" height="2.28" fill="#fdf6f1"/>
<rect x="549.00" y="273.23" width="2.30" height="2.28" fill="#fdf5f0"/>
<rect x="551.00" y="273.23" width="8.30" height="2.28" fill="#fdf4ef"/>
<rect x="559.00" y="273.23" width="2.30" height="2.28" fill="#fdf3ed"/>
<rect x="561.00" y="273.23" width="2.30" height="2.28" fill="#fdf2eb"/>
<rect x="563.00" y="273.23" width="2.30" height="2.28" fill="#fdf0e8"/>
<rect x="565.00" y="273.23" width="2.30" height="2.28" fill="#fdebe1"/>
<rect x="567.00" y="273.23" width="2.30" height="2.28" fill="#fdddce"/>
<rect x="569.00" y="273.23" width="2.30" height="2.28" fill="#fcc2aa"/>
<rect x="571.00" y="273.23" width="2.30" height="2.28" fill="#fcaa8d"/>
<rect x="573.00" y="273.23" width="2.30" height="2.28" fill="#fc9576"/>
<rect x="575.00" y="273.23" width="2.30" height="2.28" fill="#fb7c5c"/>
<rect x="577.00" y="273.23" width="2.30" height="2.28" fill="#fa6648"/>
<rect x="579.00" y="273.23" width="2.30" height="2.28" fill="#f44f39"/>
<rect x="581.00" y="273.23" width="2.30" height="2.28" fill="#f14331"/>
<rect x="583.00" y="273.23" width="2.30" height="2.28" fill="#f03d2d"/>
<rect x="585.00" y="273.23" width="2.30" height="2.28" fill="#f14331"/>
<rect x="587.00" y="273.23" width="2.30" height="2.28" fill="#f6553c"/>
<rect x="589.00" y="273.23" width="2.30" height="2.28" fill="#fb6d4d"/>
<rect x="591.00" y="273.23" width="2.30" height="2.28" fill="#fc8666"/>
<rect x="593.00" y="273.23" width="2.30" height="2.28" fill="#fca082"/>
<rect x="595.00" y="273.23" width="2.30" height="2.28" fill="#fcb99f"/>
<rect x="597.00" y="273.23" width="2.30" height="2.28" fill="#fdd7c6"/>
<rect x="599.00" y="273.23" width="2.30" height="2.28" fill="#fdebe1"/>
<rect x="601.00" y="273.23" width="2.30" height="2.28" fill="#fdf0e8"/>
<rect x="603.00" y="273.23" width="2.30" height="2.28" fill="#fdf3ed"/>
<rect x="605.00" y="273.23" width="2.30" height="2.28" fill="#fdf5f0"/>
<rect x="607.00" y="273.23" width="4.30" height="2.28" fill="#fdf6f1"/>
<rect x="611.00" y="273.23" width="26.30" height="2.28" fill="#fdf6f1"/>
<rect x="549.00" y="275.22" width="10.30" height="2.28" fill="#fdede5"/>
<rect x="559.00" y="275.22" width="2.30" height="2.28" fill="#fdebe1"/>
<rect x="561.00" y="275.22" width="2.30" height="2.28" fill="#fde7dc"/>
<rect x="563.00" y="275.22" width="2.30" height="2.28" fill="#fde2d5"/>
<rect x="565.00" y="275.22" width="2.30" height="2.28" fill="#fdd1be"/>
<rect x="567.00" y="275.22" width="2.30" height="2.28" fill="#fcb99f"/>
<rect x="569.00" y="275.22" width="2.30" height="2.28" fill="#fcaa8d"/>
<rect x="571.00" y="275.22" width="2.30" height="2.28" fill="#fc9070"/>
<rect x="573.00" y="275.22" width="2.30" height="2.28" fill="#fb7757"/>
<rect x="575.00" y="275.22" width="2.30" height="2.28" fill="#f75b40"/>
<rect x="577.00" y="275.22" width="2.30" height="2.28" fill="#f14331"/>
<rect x="579.00" y="275.22" width="2.30" height="2.28" fill="#e32f27"/>
<rect x="581.00" y="275.22" width="4.30" height="2.28" fill="#da2723"/>
<rect x="585.00" y="275.22" width="2.30" height="2.28" fill="#de2b25"/>
<rect x="587.00" y="275.22" width="2.30" height="2.28" fill="#ec382b"/>
<rect x="589.00" y="275.22" width="2.30" height="2.28" fill="#f6553c"/>
<rect x="591.00" y="275.22" width="2.30" height="2.28" fill="#fb7757"/>
<rect x="593.00" y="275.22" width="2.30" height="2.28" fill="#fc9576"/>
<rect x="595.00" y="275.22" width="2.30" height="2.28" fill="#fcaf93"/>
<rect x="597.00" y="275.22" width="2.30" height="2.28" fill="#fdd1be"/>
<rect x="599.00" y="275.22" width="2.30" height="2.28" fill="#fde7dc"/>
<rect x="601.00" y="275.22" width="2.30" height="2.28" fill="#fdf0e8"/>
<rect x="603.00" y="275.22" width="2.30" height="2.28" fill="#fdf3ed"/>
<rect x="605.00" y="275.22" width="2.30" height="2.28" fill="#fdf5f0"/>
<rect x="607.00" y="275.22" width="2.30" height="2.28" fill="#fdf6f1"/>
<rect x="609.00" y="275.22" width="28.30" height="2.28" fill="#fdf6f1"/>
<rect x="549.00" y="277.20" width="10.30" height="2.28" fill="#fdcab4"/>
<rect x="559.00" y="277.20" width="2.30" height="2.28" fill="#fcc2aa"/>
<rect x="561.00" y="277.20" width="2.30" height="2.28" fill="#fcb99f"/>
<rect x="563.00" y="277.20" width="2.30" height="2.28" fill="#fcb499"/>
<rect x="565.00" y="277.20" width="2.30" height="2.28" fill="#fcaa8d"/>
<rect x="567.00" y="277.20" width="2.30" height="2.28" fill="#fc9b7c"/>
<rect x="569.00" y="277.20" width="2.30" height="2.28" fill="#fc8b6b"/>
<rect x="571.00" y="277.20" width="2.30" height="2.28" fill="#fb7757"/>
<rect x="573.00" y="277.20" width="2.30" height="2.28" fill="#f96044"/>
<rect x="575.00" y="277.20" width="2.30" height="2.28" fill="#f34935"/>
<rect x="577.00" y="277.20" width="2.30" height="2.28" fill="#e83429"/>
<rect x="579.00" y="277.20" width="2.30" height="2.28" fill="#da2723"/>
<rect x="581.00" y="277.20" width="4.30" height="2.28" fill="#d52221"/>
<rect x="585.00" y="277.20" width="2.30" height="2.28" fill="#de2b25"/>
<rect x="587.00" y="277.20" width="2.30" height="2.28" fill="#ec382b"/>
<rect x="589.00" y="277.20" width="2.30" height="2.28" fill="#f6553c"/>
<rect x="591.00" y="277.20" width="2.30" height="2.28" fill="#fb7757"/>
<rect x="593.00" y="277.20" width="2.30" height="2.28" fill="#fc9576"/>
<rect x="595.00" y="277.20" width="2.30" height="2.28" fill="#fcb499"/>
<rect x="597.00" y="277.20" width="2.30" height="2.28" fill="#fdd1be"/>
<rect x="599.00" y="277.20" width="2.30" height="2.28" fill="#fde7dc"/>
<rect x="601.00" y="277.20" width="2.30" height="2.28" fill="#fdf0e8"/>
<rect x="603.00" y="277.20" width="2.30" height="2.28" fill="#fdf3ed"/>
<rect x="605.00" y="277.20" width="2.30" height="2.28" fill="#fdf5f0"/>
<rect x="607.00" y="277.20" width="2.30" height="2.28" fill="#fdf6f1"/>
<rect x="609.00" y="277.20" width="28.30" height="2.28" fill="#fdf6f1"/>
<rect x="549.00" y="279.18" width="10.30" height="2.28" fill="#fc9070"/>
<rect x="559.00" y="279.18" width="4.30" height="2.28" fill="#fc8b6b"/>
<rect x="563.00" y="279.18" width="2.30" height="2.28" fill="#fc8666"/>
<rect x="565.00" y="279.18" width="2.30" height="2.28" fill="#fc8161"/>
<rect x="567.00" y="279.18" width="2.30" height="2.28" fill="#fb7757"/>
<rect x="569.00" y="279.18" width="2.30" height="2.28" fill="#fb6d4d"/>
<rect x="571.00" y="279.18" width="2.30" height="2.28" fill="#f75b40"/>
<rect x="573.00" y="279.18" width="2.30" height="2.28" fill="#f44f39"/>
<rect x="575.00" y="279.18" width="2.30" height="2.28" fill="#f03d2d"/>
<rect x="577.00" y="279.18" width="2.30" height="2.28" fill="#ec382b"/>
<rect x="579.00" y="279.18" width="4.30" height="2.28" fill="#e32f27"/>
<rect x="583.00" y="279.18" width="2.30" height="2.28" fill="#e83429"/>
<rect x="585.00" y="279.18" width="2.30" height="2.28" fill="#f03d2d"/>
<rect x="587.00" y="279.18" width="2.30" height="2.28" fill="#f44f39"/>
<rect x="589.00" y="279.18" width="2.30" height="2.28" fill="#fb6d4d"/>
<rect x="591.00" y="279.18" width="2.30" height="2.28" fill="#fc8666"/>
<rect x="593.00" y="279.18" width="2.30" height="2.28" fill="#fca588"/>
<rect x="595.00" y="279.18" width="2.30" height="2.28" fill="#fcc2aa"/>
<rect x="597.00" y="279.18" width="2.30" height="2.28" fill="#fdddce"/>
<rect x="599.00" y="279.18" width="2.30" height="2.28" fill="#fdede5"/>
<rect x="601.00" y="279.18" width="2.30" height="2.28" fill="#fdf2eb"/>
<rect x="603.00" y="279.18" width="2.30" height="2.28" fill="#fdf4ef"/>
<rect x="605.00" y="279.18" width="2.30" height="2.28" fill="#fdf5f0"/>
<rect x="607.00" y="279.18" width="2.30" height="2.28" fill="#fdf6f1"/>
<rect x="609.00" y="279.18" width="28.30" height="2.28" fill="#fdf6f1"/>
<rect x="549.00" y="281.16" width="16.30" height="2.28" fill="#f34935"/>
<rect x="565.00" y="281.16" width="6.30" height="2.28" fill="#f14331"/>
<rect x="571.00" y="281.16" width="8.30" height="2.28" fill="#f03d2d"/>
<rect x="579.00" y="281.16" width="2.30" height="2.28" fill="#f14331"/>
<rect x="581.00" y="281.16" width="2.30" height="2.28" fill="#f34935"/>
<rect x="583.00" y="281.16" width="2.30" height="2.28" fill="#f6553c"/>
<rect x="585.00" y="281.16" width="2.30" height="2.28" fill="#f96044"/>
<rect x="587.00" y="281.16" width="2.30" height="2.28" fill="#fb7757"/>
<rect x="589.00" y="281.16" width="2.30" height="2.28" fill="#fc8b6b"/>
<rect x="591.00" y="281.16" width="2.30" height="2.28" fill="#fca082"/>
<rect x="593.00" y="281.16" width="2.30" height="2.28" fill="#fcb99f"/>
<rect x="595.00" y="281.16" width="2.30" height="2.28" fill="#fdd7c6"/>
<rect x="597.00" y="281.16" width="2.30" height="2.28" fill="#fde7dc"/>
<rect x="599.00" y="281.16" width="2.30" height="2.28" fill="#fdf0e8"/>
<rect x="601.00" y="281.16" width="2.30" height="2.28" fill="#fdf3ed"/>
<rect x="603.00" y="281.16" width="2.30" height="2.28" fill="#fdf5f0"/>
<rect x="605.00" y="281.16" width="2.30" height="2.28" fill="#fdf6f1"/>
<rect x="607.00" y="281.16" width="30.30" height="2.28" fill="#fdf6f1"/>
<rect x="549.00" y="283.14" width="2.30" height="2.28" fill="#aa1016"/>
<rect x="551.00" y="283.14" width="8.30" height="2.28" fill="#af1117"/>
<rect x="559.00" y="283.14" width="2.30" height="2.28" fill="#b31218"/>
<rect x="561.00" y="283.14" width="4.30" height="2.28" fill="#b81419"/>
<rect x="565.00" y="283.14" width="2.30" height="2.28" fill="#c2161b"/>
<rect x="567.00" y="283.14" width="2.30" height="2.28" fill="#c7171c"/>
<rect x="569.00" y="283.14" width="2.30" height="2.28" fill="#d11e1f"/>
<rect x="571.00" y="283.14" width="2.30" height="2.28" fill="#da2723"/>
<rect x="573.00" y="283.14" width="2.30" height="2.28" fill="#e83429"/>
<rect x="575.00" y="283.14" width="2.30" height="2.28" fill="#f03d2d"/>
<rect x="577.00" y="283.14" width="2.30" height="2.28" fill="#f44f39"/>
<rect x="579.00" y="283.14" width="2.30" height="2.28" fill="#f96044"/>
<rect x="581.00" y="283.14" width="2.30" height="2.28" fill="#fb6d4d"/>
<rect x="583.00" y="283.14" width="2.30" height="2.28" fill="#fb7757"/>
<rect x="585.00" y="283.14" width="2.30" height="2.28" fill="#fc8666"/>
<rect x="587.00" y="283.14" width="2.30" height="2.28" fill="#fc9576"/>
<rect x="589.00" y="283.14" width="2.30" height="2.28" fill="#fcaa8d"/>
<rect x="591.00" y="283.14" width="2.30" height="2.28" fill="#fcb99f"/>
<rect x="593.00" y="283.14" width="2.30" height="2.28" fill="#fdd7c6"/>
<rect x="595.00" y="283.14" width="2.30" height="2.28" fill="#fde7dc"/>
<rect x="597.00" y="283.14" width="2.30" height="2.28" fill="#fdf0e8"/>
<rect x="599.00" y="283.14" width="2.30" height="2.28" fill="#fdf3ed"/>
<rect x="601.00" y="283.14" width="2.30" height="2.28" fill="#fdf4ef"/>
<rect x="603.00" y="283.14" width="4.30" height="2.28" fill="#fdf6f1"/>
<rect x="607.00" y="283.14" width="30.30" height="2.28" fill="#fdf6f1"/>
<rect x="549.00" y="285.12" width="10.30" height="2.28" fill="#67000d"/>
<rect x="559.00" y="285.12" width="2.30" height="2.28" fill="#6f020e"/>
<rect x="561.00" y="285.12" width="2.30" height="2.28" fill="#77040f"/>
<rect x="563.00" y="285.12" width="2.30" height="2.28" fill="#860811"/>
<rect x="565.00" y="285.12" width="2.30" height="2.28" fill="#9d0d14"/>
<rect x="567.00" y="285.12" width="2.30" height="2.28" fill="#af1117"/>
<rect x="569.00" y="285.12" width="2.30" height="2.28" fill="#c2161b"/>
<rect x="571.00" y="285.12" width="2.30" height="2.28" fill="#d52221"/>
<rect x="573.00" y="285.12" width="2.30" height="2.28" fill="#e83429"/>
<rect x="575.00" y="285.12" width="2.30" height="2.28" fill="#f34935"/>
<rect x="577.00" y="285.12" width="2.30" height="2.28" fill="#f96044"/>
<rect x="579.00" y="285.12" width="2.30" height="2.28" fill="#fb7757"/>
<rect x="581.00" y="285.12" width="2.30" height="2.28" fill="#fc8666"/>
<rect x="583.00" y="285.12" width="2.30" height="2.28" fill="#fc9576"/>
<rect x="585.00" y="285.12" width="2.30" height="2.28" fill="#fca588"/>
<rect x="587.00" y="285.12" width="2.30" height="2.28" fill="#fcb499"/>
<rect x="589.00" y="285.12" width="2.30" height="2.28" fill="#fdcab4"/>
<rect x="591.00" y="285.12" width="2.30" height="2.28" fill="#fdddce"/>
<rect x="593.00" y="285.12" width="2.30" height="2.28" fill="#fde7dc"/>
<rect x="595.00" y="285.12" width="2.30" height="2.28" fill="#fdf0e8"/>
<rect x="597.00" y="285.12" width="2.30" height="2.28" fill="#fdf3ed"/>
<rect x="599.00" y="285.12" width="2.30" height="2.28" fill="#fdf4ef"/>
<rect x="601.00" y="285.12" width="2.30" height="2.28" fill="#fdf5f0"/>
<rect x="603.00" y="285.12" width="2.30" height="2.28" fill="#fdf6f1"/>
<rect x="605.00" y="285.12" width="32.30" height="2.28" fill="#fdf6f1"/>
<rect x="549.00" y="287.10" width="6.30" height="2.28" fill="#8e0912"/>
<rect x="555.00" y="287.10" width="4.30" height="2.28" fill="#960b13"/>
<rect x="559.00" y="287.10" width="2.30" height="2.28" fill="#9d0d14"/>
<rect x="561.00" y="287.10" width="2.30" height="2.28" fill="#a50f15"/>
<rect x="563.00" y="287.10" width="2.30" height="2.28" fill="#af1117"/>
<rect x="565.00" y="287.10" width="2.30" height="2.28" fill="#b81419"/>
<rect x="567.00" y="287.10" width="2.30" height="2.28" fill="#c7171c"/>
<rect x="569.00" y="287.10" width="2.30" height="2.28" fill="#da2723"/>
<rect x="571.00" y="287.10" width="2.30" height="2.28" fill="#ec382b"/>
<rect x="573.00" y="287.10" width="2.30" height="2.28" fill="#f44f39"/>
<rect x="575.00" y="287.10" width="2.30" height="2.28" fill="#fa6648"/>
<rect x="577.00" y="287.10" width="2.30" height="2.28" fill="#fc8161"/>
<rect x="579.00" y="287.10" width="2.30" height="2.28" fill="#fc9576"/>
<rect x="581.00" y="287.10" width="2.30" height="2.28" fill="#fca588"/>
<rect x="583.00" y="287.10" width="2.30" height="2.28" fill="#fcb499"/>
<rect x="585.00" y="287.10" width="2.30" height="2.28" fill="#fcc2aa"/>
<rect x="587.00" y="287.10" width="2.30" height="2.28" fill="#fdd1be"/>
<rect x="589.00" y="287.10" width="2.30" height="2.28" fill="#fde2d5"/>
<rect x="591.00" y="287.10" width="2.30" height="2.28" fill="#fdebe1"/>
<rect x="593.00" y="287.10" width="2.30" height="2.28" fill="#fdf0e8"/>
<rect x="595.00" y="287.10" width="2.30" height="2.28" fill="#fdf3ed"/>
<rect x="597.00" y="287.10" width="2.30" height="2.28" fill="#fdf4ef"/>
<rect x="599.00" y="287.10" width="2.30" height="2.28" fill="#fdf5f0"/>
<rect x="601.00" y="287.10" width="2.30" height="2.28" fill="#fdf6f1"/>
<rect x="603.00" y="287.10" width="34.30" height="2.28" fill="#fdf6f1"/>
<rect x="549.00" y="289.08" width="6.30" height="2.28" fill="#e32f27"/>
<rect x="555.00" y="289.08" width="6.30" height="2.28" fill="#e83429"/>
<rect x="561.00" y="289.08" width="2.30" height="2.28" fill="#ec382b"/>
<rect x="563.00" y="289.08" width="2.30" height="2.28" fill="#f03d2d"/>
<rect x="565.00" y="289.08" width="2.30" height="2.28" fill="#f14331"/>
<rect x="567.00" y="289.08" width="2.30" height="2.28" fill="#f44f39"/>
<rect x="569.00" y="289.08" width="2.30" height="2.28" fill="#f75b40"/>
<rect x="571.00" y="289.08" width="2.30" height="2.28" fill="#fb6d4d"/>
<rect x="573.00" y="289.08" width="2.30" height="2.28" fill="#fb7c5c"/>
<rect x="575.00" y="289.08" width="2.30" height="2.28" fill="#fc9070"/>
<rect x="577.00" y="289.08" width="2.30" height="2.28" fill="#fca082"/>
<rect x="579.00" y="289.08" width="2.30" height="2.28" fill="#fcb499"/>
<rect x="581.00" y="289.08" width="2.30" height="2.28" fill="#fcc2aa"/>
<rect x="583.00" y="289.08" width="2.30" height="2.28" fill="#fdd1be"/>
<rect x="585.00" y="289.08" width="2.30" height="2.28" fill="#fdddce"/>
<rect x="587.00" y="289.08" width="2.30" height="2.28" fill="#fde7dc"/>
<rect x="589.00" y="289.08" width="2.30" height="2.28" fill="#fdede5"/>
<rect x="591.00" y="289.08" width="2.30" height="2.28" fill="#fdf2eb"/>
<rect x="593.00" y="289.08" width="2.30" height="2.28" fill="#fdf3ed"/>
<rect x="595.00" y="289.08" width="2.30" height="2.28" fill="#fdf4ef"/>
<rect x="597.00" y="289.08" width="2.30" height="2.28" fill="#fdf5f0"/>
<rect x="599.00" y="289.08" width="2.30" height="2.28" fill="#fdf6f1"/>
<rect x="601.00" y="289.08" width="36.30" height="2.28" fill="#fdf6f1"/>
<rect x="549.00" y="291.06" width="12.30" height="2.28" fill="#fc8161"/>
<rect x="561.00" y="291.06" width="4.30" height="2.28" fill="#fc8666"/>
<rect x="565.00" y="291.06" width="2.30" height="2.28" fill="#fc8b6b"/>
<rect x="567.00" y="291.06" width="2.30" height="2.28" fill="#fc9070"/>
<rect x="569.00" y="291.06" width="2.30" height="2.28" fill="#fc9576"/>
<rect x="571.00" y="291.06" width="2.30" height="2.28" fill="#fca082"/>
<rect x="573.00" y="291.06" width="2.30" height="2.28" fill="#fcaa8d"/>
<rect x="575.00" y="291.06" width="2.30" height="2.28" fill="#fcb499"/>
<rect x="577.00" y="291.06" width="2.30" height="2.28" fill="#fdcab4"/>
<rect x="579.00" y="291.06" width="2.30" height="2.28" fill="#fdd7c6"/>
<rect x="581.00" y="291.06" width="2.30" height="2.28" fill="#fde2d5"/>
<rect x="583.00" y="291.06" width="2.30" height="2.28" fill="#fdebe1"/>
<rect x="585.00" y="291.06" width="2.30" height="2.28" fill="#fdede5"/>
<rect x="587.00" y="291.06" width="2.30" height="2.28" fill="#fdf0e8"/>
<rect x="589.00" y="291.06" width="2.30" height="2.28" fill="#fdf2eb"/>
<rect x="591.00" y="291.06" width="2.30" height="2.28" fill="#fdf3ed"/>
<rect x="593.00" y="291.06" width="2.30" height="2.28" fill="#fdf4ef"/>
<rect x="595.00" y="291.06" width="2.30" height="2.28" fill="#fdf5f0"/>
<rect x="597.00" y="291.06" width="2.30" height="2.28" fill="#fdf6f1"/>
<rect x="599.00" y="291.06" width="38.30" height="2.28" fill="#fdf6f1"/>
<rect x="549.00" y="293.04" width="14.30" height="2.28" fill="#fcb99f"/>
<rect x="563.00" y="293.04" width="4.30" height="2.28" fill="#fcc2aa"/>
<rect x="567.00" y="293.04" width="4.30" height="2.28" fill="#fdcab4"/>
<rect x="571.00" y="293.04" width="2.30" height="2.28" fill="#fdd1be"/>
<rect x="573.00" y="293.04" width="2.30" height="2.28" fill="#fdddce"/>
<rect x="575.00" y="293.04" width="2.30" height="2.28" fill="#fde2d5"/>
<rect x="577.00" y="293.04" width="2.30" height="2.28" fill="#fde7dc"/>
<rect x="579.00" y="293.04" width="2.30" height="2.28" fill="#fdede5"/>
<rect x="581.00" y="293.04" width="2.30" height="2.28" fill="#fdf0e8"/>
<rect x="583.00" y="293.04" width="2.30" height="2.28" fill="#fdf2eb"/>
<rect x="585.00" y="293.04" width="2.30" height="2.28" fill="#fdf3ed"/>
<rect x="587.00" y="293.04" width="4.30" height="2.28" fill="#fdf4ef"/>
<rect x="591.00" y="293.04" width="2.30" height="2.28" fill="#fdf5f0"/>
<rect x="593.00" y="293.04" width="4.30" height="2.28" fill="#fdf6f1"/>
<rect x="597.00" y="293.04" width="40.30" height="2.28" fill="#fdf6f1"/>
<rect x="549.00" y="295.02" width="18.30" height="2.28" fill="#fdebe1"/>
<rect x="567.00" y="295.02" width="6.30" height="2.28" fill="#fdede5"/>
<rect x="573.00" y="295.02" width="2.30" height="2.28" fill="#fdf0e8"/>
<rect x="575.00" y="295.02" width="4.30" height="2.28" fill="#fdf2eb"/>
<rect x="579.00" y="295.02" width="2.30" height="2.28" fill="#fdf3ed"/>
<rect x="581.00" y="295.02" width="4.30" height="2.28" fill="#fdf4ef"/>
<rect x="585.00" y="295.02" width="4.30" height="2.28" fill="#fdf5f0"/>
<rect x="589.00" y="295.02" width="6.30" height="2.28" fill="#fdf6f1"/>
<rect x="595.00" y="295.02" width="42.30" height="2.28" fill="#fdf6f1"/>
</g>
<rect x="549.00" y="205.90" width="88.00" height="91.10" fill="none" stroke="#888" stroke-width="0.9"/>
<line x1="546.00" y1="297.00" x2="549.00" y2="297.00" stroke="#666" stroke-width="0.80"/>
<text x="527.84" y="299.50" font-size="8.20" fill="#262626" font-weight="normal" font-style="normal" textLength="17.56" lengthAdjust="spacingAndGlyphs">5500</text>
<line x1="546.00" y1="278.78" x2="549.00" y2="278.78" stroke="#666" stroke-width="0.80"/>
<text x="527.84" y="281.28" font-size="8.20" fill="#262626" font-weight="normal" font-style="normal" textLength="17.56" lengthAdjust="spacingAndGlyphs">6000</text>
<line x1="546.00" y1="260.56" x2="549.00" y2="260.56" stroke="#666" stroke-width="0.80"/>
<text x="527.84" y="263.06" font-size="8.20" fill="#262626" font-weight="normal" font-style="normal" textLength="17.56" lengthAdjust="spacingAndGlyphs">6500</text>
<line x1="546.00" y1="242.34" x2="549.00" y2="242.34" stroke="#666" stroke-width="0.80"/>
<text x="527.84" y="244.84" font-size="8.20" fill="#262626" font-weight="normal" font-style="normal" textLength="17.56" lengthAdjust="spacingAndGlyphs">7000</text>
<line x1="546.00" y1="224.12" x2="549.00" y2="224.12" stroke="#666" stroke-width="0.80"/>
<text x="527.84" y="226.62" font-size="8.20" fill="#262626" font-weight="normal" font-style="normal" textLength="17.56" lengthAdjust="spacingAndGlyphs">7500</text>
<line x1="546.00" y1="205.90" x2="549.00" y2="205.90" stroke="#666" stroke-width="0.80"/>
<text x="527.84" y="208.40" font-size="8.20" fill="#262626" font-weight="normal" font-style="normal" textLength="17.56" lengthAdjust="spacingAndGlyphs">8000</text>
<line x1="562.70" y1="297.00" x2="562.70" y2="300.00" stroke="#666" stroke-width="0.80"/>
<text x="553.92" y="305.60" font-size="8.20" fill="#262626" font-weight="normal" font-style="normal" textLength="17.56" lengthAdjust="spacingAndGlyphs">1000</text>
<line x1="587.60" y1="297.00" x2="587.60" y2="300.00" stroke="#666" stroke-width="0.80"/>
<text x="578.82" y="305.60" font-size="8.20" fill="#262626" font-weight="normal" font-style="normal" textLength="17.56" lengthAdjust="spacingAndGlyphs">1500</text>
<line x1="612.50" y1="297.00" x2="612.50" y2="300.00" stroke="#666" stroke-width="0.80"/>
<text x="603.72" y="305.60" font-size="8.20" fill="#262626" font-weight="normal" font-style="normal" textLength="17.56" lengthAdjust="spacingAndGlyphs">2000</text>
<line x1="637.40" y1="297.00" x2="637.40" y2="300.00" stroke="#666" stroke-width="0.80"/>
<text x="628.62" y="305.60" font-size="8.20" fill="#262626" font-weight="normal" font-style="normal" textLength="17.56" lengthAdjust="spacingAndGlyphs">2500</text>
<text x="550.04" y="317.00" font-size="9.03" fill="#262626" font-weight="normal" font-style="normal" textLength="85.92" lengthAdjust="spacingAndGlyphs">Lab frame energy (eV)</text>
<path d="M549.50,286.89 L550.00,286.88 L550.50,286.87 L551.00,286.86 L551.50,286.85 L552.00,286.84 L552.50,286.83 L553.00,286.82 L553.50,286.81 L554.00,286.79 L554.50,286.78 L555.00,286.76 L555.50,286.75 L556.00,286.73 L556.50,286.71 L557.00,286.69 L557.50,286.67 L558.00,286.65 L558.50,286.62 L559.00,286.60 L559.50,286.57 L560.00,286.54 L560.50,286.51 L561.00,286.47 L561.50,286.44 L562.00,286.40 L562.50,286.36 L563.00,286.32 L563.50,286.27 L564.00,286.22 L564.50,286.17 L565.00,286.11 L565.50,286.05 L566.00,285.98 L566.50,285.92 L567.00,285.84 L567.50,285.76 L568.00,285.68 L568.50,285.59 L569.00,285.50 L569.50,285.40 L570.00,285.29 L570.50,285.17 L571.00,285.05 L571.50,284.92 L572.00,284.78 L572.50,284.64 L573.00,284.48 L573.50,284.31 L574.00,284.14 L574.50,283.95 L575.00,283.75 L575.50,283.54 L576.00,283.31 L576.50,283.08 L577.00,282.82 L577.50,282.55 L578.00,282.27 L578.50,281.97 L579.00,281.65 L579.50,281.32 L580.00,280.96 L580.50,280.59 L581.00,280.19 L581.50,279.78 L582.00,279.34 L582.50,278.88 L583.00,278.40 L583.50,277.89 L584.00,277.36 L584.50,276.80 L585.00,276.21 L585.50,275.60 L586.00,274.97 L586.50,274.30 L587.00,273.61 L587.50,272.90 L588.00,272.15 L588.50,271.38 L589.00,270.58 L589.50,269.76 L590.00,268.91 L590.50,268.03 L591.00,267.13 L591.50,266.21 L592.00,265.27 L592.50,264.31 L593.00,263.32 L593.50,262.33 L594.00,261.31 L594.50,260.29 L595.00,259.25 L595.50,258.20 L596.00,257.15 L596.50,256.10 L597.00,255.04 L597.50,253.98 L598.00,252.93 L598.50,251.88 L599.00,250.83 L599.50,249.80 L600.00,248.78 L600.50,247.77 L601.00,246.78 L601.50,245.81 L602.00,244.85 L602.50,243.92 L603.00,243.01 L603.50,242.12 L604.00,241.25 L604.50,240.41 L605.00,239.60 L605.50,238.81 L606.00,238.05 L606.50,237.31 L607.00,236.61 L607.50,235.93 L608.00,235.27 L608.50,234.65 L609.00,234.05 L609.50,233.48 L610.00,232.93 L610.50,232.40 L611.00,231.91 L611.50,231.43 L612.00,230.98 L612.50,230.55 L613.00,230.14 L613.50,229.76 L614.00,229.39 L614.50,229.05 L615.00,228.72 L615.50,228.41 L616.00,228.11 L616.50,227.84 L617.00,227.57 L617.50,227.33 L618.00,227.09 L618.50,226.88 L619.00,226.67 L619.50,226.47 L620.00,226.29 L620.50,226.12 L621.00,225.96 L621.50,225.80 L622.00,225.66 L622.50,225.52 L623.00,225.40 L623.50,225.28 L624.00,225.17 L624.50,225.06 L625.00,224.96 L625.50,224.87 L626.00,224.78 L626.50,224.70 L627.00,224.63 L627.50,224.56 L628.00,224.49 L628.50,224.43 L629.00,224.37 L629.50,224.31 L630.00,224.26 L630.50,224.21 L631.00,224.17 L631.50,224.12 L632.00,224.08 L632.50,224.05 L633.00,224.01 L633.50,223.98 L634.00,223.95 L634.50,223.92 L635.00,223.89 L635.50,223.87 L636.00,223.84 L636.50,223.82" fill="none" stroke="#9a0a10" stroke-width="0.8"/>
<circle cx="573.10" cy="283.30" r="1.8" fill="#f29a8e"/>
<circle cx="583.30" cy="275.70" r="1.8" fill="#f29a8e"/>
<circle cx="592.50" cy="257.50" r="1.8" fill="#f29a8e"/>
<circle cx="602.70" cy="254.00" r="1.8" fill="#f29a8e"/>
<circle cx="613.40" cy="224.90" r="1.8" fill="#f29a8e"/>
<circle cx="632.80" cy="224.10" r="1.8" fill="#f29a8e"/>
<text x="551.97" y="216.40" font-size="10.32" fill="#c8505e" font-weight="bold" font-style="normal" textLength="20.51" lengthAdjust="spacingAndGlyphs" stroke="#c8505e" stroke-width="0.20">20+</text>
<text x="550.38" y="231.10" font-size="8.19" fill="#b4452a" font-weight="bold" font-style="normal" textLength="49.73" lengthAdjust="spacingAndGlyphs">1687±32 eV</text>
<defs><linearGradient id="cb_Reds" x1="0" y1="0" x2="0" y2="1"><stop offset="0.000" stop-color="#67000d"/><stop offset="0.062" stop-color="#840711"/><stop offset="0.125" stop-color="#a30f15"/><stop offset="0.188" stop-color="#b71319"/><stop offset="0.250" stop-color="#ca181d"/><stop offset="0.312" stop-color="#dc2924"/><stop offset="0.375" stop-color="#ee3a2c"/><stop offset="0.438" stop-color="#f5523a"/><stop offset="0.500" stop-color="#fb694a"/><stop offset="0.562" stop-color="#fb7d5d"/><stop offset="0.625" stop-color="#fc9272"/><stop offset="0.688" stop-color="#fca689"/><stop offset="0.750" stop-color="#fcbba1"/><stop offset="0.812" stop-color="#fdcdb9"/><stop offset="0.875" stop-color="#fee0d2"/><stop offset="0.938" stop-color="#feeae1"/><stop offset="1.000" stop-color="#fff5f0"/></linearGradient></defs>
<rect x="643.00" y="205.90" width="5.40" height="91.10" fill="url(#cb_Reds)" stroke="#666" stroke-width="0.8"/>
<text x="651.00" y="210.50" font-size="8.20" fill="#262626" font-weight="normal" font-style="normal" textLength="4.39" lengthAdjust="spacingAndGlyphs">1</text>
<text x="651.00" y="299.80" font-size="8.20" fill="#262626" font-weight="normal" font-style="normal" textLength="4.39" lengthAdjust="spacingAndGlyphs">0</text>
<g transform="translate(523.9,251.2) rotate(-90)">
<text x="-25.39" y="-3.20" font-size="6.65" fill="#262626" font-weight="normal" font-style="italic" textLength="8.96" lengthAdjust="spacingAndGlyphs">TW</text>
<text x="-16.43" y="0.00" font-size="9.50" fill="#262626" font-weight="normal" font-style="normal" textLength="16.25" lengthAdjust="spacingAndGlyphs">CCS</text>
<text x="-0.18" y="1.80" font-size="6.65" fill="#262626" font-weight="normal" font-style="italic" textLength="7.75" lengthAdjust="spacingAndGlyphs">N2</text>
<text x="10.11" y="0.00" font-size="9.50" fill="#262626" font-weight="normal" font-style="normal" textLength="8.59" lengthAdjust="spacingAndGlyphs">(Å</text>
<text x="18.71" y="-3.40" font-size="6.65" fill="#262626" font-weight="normal" font-style="normal" textLength="3.56" lengthAdjust="spacingAndGlyphs">2</text>
<text x="22.27" y="0.00" font-size="9.50" fill="#262626" font-weight="normal" font-style="normal" textLength="3.12" lengthAdjust="spacingAndGlyphs">)</text>
</g>
<text x="184.51" y="341.40" font-size="12.28" fill="#111" font-weight="normal" font-style="normal" textLength="10.93" lengthAdjust="spacingAndGlyphs">D</text>
<line x1="186.00" y1="355.20" x2="325.00" y2="355.20" stroke="#ececec" stroke-width="0.70"/>
<line x1="186.00" y1="367.10" x2="325.00" y2="367.10" stroke="#ececec" stroke-width="0.70"/>
<line x1="186.00" y1="378.80" x2="325.00" y2="378.80" stroke="#ececec" stroke-width="0.70"/>
<line x1="186.00" y1="390.60" x2="325.00" y2="390.60" stroke="#ececec" stroke-width="0.70"/>
<line x1="186.00" y1="402.50" x2="325.00" y2="402.50" stroke="#ececec" stroke-width="0.70"/>
<line x1="186.00" y1="414.40" x2="325.00" y2="414.40" stroke="#ececec" stroke-width="0.70"/>
<path d="M207.50,354.90 L207.50,354.62 L208.00,354.59 L208.50,354.55 L209.00,354.50 L209.50,354.45 L210.00,354.39 L210.50,354.32 L211.00,354.25 L211.50,354.17 L212.00,354.08 L212.50,353.99 L213.00,353.89 L213.50,353.80 L214.00,353.70 L214.50,353.60 L215.00,353.50 L215.50,353.41 L216.00,353.33 L216.50,353.25 L217.00,353.18 L217.50,353.13 L218.00,353.09 L218.50,353.07 L219.00,353.06 L219.50,353.06 L220.00,353.08 L220.50,353.11 L221.00,353.16 L221.50,353.21 L222.00,353.28 L222.50,353.35 L223.00,353.43 L223.50,353.51 L224.00,353.59 L224.50,353.67 L225.00,353.75 L225.50,353.83 L226.00,353.90 L226.50,353.96 L227.00,354.02 L227.50,354.08 L228.00,354.12 L228.50,354.16 L229.00,354.20 L229.50,354.23 L230.00,354.25 L230.50,354.27 L231.00,354.28 L231.50,354.29 L232.00,354.30 L232.50,354.31 L233.00,354.31 L233.50,354.31 L234.00,354.31 L234.50,354.31 L235.00,354.31 L235.50,354.31 L236.00,354.31 L236.50,354.31 L237.00,354.30 L237.50,354.30 L238.00,354.30 L238.50,354.30 L239.00,354.30 L239.50,354.30 L240.00,354.30 L240.50,354.30 L241.00,354.30 L241.50,354.30 L242.00,354.30 L242.50,354.30 L243.00,354.31 L243.50,354.31 L244.00,354.31 L244.50,354.31 L245.00,354.32 L245.50,354.32 L246.00,354.33 L246.50,354.33 L247.00,354.34 L247.50,354.34 L248.00,354.35 L248.50,354.35 L249.00,354.36 L249.50,354.36 L250.00,354.37 L250.50,354.38 L251.00,354.38 L251.50,354.39 L252.00,354.40 L252.50,354.41 L253.00,354.41 L253.50,354.42 L254.00,354.43 L254.50,354.44 L255.00,354.45 L255.50,354.45 L256.00,354.46 L256.50,354.47 L257.00,354.48 L257.50,354.49 L258.00,354.49 L258.50,354.50 L259.00,354.51 L259.50,354.52 L260.00,354.52 L260.50,354.53 L261.00,354.53 L261.50,354.54 L262.00,354.54 L262.50,354.54 L263.00,354.54 L263.50,354.54 L264.00,354.53 L264.50,354.52 L265.00,354.51 L265.50,354.50 L266.00,354.48 L266.50,354.46 L267.00,354.43 L267.50,354.40 L268.00,354.36 L268.50,354.31 L269.00,354.26 L269.50,354.20 L270.00,354.14 L270.50,354.06 L271.00,353.98 L271.50,353.88 L272.00,353.78 L272.50,353.67 L273.00,353.54 L273.50,353.41 L274.00,353.26 L274.50,353.11 L275.00,352.94 L275.50,352.77 L276.00,352.58 L276.50,352.38 L277.00,352.17 L277.50,351.95 L278.00,351.72 L278.50,351.48 L279.00,351.23 L279.50,350.96 L280.00,350.68 L280.50,350.39 L281.00,350.09 L281.50,349.77 L282.00,349.43 L282.50,349.08 L283.00,348.71 L283.50,348.32 L284.00,347.90 L284.50,347.47 L285.00,347.01 L285.50,346.53 L286.00,346.02 L286.50,345.49 L287.00,344.94 L287.50,344.36 L288.00,343.75 L288.50,343.13 L289.00,342.48 L289.50,341.82 L290.00,341.15 L290.50,340.47 L291.00,339.79 L291.50,339.10 L292.00,338.43 L292.50,337.76 L293.00,337.12 L293.50,336.50 L294.00,335.92 L294.50,335.38 L295.00,334.88 L295.50,334.43 L296.00,334.04 L296.50,333.72 L297.00,333.46 L297.50,333.28 L298.00,333.17 L298.50,333.14 L299.00,333.19 L299.50,333.31 L300.00,333.52 L300.50,333.80 L301.00,334.15 L301.50,334.58 L302.00,335.07 L302.50,335.63 L303.00,336.24 L303.50,336.90 L304.00,337.60 L304.50,338.34 L305.00,339.11 L305.50,339.90 L306.00,340.71 L306.50,341.52 L307.00,342.34 L307.50,343.15 L308.00,343.95 L308.50,344.74 L309.00,345.51 L309.50,346.25 L310.00,346.97 L310.50,347.65 L311.00,348.30 L311.50,348.92 L312.00,349.50 L312.50,350.04 L313.00,350.55 L313.50,351.02 L314.00,351.45 L314.50,351.84 L315.00,352.20 L315.50,352.53 L316.00,352.82 L316.50,353.09 L317.00,353.33 L317.50,353.54 L318.00,353.73 L318.50,353.89 L319.00,354.04 L319.50,354.17 L320.00,354.28 L320.50,354.38 L321.00,354.46 L321.50,354.53 L322.00,354.59 L322.50,354.64 L322.50,354.90 Z" fill="#7c2a0c"/>
<path d="M207.50,354.62 L208.00,354.59 L208.50,354.55 L209.00,354.50 L209.50,354.45 L210.00,354.39 L210.50,354.32 L211.00,354.25 L211.50,354.17 L212.00,354.08 L212.50,353.99 L213.00,353.89 L213.50,353.80 L214.00,353.70 L214.50,353.60 L215.00,353.50 L215.50,353.41 L216.00,353.33 L216.50,353.25 L217.00,353.18 L217.50,353.13 L218.00,353.09 L218.50,353.07 L219.00,353.06 L219.50,353.06 L220.00,353.08 L220.50,353.11 L221.00,353.16 L221.50,353.21 L222.00,353.28 L222.50,353.35 L223.00,353.43 L223.50,353.51 L224.00,353.59 L224.50,353.67 L225.00,353.75 L225.50,353.83 L226.00,353.90 L226.50,353.96 L227.00,354.02 L227.50,354.08 L228.00,354.12 L228.50,354.16 L229.00,354.20 L229.50,354.23 L230.00,354.25 L230.50,354.27 L231.00,354.28 L231.50,354.29 L232.00,354.30 L232.50,354.31 L233.00,354.31 L233.50,354.31 L234.00,354.31 L234.50,354.31 L235.00,354.31 L235.50,354.31 L236.00,354.31 L236.50,354.31 L237.00,354.30 L237.50,354.30 L238.00,354.30 L238.50,354.30 L239.00,354.30 L239.50,354.30 L240.00,354.30 L240.50,354.30 L241.00,354.30 L241.50,354.30 L242.00,354.30 L242.50,354.30 L243.00,354.31 L243.50,354.31 L244.00,354.31 L244.50,354.31 L245.00,354.32 L245.50,354.32 L246.00,354.33 L246.50,354.33 L247.00,354.34 L247.50,354.34 L248.00,354.35 L248.50,354.35 L249.00,354.36 L249.50,354.36 L250.00,354.37 L250.50,354.38 L251.00,354.38 L251.50,354.39 L252.00,354.40 L252.50,354.41 L253.00,354.41 L253.50,354.42 L254.00,354.43 L254.50,354.44 L255.00,354.45 L255.50,354.45 L256.00,354.46 L256.50,354.47 L257.00,354.48 L257.50,354.49 L258.00,354.49 L258.50,354.50 L259.00,354.51 L259.50,354.52 L260.00,354.52 L260.50,354.53 L261.00,354.53 L261.50,354.54 L262.00,354.54 L262.50,354.54 L263.00,354.54 L263.50,354.54 L264.00,354.53 L264.50,354.52 L265.00,354.51 L265.50,354.50 L266.00,354.48 L266.50,354.46 L267.00,354.43 L267.50,354.40 L268.00,354.36 L268.50,354.31 L269.00,354.26 L269.50,354.20 L270.00,354.14 L270.50,354.06 L271.00,353.98 L271.50,353.88 L272.00,353.78 L272.50,353.67 L273.00,353.54 L273.50,353.41 L274.00,353.26 L274.50,353.11 L275.00,352.94 L275.50,352.77 L276.00,352.58 L276.50,352.38 L277.00,352.17 L277.50,351.95 L278.00,351.72 L278.50,351.48 L279.00,351.23 L279.50,350.96 L280.00,350.68 L280.50,350.39 L281.00,350.09 L281.50,349.77 L282.00,349.43 L282.50,349.08 L283.00,348.71 L283.50,348.32 L284.00,347.90 L284.50,347.47 L285.00,347.01 L285.50,346.53 L286.00,346.02 L286.50,345.49 L287.00,344.94 L287.50,344.36 L288.00,343.75 L288.50,343.13 L289.00,342.48 L289.50,341.82 L290.00,341.15 L290.50,340.47 L291.00,339.79 L291.50,339.10 L292.00,338.43 L292.50,337.76 L293.00,337.12 L293.50,336.50 L294.00,335.92 L294.50,335.38 L295.00,334.88 L295.50,334.43 L296.00,334.04 L296.50,333.72 L297.00,333.46 L297.50,333.28 L298.00,333.17 L298.50,333.14 L299.00,333.19 L299.50,333.31 L300.00,333.52 L300.50,333.80 L301.00,334.15 L301.50,334.58 L302.00,335.07 L302.50,335.63 L303.00,336.24 L303.50,336.90 L304.00,337.60 L304.50,338.34 L305.00,339.11 L305.50,339.90 L306.00,340.71 L306.50,341.52 L307.00,342.34 L307.50,343.15 L308.00,343.95 L308.50,344.74 L309.00,345.51 L309.50,346.25 L310.00,346.97 L310.50,347.65 L311.00,348.30 L311.50,348.92 L312.00,349.50 L312.50,350.04 L313.00,350.55 L313.50,351.02 L314.00,351.45 L314.50,351.84 L315.00,352.20 L315.50,352.53 L316.00,352.82 L316.50,353.09 L317.00,353.33 L317.50,353.54 L318.00,353.73 L318.50,353.89 L319.00,354.04 L319.50,354.17 L320.00,354.28 L320.50,354.38 L321.00,354.46 L321.50,354.53 L322.00,354.59 L322.50,354.64" fill="none" stroke="#fff" stroke-width="0.8" stroke-linejoin="round"/>
<path d="M198.00,366.80 L198.00,366.55 L198.50,366.50 L199.00,366.44 L199.50,366.38 L200.00,366.30 L200.50,366.21 L201.00,366.11 L201.50,366.00 L202.00,365.87 L202.50,365.73 L203.00,365.57 L203.50,365.39 L204.00,365.19 L204.50,364.97 L205.00,364.73 L205.50,364.46 L206.00,364.18 L206.50,363.87 L207.00,363.54 L207.50,363.19 L208.00,362.81 L208.50,362.42 L209.00,362.01 L209.50,361.58 L210.00,361.14 L210.50,360.69 L211.00,360.23 L211.50,359.76 L212.00,359.29 L212.50,358.83 L213.00,358.37 L213.50,357.93 L214.00,357.49 L214.50,357.08 L215.00,356.69 L215.50,356.33 L216.00,356.00 L216.50,355.70 L217.00,355.44 L217.50,355.22 L218.00,355.05 L218.50,354.91 L219.00,354.82 L219.50,354.77 L220.00,354.77 L220.50,354.80 L221.00,354.88 L221.50,355.00 L222.00,355.15 L222.50,355.34 L223.00,355.56 L223.50,355.80 L224.00,356.07 L224.50,356.35 L225.00,356.65 L225.50,356.96 L226.00,357.28 L226.50,357.60 L227.00,357.92 L227.50,358.23 L228.00,358.54 L228.50,358.85 L229.00,359.14 L229.50,359.42 L230.00,359.68 L230.50,359.93 L231.00,360.16 L231.50,360.38 L232.00,360.58 L232.50,360.77 L233.00,360.94 L233.50,361.10 L234.00,361.24 L234.50,361.37 L235.00,361.48 L235.50,361.59 L236.00,361.69 L236.50,361.77 L237.00,361.86 L237.50,361.93 L238.00,362.00 L238.50,362.06 L239.00,362.13 L239.50,362.18 L240.00,362.24 L240.50,362.30 L241.00,362.35 L241.50,362.41 L242.00,362.46 L242.50,362.52 L243.00,362.57 L243.50,362.63 L244.00,362.68 L244.50,362.74 L245.00,362.80 L245.50,362.86 L246.00,362.92 L246.50,362.98 L247.00,363.04 L247.50,363.10 L248.00,363.16 L248.50,363.21 L249.00,363.27 L249.50,363.33 L250.00,363.39 L250.50,363.44 L251.00,363.50 L251.50,363.55 L252.00,363.60 L252.50,363.65 L253.00,363.70 L253.50,363.75 L254.00,363.80 L254.50,363.84 L255.00,363.88 L255.50,363.92 L256.00,363.96 L256.50,363.99 L257.00,364.02 L257.50,364.04 L258.00,364.06 L258.50,364.08 L259.00,364.09 L259.50,364.09 L260.00,364.08 L260.50,364.06 L261.00,364.03 L261.50,363.98 L262.00,363.93 L262.50,363.85 L263.00,363.76 L263.50,363.64 L264.00,363.50 L264.50,363.35 L265.00,363.16 L265.50,362.96 L266.00,362.73 L266.50,362.48 L267.00,362.21 L267.50,361.92 L268.00,361.61 L268.50,361.30 L269.00,360.98 L269.50,360.66 L270.00,360.34 L270.50,360.04 L271.00,359.75 L271.50,359.49 L272.00,359.26 L272.50,359.07 L273.00,358.91 L273.50,358.80 L274.00,358.74 L274.50,358.72 L275.00,358.75 L275.50,358.82 L276.00,358.94 L276.50,359.10 L277.00,359.28 L277.50,359.50 L278.00,359.73 L278.50,359.97 L279.00,360.21 L279.50,360.45 L280.00,360.67 L280.50,360.87 L281.00,361.04 L281.50,361.17 L282.00,361.25 L282.50,361.29 L283.00,361.28 L283.50,361.21 L284.00,361.08 L284.50,360.89 L285.00,360.64 L285.50,360.33 L286.00,359.96 L286.50,359.53 L287.00,359.05 L287.50,358.52 L288.00,357.93 L288.50,357.31 L289.00,356.64 L289.50,355.93 L290.00,355.20 L290.50,354.44 L291.00,353.67 L291.50,352.88 L292.00,352.09 L292.50,351.30 L293.00,350.52 L293.50,349.76 L294.00,349.02 L294.50,348.31 L295.00,347.63 L295.50,347.01 L296.00,346.43 L296.50,345.91 L297.00,345.46 L297.50,345.07 L298.00,344.75 L298.50,344.51 L299.00,344.34 L299.50,344.26 L300.00,344.26 L300.50,344.33 L301.00,344.49 L301.50,344.73 L302.00,345.04 L302.50,345.43 L303.00,345.88 L303.50,346.40 L304.00,346.98 L304.50,347.61 L305.00,348.29 L305.50,349.01 L306.00,349.76 L306.50,350.54 L307.00,351.34 L307.50,352.16 L308.00,352.98 L308.50,353.80 L309.00,354.62 L309.50,355.43 L310.00,356.22 L310.50,356.99 L311.00,357.74 L311.50,358.47 L312.00,359.16 L312.50,359.82 L313.00,360.44 L313.50,361.04 L314.00,361.59 L314.50,362.11 L315.00,362.59 L315.50,363.04 L316.00,363.45 L316.50,363.83 L317.00,364.17 L317.50,364.48 L318.00,364.77 L318.50,365.02 L319.00,365.25 L319.50,365.45 L320.00,365.64 L320.50,365.80 L321.00,365.94 L321.50,366.06 L322.00,366.17 L322.50,366.27 L323.00,366.35 L323.50,366.42 L324.00,366.48 L324.50,366.53 L324.50,366.80 Z" fill="#b6440f"/>
<path d="M198.00,366.55 L198.50,366.50 L199.00,366.44 L199.50,366.38 L200.00,366.30 L200.50,366.21 L201.00,366.11 L201.50,366.00 L202.00,365.87 L202.50,365.73 L203.00,365.57 L203.50,365.39 L204.00,365.19 L204.50,364.97 L205.00,364.73 L205.50,364.46 L206.00,364.18 L206.50,363.87 L207.00,363.54 L207.50,363.19 L208.00,362.81 L208.50,362.42 L209.00,362.01 L209.50,361.58 L210.00,361.14 L210.50,360.69 L211.00,360.23 L211.50,359.76 L212.00,359.29 L212.50,358.83 L213.00,358.37 L213.50,357.93 L214.00,357.49 L214.50,357.08 L215.00,356.69 L215.50,356.33 L216.00,356.00 L216.50,355.70 L217.00,355.44 L217.50,355.22 L218.00,355.05 L218.50,354.91 L219.00,354.82 L219.50,354.77 L220.00,354.77 L220.50,354.80 L221.00,354.88 L221.50,355.00 L222.00,355.15 L222.50,355.34 L223.00,355.56 L223.50,355.80 L224.00,356.07 L224.50,356.35 L225.00,356.65 L225.50,356.96 L226.00,357.28 L226.50,357.60 L227.00,357.92 L227.50,358.23 L228.00,358.54 L228.50,358.85 L229.00,359.14 L229.50,359.42 L230.00,359.68 L230.50,359.93 L231.00,360.16 L231.50,360.38 L232.00,360.58 L232.50,360.77 L233.00,360.94 L233.50,361.10 L234.00,361.24 L234.50,361.37 L235.00,361.48 L235.50,361.59 L236.00,361.69 L236.50,361.77 L237.00,361.86 L237.50,361.93 L238.00,362.00 L238.50,362.06 L239.00,362.13 L239.50,362.18 L240.00,362.24 L240.50,362.30 L241.00,362.35 L241.50,362.41 L242.00,362.46 L242.50,362.52 L243.00,362.57 L243.50,362.63 L244.00,362.68 L244.50,362.74 L245.00,362.80 L245.50,362.86 L246.00,362.92 L246.50,362.98 L247.00,363.04 L247.50,363.10 L248.00,363.16 L248.50,363.21 L249.00,363.27 L249.50,363.33 L250.00,363.39 L250.50,363.44 L251.00,363.50 L251.50,363.55 L252.00,363.60 L252.50,363.65 L253.00,363.70 L253.50,363.75 L254.00,363.80 L254.50,363.84 L255.00,363.88 L255.50,363.92 L256.00,363.96 L256.50,363.99 L257.00,364.02 L257.50,364.04 L258.00,364.06 L258.50,364.08 L259.00,364.09 L259.50,364.09 L260.00,364.08 L260.50,364.06 L261.00,364.03 L261.50,363.98 L262.00,363.93 L262.50,363.85 L263.00,363.76 L263.50,363.64 L264.00,363.50 L264.50,363.35 L265.00,363.16 L265.50,362.96 L266.00,362.73 L266.50,362.48 L267.00,362.21 L267.50,361.92 L268.00,361.61 L268.50,361.30 L269.00,360.98 L269.50,360.66 L270.00,360.34 L270.50,360.04 L271.00,359.75 L271.50,359.49 L272.00,359.26 L272.50,359.07 L273.00,358.91 L273.50,358.80 L274.00,358.74 L274.50,358.72 L275.00,358.75 L275.50,358.82 L276.00,358.94 L276.50,359.10 L277.00,359.28 L277.50,359.50 L278.00,359.73 L278.50,359.97 L279.00,360.21 L279.50,360.45 L280.00,360.67 L280.50,360.87 L281.00,361.04 L281.50,361.17 L282.00,361.25 L282.50,361.29 L283.00,361.28 L283.50,361.21 L284.00,361.08 L284.50,360.89 L285.00,360.64 L285.50,360.33 L286.00,359.96 L286.50,359.53 L287.00,359.05 L287.50,358.52 L288.00,357.93 L288.50,357.31 L289.00,356.64 L289.50,355.93 L290.00,355.20 L290.50,354.44 L291.00,353.67 L291.50,352.88 L292.00,352.09 L292.50,351.30 L293.00,350.52 L293.50,349.76 L294.00,349.02 L294.50,348.31 L295.00,347.63 L295.50,347.01 L296.00,346.43 L296.50,345.91 L297.00,345.46 L297.50,345.07 L298.00,344.75 L298.50,344.51 L299.00,344.34 L299.50,344.26 L300.00,344.26 L300.50,344.33 L301.00,344.49 L301.50,344.73 L302.00,345.04 L302.50,345.43 L303.00,345.88 L303.50,346.40 L304.00,346.98 L304.50,347.61 L305.00,348.29 L305.50,349.01 L306.00,349.76 L306.50,350.54 L307.00,351.34 L307.50,352.16 L308.00,352.98 L308.50,353.80 L309.00,354.62 L309.50,355.43 L310.00,356.22 L310.50,356.99 L311.00,357.74 L311.50,358.47 L312.00,359.16 L312.50,359.82 L313.00,360.44 L313.50,361.04 L314.00,361.59 L314.50,362.11 L315.00,362.59 L315.50,363.04 L316.00,363.45 L316.50,363.83 L317.00,364.17 L317.50,364.48 L318.00,364.77 L318.50,365.02 L319.00,365.25 L319.50,365.45 L320.00,365.64 L320.50,365.80 L321.00,365.94 L321.50,366.06 L322.00,366.17 L322.50,366.27 L323.00,366.35 L323.50,366.42 L324.00,366.48 L324.50,366.53" fill="none" stroke="#fff" stroke-width="0.8" stroke-linejoin="round"/>
<path d="M196.50,378.50 L196.50,378.19 L197.00,378.12 L197.50,378.04 L198.00,377.94 L198.50,377.83 L199.00,377.69 L199.50,377.53 L200.00,377.35 L200.50,377.14 L201.00,376.89 L201.50,376.62 L202.00,376.30 L202.50,375.95 L203.00,375.55 L203.50,375.11 L204.00,374.62 L204.50,374.08 L205.00,373.49 L205.50,372.85 L206.00,372.16 L206.50,371.42 L207.00,370.63 L207.50,369.80 L208.00,368.93 L208.50,368.02 L209.00,367.09 L209.50,366.13 L210.00,365.15 L210.50,364.17 L211.00,363.19 L211.50,362.22 L212.00,361.28 L212.50,360.37 L213.00,359.49 L213.50,358.67 L214.00,357.92 L214.50,357.23 L215.00,356.62 L215.50,356.09 L216.00,355.66 L216.50,355.32 L217.00,355.08 L217.50,354.93 L218.00,354.89 L218.50,354.94 L219.00,355.08 L219.50,355.32 L220.00,355.64 L220.50,356.03 L221.00,356.49 L221.50,357.02 L222.00,357.59 L222.50,358.21 L223.00,358.86 L223.50,359.54 L224.00,360.23 L224.50,360.93 L225.00,361.63 L225.50,362.32 L226.00,362.99 L226.50,363.65 L227.00,364.29 L227.50,364.90 L228.00,365.47 L228.50,366.02 L229.00,366.54 L229.50,367.02 L230.00,367.47 L230.50,367.89 L231.00,368.28 L231.50,368.65 L232.00,368.98 L232.50,369.30 L233.00,369.59 L233.50,369.86 L234.00,370.11 L234.50,370.35 L235.00,370.58 L235.50,370.79 L236.00,370.99 L236.50,371.19 L237.00,371.38 L237.50,371.56 L238.00,371.73 L238.50,371.90 L239.00,372.07 L239.50,372.23 L240.00,372.39 L240.50,372.54 L241.00,372.69 L241.50,372.84 L242.00,372.98 L242.50,373.11 L243.00,373.25 L243.50,373.38 L244.00,373.50 L244.50,373.62 L245.00,373.74 L245.50,373.85 L246.00,373.95 L246.50,374.05 L247.00,374.15 L247.50,374.24 L248.00,374.33 L248.50,374.42 L249.00,374.50 L249.50,374.57 L250.00,374.65 L250.50,374.72 L251.00,374.78 L251.50,374.85 L252.00,374.91 L252.50,374.97 L253.00,375.02 L253.50,375.07 L254.00,375.12 L254.50,375.16 L255.00,375.20 L255.50,375.23 L256.00,375.25 L256.50,375.26 L257.00,375.26 L257.50,375.25 L258.00,375.23 L258.50,375.18 L259.00,375.11 L259.50,375.01 L260.00,374.89 L260.50,374.73 L261.00,374.53 L261.50,374.29 L262.00,374.00 L262.50,373.67 L263.00,373.27 L263.50,372.83 L264.00,372.32 L264.50,371.76 L265.00,371.14 L265.50,370.46 L266.00,369.74 L266.50,368.97 L267.00,368.16 L267.50,367.32 L268.00,366.47 L268.50,365.61 L269.00,364.76 L269.50,363.93 L270.00,363.14 L270.50,362.39 L271.00,361.72 L271.50,361.12 L272.00,360.61 L272.50,360.20 L273.00,359.90 L273.50,359.72 L274.00,359.64 L274.50,359.69 L275.00,359.84 L275.50,360.10 L276.00,360.45 L276.50,360.89 L277.00,361.40 L277.50,361.97 L278.00,362.58 L278.50,363.22 L279.00,363.87 L279.50,364.51 L280.00,365.14 L280.50,365.73 L281.00,366.28 L281.50,366.78 L282.00,367.22 L282.50,367.59 L283.00,367.89 L283.50,368.12 L284.00,368.28 L284.50,368.36 L285.00,368.38 L285.50,368.34 L286.00,368.23 L286.50,368.07 L287.00,367.86 L287.50,367.60 L288.00,367.30 L288.50,366.96 L289.00,366.60 L289.50,366.20 L290.00,365.79 L290.50,365.35 L291.00,364.91 L291.50,364.45 L292.00,363.99 L292.50,363.52 L293.00,363.06 L293.50,362.61 L294.00,362.17 L294.50,361.75 L295.00,361.35 L295.50,360.98 L296.00,360.64 L296.50,360.34 L297.00,360.08 L297.50,359.86 L298.00,359.70 L298.50,359.59 L299.00,359.54 L299.50,359.55 L300.00,359.61 L300.50,359.74 L301.00,359.94 L301.50,360.19 L302.00,360.51 L302.50,360.88 L303.00,361.30 L303.50,361.78 L304.00,362.31 L304.50,362.87 L305.00,363.48 L305.50,364.11 L306.00,364.77 L306.50,365.45 L307.00,366.14 L307.50,366.85 L308.00,367.55 L308.50,368.25 L309.00,368.94 L309.50,369.63 L310.00,370.29 L310.50,370.93 L311.00,371.55 L311.50,372.15 L312.00,372.72 L312.50,373.25 L313.00,373.76 L313.50,374.23 L314.00,374.67 L314.50,375.08 L315.00,375.46 L315.50,375.80 L316.00,376.12 L316.50,376.41 L317.00,376.67 L317.50,376.90 L318.00,377.11 L318.50,377.30 L319.00,377.46 L319.50,377.61 L320.00,377.74 L320.50,377.85 L321.00,377.95 L321.50,378.03 L322.00,378.11 L322.50,378.17 L323.00,378.22 L323.00,378.50 Z" fill="#e35f1e"/>
<path d="M196.50,378.19 L197.00,378.12 L197.50,378.04 L198.00,377.94 L198.50,377.83 L199.00,377.69 L199.50,377.53 L200.00,377.35 L200.50,377.14 L201.00,376.89 L201.50,376.62 L202.00,376.30 L202.50,375.95 L203.00,375.55 L203.50,375.11 L204.00,374.62 L204.50,374.08 L205.00,373.49 L205.50,372.85 L206.00,372.16 L206.50,371.42 L207.00,370.63 L207.50,369.80 L208.00,368.93 L208.50,368.02 L209.00,367.09 L209.50,366.13 L210.00,365.15 L210.50,364.17 L211.00,363.19 L211.50,362.22 L212.00,361.28 L212.50,360.37 L213.00,359.49 L213.50,358.67 L214.00,357.92 L214.50,357.23 L215.00,356.62 L215.50,356.09 L216.00,355.66 L216.50,355.32 L217.00,355.08 L217.50,354.93 L218.00,354.89 L218.50,354.94 L219.00,355.08 L219.50,355.32 L220.00,355.64 L220.50,356.03 L221.00,356.49 L221.50,357.02 L222.00,357.59 L222.50,358.21 L223.00,358.86 L223.50,359.54 L224.00,360.23 L224.50,360.93 L225.00,361.63 L225.50,362.32 L226.00,362.99 L226.50,363.65 L227.00,364.29 L227.50,364.90 L228.00,365.47 L228.50,366.02 L229.00,366.54 L229.50,367.02 L230.00,367.47 L230.50,367.89 L231.00,368.28 L231.50,368.65 L232.00,368.98 L232.50,369.30 L233.00,369.59 L233.50,369.86 L234.00,370.11 L234.50,370.35 L235.00,370.58 L235.50,370.79 L236.00,370.99 L236.50,371.19 L237.00,371.38 L237.50,371.56 L238.00,371.73 L238.50,371.90 L239.00,372.07 L239.50,372.23 L240.00,372.39 L240.50,372.54 L241.00,372.69 L241.50,372.84 L242.00,372.98 L242.50,373.11 L243.00,373.25 L243.50,373.38 L244.00,373.50 L244.50,373.62 L245.00,373.74 L245.50,373.85 L246.00,373.95 L246.50,374.05 L247.00,374.15 L247.50,374.24 L248.00,374.33 L248.50,374.42 L249.00,374.50 L249.50,374.57 L250.00,374.65 L250.50,374.72 L251.00,374.78 L251.50,374.85 L252.00,374.91 L252.50,374.97 L253.00,375.02 L253.50,375.07 L254.00,375.12 L254.50,375.16 L255.00,375.20 L255.50,375.23 L256.00,375.25 L256.50,375.26 L257.00,375.26 L257.50,375.25 L258.00,375.23 L258.50,375.18 L259.00,375.11 L259.50,375.01 L260.00,374.89 L260.50,374.73 L261.00,374.53 L261.50,374.29 L262.00,374.00 L262.50,373.67 L263.00,373.27 L263.50,372.83 L264.00,372.32 L264.50,371.76 L265.00,371.14 L265.50,370.46 L266.00,369.74 L266.50,368.97 L267.00,368.16 L267.50,367.32 L268.00,366.47 L268.50,365.61 L269.00,364.76 L269.50,363.93 L270.00,363.14 L270.50,362.39 L271.00,361.72 L271.50,361.12 L272.00,360.61 L272.50,360.20 L273.00,359.90 L273.50,359.72 L274.00,359.64 L274.50,359.69 L275.00,359.84 L275.50,360.10 L276.00,360.45 L276.50,360.89 L277.00,361.40 L277.50,361.97 L278.00,362.58 L278.50,363.22 L279.00,363.87 L279.50,364.51 L280.00,365.14 L280.50,365.73 L281.00,366.28 L281.50,366.78 L282.00,367.22 L282.50,367.59 L283.00,367.89 L283.50,368.12 L284.00,368.28 L284.50,368.36 L285.00,368.38 L285.50,368.34 L286.00,368.23 L286.50,368.07 L287.00,367.86 L287.50,367.60 L288.00,367.30 L288.50,366.96 L289.00,366.60 L289.50,366.20 L290.00,365.79 L290.50,365.35 L291.00,364.91 L291.50,364.45 L292.00,363.99 L292.50,363.52 L293.00,363.06 L293.50,362.61 L294.00,362.17 L294.50,361.75 L295.00,361.35 L295.50,360.98 L296.00,360.64 L296.50,360.34 L297.00,360.08 L297.50,359.86 L298.00,359.70 L298.50,359.59 L299.00,359.54 L299.50,359.55 L300.00,359.61 L300.50,359.74 L301.00,359.94 L301.50,360.19 L302.00,360.51 L302.50,360.88 L303.00,361.30 L303.50,361.78 L304.00,362.31 L304.50,362.87 L305.00,363.48 L305.50,364.11 L306.00,364.77 L306.50,365.45 L307.00,366.14 L307.50,366.85 L308.00,367.55 L308.50,368.25 L309.00,368.94 L309.50,369.63 L310.00,370.29 L310.50,370.93 L311.00,371.55 L311.50,372.15 L312.00,372.72 L312.50,373.25 L313.00,373.76 L313.50,374.23 L314.00,374.67 L314.50,375.08 L315.00,375.46 L315.50,375.80 L316.00,376.12 L316.50,376.41 L317.00,376.67 L317.50,376.90 L318.00,377.11 L318.50,377.30 L319.00,377.46 L319.50,377.61 L320.00,377.74 L320.50,377.85 L321.00,377.95 L321.50,378.03 L322.00,378.11 L322.50,378.17 L323.00,378.22" fill="none" stroke="#fff" stroke-width="0.8" stroke-linejoin="round"/>
<path d="M196.50,390.30 L196.50,390.02 L197.00,389.94 L197.50,389.84 L198.00,389.72 L198.50,389.57 L199.00,389.40 L199.50,389.18 L200.00,388.93 L200.50,388.63 L201.00,388.28 L201.50,387.88 L202.00,387.41 L202.50,386.89 L203.00,386.29 L203.50,385.63 L204.00,384.90 L204.50,384.09 L205.00,383.22 L205.50,382.29 L206.00,381.30 L206.50,380.26 L207.00,379.17 L207.50,378.06 L208.00,376.94 L208.50,375.81 L209.00,374.70 L209.50,373.63 L210.00,372.60 L210.50,371.64 L211.00,370.76 L211.50,369.98 L212.00,369.31 L212.50,368.76 L213.00,368.34 L213.50,368.06 L214.00,367.91 L214.50,367.89 L215.00,368.00 L215.50,368.24 L216.00,368.59 L216.50,369.04 L217.00,369.58 L217.50,370.20 L218.00,370.87 L218.50,371.59 L219.00,372.33 L219.50,373.09 L220.00,373.85 L220.50,374.60 L221.00,375.33 L221.50,376.02 L222.00,376.69 L222.50,377.31 L223.00,377.89 L223.50,378.43 L224.00,378.92 L224.50,379.38 L225.00,379.80 L225.50,380.18 L226.00,380.54 L226.50,380.87 L227.00,381.18 L227.50,381.48 L228.00,381.76 L228.50,382.04 L229.00,382.31 L229.50,382.57 L230.00,382.84 L230.50,383.10 L231.00,383.37 L231.50,383.64 L232.00,383.91 L232.50,384.18 L233.00,384.45 L233.50,384.72 L234.00,384.98 L234.50,385.25 L235.00,385.51 L235.50,385.76 L236.00,386.01 L236.50,386.25 L237.00,386.47 L237.50,386.69 L238.00,386.90 L238.50,387.10 L239.00,387.28 L239.50,387.46 L240.00,387.62 L240.50,387.77 L241.00,387.91 L241.50,388.03 L242.00,388.15 L242.50,388.26 L243.00,388.35 L243.50,388.44 L244.00,388.52 L244.50,388.59 L245.00,388.66 L245.50,388.72 L246.00,388.77 L246.50,388.82 L247.00,388.86 L247.50,388.91 L248.00,388.95 L248.50,388.98 L249.00,389.02 L249.50,389.05 L250.00,389.08 L250.50,389.11 L251.00,389.14 L251.50,389.17 L252.00,389.20 L252.50,389.23 L253.00,389.26 L253.50,389.29 L254.00,389.31 L254.50,389.34 L255.00,389.37 L255.50,389.39 L256.00,389.41 L256.50,389.43 L257.00,389.44 L257.50,389.45 L258.00,389.46 L258.50,389.45 L259.00,389.44 L259.50,389.42 L260.00,389.38 L260.50,389.33 L261.00,389.26 L261.50,389.18 L262.00,389.07 L262.50,388.95 L263.00,388.80 L263.50,388.63 L264.00,388.44 L264.50,388.23 L265.00,388.00 L265.50,387.75 L266.00,387.49 L266.50,387.22 L267.00,386.95 L267.50,386.68 L268.00,386.41 L268.50,386.17 L269.00,385.94 L269.50,385.75 L270.00,385.58 L270.50,385.46 L271.00,385.38 L271.50,385.34 L272.00,385.35 L272.50,385.41 L273.00,385.50 L273.50,385.64 L274.00,385.82 L274.50,386.03 L275.00,386.27 L275.50,386.52 L276.00,386.79 L276.50,387.06 L277.00,387.34 L277.50,387.61 L278.00,387.86 L278.50,388.10 L279.00,388.32 L279.50,388.52 L280.00,388.70 L280.50,388.85 L281.00,388.98 L281.50,389.08 L282.00,389.15 L282.50,389.21 L283.00,389.25 L283.50,389.26 L284.00,389.26 L284.50,389.25 L285.00,389.22 L285.50,389.18 L286.00,389.13 L286.50,389.07 L287.00,389.00 L287.50,388.93 L288.00,388.86 L288.50,388.78 L289.00,388.70 L289.50,388.62 L290.00,388.54 L290.50,388.46 L291.00,388.39 L291.50,388.31 L292.00,388.24 L292.50,388.17 L293.00,388.11 L293.50,388.05 L294.00,387.99 L294.50,387.94 L295.00,387.90 L295.50,387.87 L296.00,387.84 L296.50,387.82 L297.00,387.81 L297.50,387.80 L298.00,387.80 L298.50,387.81 L299.00,387.83 L299.50,387.86 L300.00,387.89 L300.50,387.93 L301.00,387.97 L301.50,388.02 L302.00,388.08 L302.50,388.14 L303.00,388.21 L303.50,388.28 L304.00,388.36 L304.50,388.44 L305.00,388.52 L305.50,388.60 L306.00,388.68 L306.50,388.77 L307.00,388.85 L307.50,388.93 L308.00,389.02 L308.50,389.10 L309.00,389.18 L309.50,389.26 L310.00,389.33 L310.50,389.40 L311.00,389.47 L311.50,389.54 L312.00,389.60 L312.50,389.67 L313.00,389.72 L313.50,389.77 L314.00,389.82 L314.50,389.87 L315.00,389.91 L315.50,389.95 L316.00,389.99 L316.50,390.02 L316.50,390.30 Z" fill="#ef8d47"/>
<path d="M196.50,390.02 L197.00,389.94 L197.50,389.84 L198.00,389.72 L198.50,389.57 L199.00,389.40 L199.50,389.18 L200.00,388.93 L200.50,388.63 L201.00,388.28 L201.50,387.88 L202.00,387.41 L202.50,386.89 L203.00,386.29 L203.50,385.63 L204.00,384.90 L204.50,384.09 L205.00,383.22 L205.50,382.29 L206.00,381.30 L206.50,380.26 L207.00,379.17 L207.50,378.06 L208.00,376.94 L208.50,375.81 L209.00,374.70 L209.50,373.63 L210.00,372.60 L210.50,371.64 L211.00,370.76 L211.50,369.98 L212.00,369.31 L212.50,368.76 L213.00,368.34 L213.50,368.06 L214.00,367.91 L214.50,367.89 L215.00,368.00 L215.50,368.24 L216.00,368.59 L216.50,369.04 L217.00,369.58 L217.50,370.20 L218.00,370.87 L218.50,371.59 L219.00,372.33 L219.50,373.09 L220.00,373.85 L220.50,374.60 L221.00,375.33 L221.50,376.02 L222.00,376.69 L222.50,377.31 L223.00,377.89 L223.50,378.43 L224.00,378.92 L224.50,379.38 L225.00,379.80 L225.50,380.18 L226.00,380.54 L226.50,380.87 L227.00,381.18 L227.50,381.48 L228.00,381.76 L228.50,382.04 L229.00,382.31 L229.50,382.57 L230.00,382.84 L230.50,383.10 L231.00,383.37 L231.50,383.64 L232.00,383.91 L232.50,384.18 L233.00,384.45 L233.50,384.72 L234.00,384.98 L234.50,385.25 L235.00,385.51 L235.50,385.76 L236.00,386.01 L236.50,386.25 L237.00,386.47 L237.50,386.69 L238.00,386.90 L238.50,387.10 L239.00,387.28 L239.50,387.46 L240.00,387.62 L240.50,387.77 L241.00,387.91 L241.50,388.03 L242.00,388.15 L242.50,388.26 L243.00,388.35 L243.50,388.44 L244.00,388.52 L244.50,388.59 L245.00,388.66 L245.50,388.72 L246.00,388.77 L246.50,388.82 L247.00,388.86 L247.50,388.91 L248.00,388.95 L248.50,388.98 L249.00,389.02 L249.50,389.05 L250.00,389.08 L250.50,389.11 L251.00,389.14 L251.50,389.17 L252.00,389.20 L252.50,389.23 L253.00,389.26 L253.50,389.29 L254.00,389.31 L254.50,389.34 L255.00,389.37 L255.50,389.39 L256.00,389.41 L256.50,389.43 L257.00,389.44 L257.50,389.45 L258.00,389.46 L258.50,389.45 L259.00,389.44 L259.50,389.42 L260.00,389.38 L260.50,389.33 L261.00,389.26 L261.50,389.18 L262.00,389.07 L262.50,388.95 L263.00,388.80 L263.50,388.63 L264.00,388.44 L264.50,388.23 L265.00,388.00 L265.50,387.75 L266.00,387.49 L266.50,387.22 L267.00,386.95 L267.50,386.68 L268.00,386.41 L268.50,386.17 L269.00,385.94 L269.50,385.75 L270.00,385.58 L270.50,385.46 L271.00,385.38 L271.50,385.34 L272.00,385.35 L272.50,385.41 L273.00,385.50 L273.50,385.64 L274.00,385.82 L274.50,386.03 L275.00,386.27 L275.50,386.52 L276.00,386.79 L276.50,387.06 L277.00,387.34 L277.50,387.61 L278.00,387.86 L278.50,388.10 L279.00,388.32 L279.50,388.52 L280.00,388.70 L280.50,388.85 L281.00,388.98 L281.50,389.08 L282.00,389.15 L282.50,389.21 L283.00,389.25 L283.50,389.26 L284.00,389.26 L284.50,389.25 L285.00,389.22 L285.50,389.18 L286.00,389.13 L286.50,389.07 L287.00,389.00 L287.50,388.93 L288.00,388.86 L288.50,388.78 L289.00,388.70 L289.50,388.62 L290.00,388.54 L290.50,388.46 L291.00,388.39 L291.50,388.31 L292.00,388.24 L292.50,388.17 L293.00,388.11 L293.50,388.05 L294.00,387.99 L294.50,387.94 L295.00,387.90 L295.50,387.87 L296.00,387.84 L296.50,387.82 L297.00,387.81 L297.50,387.80 L298.00,387.80 L298.50,387.81 L299.00,387.83 L299.50,387.86 L300.00,387.89 L300.50,387.93 L301.00,387.97 L301.50,388.02 L302.00,388.08 L302.50,388.14 L303.00,388.21 L303.50,388.28 L304.00,388.36 L304.50,388.44 L305.00,388.52 L305.50,388.60 L306.00,388.68 L306.50,388.77 L307.00,388.85 L307.50,388.93 L308.00,389.02 L308.50,389.10 L309.00,389.18 L309.50,389.26 L310.00,389.33 L310.50,389.40 L311.00,389.47 L311.50,389.54 L312.00,389.60 L312.50,389.67 L313.00,389.72 L313.50,389.77 L314.00,389.82 L314.50,389.87 L315.00,389.91 L315.50,389.95 L316.00,389.99 L316.50,390.02" fill="none" stroke="#fff" stroke-width="0.8" stroke-linejoin="round"/>
<path d="M195.50,402.20 L195.50,401.93 L196.00,401.85 L196.50,401.75 L197.00,401.62 L197.50,401.47 L198.00,401.29 L198.50,401.07 L199.00,400.81 L199.50,400.50 L200.00,400.14 L200.50,399.72 L201.00,399.23 L201.50,398.69 L202.00,398.07 L202.50,397.39 L203.00,396.63 L203.50,395.81 L204.00,394.93 L204.50,393.98 L205.00,392.98 L205.50,391.94 L206.00,390.88 L206.50,389.79 L207.00,388.71 L207.50,387.64 L208.00,386.61 L208.50,385.63 L209.00,384.72 L209.50,383.90 L210.00,383.18 L210.50,382.57 L211.00,382.09 L211.50,381.74 L212.00,381.52 L212.50,381.45 L213.00,381.52 L213.50,381.72 L214.00,382.04 L214.50,382.48 L215.00,383.02 L215.50,383.66 L216.00,384.36 L216.50,385.13 L217.00,385.93 L217.50,386.77 L218.00,387.62 L218.50,388.47 L219.00,389.31 L219.50,390.13 L220.00,390.92 L220.50,391.68 L221.00,392.40 L221.50,393.09 L222.00,393.73 L222.50,394.33 L223.00,394.90 L223.50,395.42 L224.00,395.91 L224.50,396.37 L225.00,396.80 L225.50,397.21 L226.00,397.58 L226.50,397.94 L227.00,398.27 L227.50,398.59 L228.00,398.89 L228.50,399.17 L229.00,399.43 L229.50,399.68 L230.00,399.92 L230.50,400.14 L231.00,400.35 L231.50,400.54 L232.00,400.72 L232.50,400.88 L233.00,401.04 L233.50,401.17 L234.00,401.30 L234.50,401.42 L235.00,401.52 L235.50,401.61 L236.00,401.70 L236.50,401.77 L237.00,401.83 L237.50,401.89 L238.00,401.94 L238.50,401.98 L239.00,402.02 L239.50,402.05 L240.00,402.07 L240.50,402.10 L241.00,402.12 L241.50,402.13 L242.00,402.14 L242.50,402.16 L243.00,402.16 L243.50,402.17 L244.00,402.18 L244.50,402.18 L245.00,402.19 L245.50,402.19 L246.00,402.19 L246.50,402.19 L247.00,402.19 L247.50,402.20 L248.00,402.20 L248.50,402.20 L249.00,402.20 L249.50,402.20 L250.00,402.20 L250.50,402.20 L251.00,402.20 L251.50,402.20 L252.00,402.20 L252.50,402.20 L253.00,402.20 L253.50,402.20 L254.00,402.20 L254.50,402.20 L255.00,402.20 L255.50,402.20 L256.00,402.20 L256.50,402.20 L257.00,402.20 L257.50,402.20 L258.00,402.20 L258.50,402.20 L259.00,402.20 L259.50,402.20 L260.00,402.20 L260.50,402.20 L261.00,402.20 L261.50,402.20 L262.00,402.20 L262.50,402.20 L263.00,402.20 L263.50,402.20 L264.00,402.20 L264.50,402.20 L265.00,402.20 L265.50,402.20 L266.00,402.20 L266.50,402.20 L267.00,402.20 L267.50,402.20 L268.00,402.20 L268.50,402.20 L269.00,402.20 L269.50,402.20 L270.00,402.20 L270.50,402.20 L271.00,402.20 L271.50,402.20 L272.00,402.20 L272.50,402.20 L273.00,402.20 L273.50,402.20 L274.00,402.20 L274.50,402.20 L275.00,402.20 L275.50,402.20 L276.00,402.20 L276.50,402.20 L277.00,402.20 L277.50,402.20 L278.00,402.20 L278.50,402.20 L279.00,402.20 L279.50,402.19 L280.00,402.19 L280.50,402.19 L281.00,402.19 L281.50,402.19 L282.00,402.18 L282.50,402.18 L283.00,402.17 L283.50,402.17 L284.00,402.16 L284.50,402.15 L285.00,402.14 L285.50,402.13 L286.00,402.12 L286.50,402.10 L287.00,402.09 L287.50,402.07 L288.00,402.05 L288.50,402.03 L289.00,402.01 L289.50,401.98 L290.00,401.95 L290.50,401.93 L291.00,401.90 L291.50,401.87 L292.00,401.84 L292.50,401.81 L293.00,401.78 L293.50,401.75 L294.00,401.72 L294.50,401.69 L295.00,401.67 L295.50,401.65 L296.00,401.63 L296.50,401.62 L297.00,401.61 L297.50,401.60 L298.00,401.60 L298.50,401.60 L299.00,401.61 L299.50,401.62 L300.00,401.63 L300.50,401.65 L301.00,401.67 L301.50,401.69 L302.00,401.72 L302.50,401.75 L303.00,401.78 L303.50,401.81 L304.00,401.84 L304.50,401.87 L305.00,401.90 L305.50,401.93 L305.50,402.20 Z" fill="#f3b77e"/>
<path d="M195.50,401.93 L196.00,401.85 L196.50,401.75 L197.00,401.62 L197.50,401.47 L198.00,401.29 L198.50,401.07 L199.00,400.81 L199.50,400.50 L200.00,400.14 L200.50,399.72 L201.00,399.23 L201.50,398.69 L202.00,398.07 L202.50,397.39 L203.00,396.63 L203.50,395.81 L204.00,394.93 L204.50,393.98 L205.00,392.98 L205.50,391.94 L206.00,390.88 L206.50,389.79 L207.00,388.71 L207.50,387.64 L208.00,386.61 L208.50,385.63 L209.00,384.72 L209.50,383.90 L210.00,383.18 L210.50,382.57 L211.00,382.09 L211.50,381.74 L212.00,381.52 L212.50,381.45 L213.00,381.52 L213.50,381.72 L214.00,382.04 L214.50,382.48 L215.00,383.02 L215.50,383.66 L216.00,384.36 L216.50,385.13 L217.00,385.93 L217.50,386.77 L218.00,387.62 L218.50,388.47 L219.00,389.31 L219.50,390.13 L220.00,390.92 L220.50,391.68 L221.00,392.40 L221.50,393.09 L222.00,393.73 L222.50,394.33 L223.00,394.90 L223.50,395.42 L224.00,395.91 L224.50,396.37 L225.00,396.80 L225.50,397.21 L226.00,397.58 L226.50,397.94 L227.00,398.27 L227.50,398.59 L228.00,398.89 L228.50,399.17 L229.00,399.43 L229.50,399.68 L230.00,399.92 L230.50,400.14 L231.00,400.35 L231.50,400.54 L232.00,400.72 L232.50,400.88 L233.00,401.04 L233.50,401.17 L234.00,401.30 L234.50,401.42 L235.00,401.52 L235.50,401.61 L236.00,401.70 L236.50,401.77 L237.00,401.83 L237.50,401.89 L238.00,401.94 L238.50,401.98 L239.00,402.02 L239.50,402.05 L240.00,402.07 L240.50,402.10 L241.00,402.12 L241.50,402.13 L242.00,402.14 L242.50,402.16 L243.00,402.16 L243.50,402.17 L244.00,402.18 L244.50,402.18 L245.00,402.19 L245.50,402.19 L246.00,402.19 L246.50,402.19 L247.00,402.19 L247.50,402.20 L248.00,402.20 L248.50,402.20 L249.00,402.20 L249.50,402.20 L250.00,402.20 L250.50,402.20 L251.00,402.20 L251.50,402.20 L252.00,402.20 L252.50,402.20 L253.00,402.20 L253.50,402.20 L254.00,402.20 L254.50,402.20 L255.00,402.20 L255.50,402.20 L256.00,402.20 L256.50,402.20 L257.00,402.20 L257.50,402.20 L258.00,402.20 L258.50,402.20 L259.00,402.20 L259.50,402.20 L260.00,402.20 L260.50,402.20 L261.00,402.20 L261.50,402.20 L262.00,402.20 L262.50,402.20 L263.00,402.20 L263.50,402.20 L264.00,402.20 L264.50,402.20 L265.00,402.20 L265.50,402.20 L266.00,402.20 L266.50,402.20 L267.00,402.20 L267.50,402.20 L268.00,402.20 L268.50,402.20 L269.00,402.20 L269.50,402.20 L270.00,402.20 L270.50,402.20 L271.00,402.20 L271.50,402.20 L272.00,402.20 L272.50,402.20 L273.00,402.20 L273.50,402.20 L274.00,402.20 L274.50,402.20 L275.00,402.20 L275.50,402.20 L276.00,402.20 L276.50,402.20 L277.00,402.20 L277.50,402.20 L278.00,402.20 L278.50,402.20 L279.00,402.20 L279.50,402.19 L280.00,402.19 L280.50,402.19 L281.00,402.19 L281.50,402.19 L282.00,402.18 L282.50,402.18 L283.00,402.17 L283.50,402.17 L284.00,402.16 L284.50,402.15 L285.00,402.14 L285.50,402.13 L286.00,402.12 L286.50,402.10 L287.00,402.09 L287.50,402.07 L288.00,402.05 L288.50,402.03 L289.00,402.01 L289.50,401.98 L290.00,401.95 L290.50,401.93 L291.00,401.90 L291.50,401.87 L292.00,401.84 L292.50,401.81 L293.00,401.78 L293.50,401.75 L294.00,401.72 L294.50,401.69 L295.00,401.67 L295.50,401.65 L296.00,401.63 L296.50,401.62 L297.00,401.61 L297.50,401.60 L298.00,401.60 L298.50,401.60 L299.00,401.61 L299.50,401.62 L300.00,401.63 L300.50,401.65 L301.00,401.67 L301.50,401.69 L302.00,401.72 L302.50,401.75 L303.00,401.78 L303.50,401.81 L304.00,401.84 L304.50,401.87 L305.00,401.90 L305.50,401.93" fill="none" stroke="#fff" stroke-width="0.8" stroke-linejoin="round"/>
<path d="M194.50,414.10 L194.50,413.83 L195.00,413.75 L195.50,413.65 L196.00,413.53 L196.50,413.38 L197.00,413.20 L197.50,412.98 L198.00,412.72 L198.50,412.41 L199.00,412.05 L199.50,411.64 L200.00,411.16 L200.50,410.62 L201.00,410.01 L201.50,409.33 L202.00,408.58 L202.50,407.76 L203.00,406.87 L203.50,405.93 L204.00,404.93 L204.50,403.90 L205.00,402.83 L205.50,401.74 L206.00,400.65 L206.50,399.58 L207.00,398.54 L207.50,397.54 L208.00,396.61 L208.50,395.77 L209.00,395.02 L209.50,394.39 L210.00,393.88 L210.50,393.49 L211.00,393.25 L211.50,393.14 L212.00,393.17 L212.50,393.34 L213.00,393.63 L213.50,394.04 L214.00,394.55 L214.50,395.16 L215.00,395.84 L215.50,396.59 L216.00,397.39 L216.50,398.22 L217.00,399.07 L217.50,399.93 L218.00,400.78 L218.50,401.62 L219.00,402.44 L219.50,403.23 L220.00,403.99 L220.50,404.71 L221.00,405.39 L221.50,406.04 L222.00,406.65 L222.50,407.22 L223.00,407.75 L223.50,408.25 L224.00,408.72 L224.50,409.16 L225.00,409.57 L225.50,409.95 L226.00,410.31 L226.50,410.65 L227.00,410.96 L227.50,411.26 L228.00,411.53 L228.50,411.79 L229.00,412.03 L229.50,412.25 L230.00,412.45 L230.50,412.64 L231.00,412.81 L231.50,412.96 L232.00,413.11 L232.50,413.23 L233.00,413.35 L233.50,413.45 L234.00,413.54 L234.50,413.62 L235.00,413.69 L235.50,413.76 L236.00,413.81 L236.00,414.10 Z" fill="#f5d8ae"/>
<path d="M194.50,413.83 L195.00,413.75 L195.50,413.65 L196.00,413.53 L196.50,413.38 L197.00,413.20 L197.50,412.98 L198.00,412.72 L198.50,412.41 L199.00,412.05 L199.50,411.64 L200.00,411.16 L200.50,410.62 L201.00,410.01 L201.50,409.33 L202.00,408.58 L202.50,407.76 L203.00,406.87 L203.50,405.93 L204.00,404.93 L204.50,403.90 L205.00,402.83 L205.50,401.74 L206.00,400.65 L206.50,399.58 L207.00,398.54 L207.50,397.54 L208.00,396.61 L208.50,395.77 L209.00,395.02 L209.50,394.39 L210.00,393.88 L210.50,393.49 L211.00,393.25 L211.50,393.14 L212.00,393.17 L212.50,393.34 L213.00,393.63 L213.50,394.04 L214.00,394.55 L214.50,395.16 L215.00,395.84 L215.50,396.59 L216.00,397.39 L216.50,398.22 L217.00,399.07 L217.50,399.93 L218.00,400.78 L218.50,401.62 L219.00,402.44 L219.50,403.23 L220.00,403.99 L220.50,404.71 L221.00,405.39 L221.50,406.04 L222.00,406.65 L222.50,407.22 L223.00,407.75 L223.50,408.25 L224.00,408.72 L224.50,409.16 L225.00,409.57 L225.50,409.95 L226.00,410.31 L226.50,410.65 L227.00,410.96 L227.50,411.26 L228.00,411.53 L228.50,411.79 L229.00,412.03 L229.50,412.25 L230.00,412.45 L230.50,412.64 L231.00,412.81 L231.50,412.96 L232.00,413.11 L232.50,413.23 L233.00,413.35 L233.50,413.45 L234.00,413.54 L234.50,413.62 L235.00,413.69 L235.50,413.76 L236.00,413.81" fill="none" stroke="#fff" stroke-width="0.8" stroke-linejoin="round"/>
<text x="172.18" y="351.20" font-size="8.75" fill="#b9472b" font-weight="bold" font-style="normal" textLength="30.32" lengthAdjust="spacingAndGlyphs">360 eV</text>
<text x="172.18" y="363.30" font-size="8.75" fill="#b9472b" font-weight="bold" font-style="normal" textLength="30.32" lengthAdjust="spacingAndGlyphs">315 eV</text>
<text x="172.08" y="375.50" font-size="8.75" fill="#b9472b" font-weight="bold" font-style="normal" textLength="30.32" lengthAdjust="spacingAndGlyphs">270 eV</text>
<text x="172.08" y="387.70" font-size="8.75" fill="#b9472b" font-weight="bold" font-style="normal" textLength="30.32" lengthAdjust="spacingAndGlyphs">225 eV</text>
<text x="171.82" y="399.50" font-size="8.75" fill="#b9472b" font-weight="bold" font-style="normal" textLength="30.32" lengthAdjust="spacingAndGlyphs">135 eV</text>
<text x="172.35" y="411.10" font-size="8.75" fill="#b9472b" font-weight="bold" font-style="normal" textLength="24.90" lengthAdjust="spacingAndGlyphs">45 eV</text>
<text x="216.99" y="346.60" font-size="13.07" fill="#111" font-weight="normal" font-style="normal" textLength="7.25" lengthAdjust="spacingAndGlyphs">α</text>
<text x="260.77" y="345.50" font-size="13.07" fill="#111" font-weight="normal" font-style="normal" textLength="7.02" lengthAdjust="spacingAndGlyphs">β</text>
<text x="297.33" y="330.40" font-size="13.07" fill="#111" font-weight="normal" font-style="normal" textLength="6.51" lengthAdjust="spacingAndGlyphs">γ</text>
<line x1="185.50" y1="418.30" x2="324.70" y2="418.30" stroke="#bdbdbd" stroke-width="0.90"/>
<line x1="185.50" y1="418.30" x2="185.50" y2="421.00" stroke="#bdbdbd" stroke-width="0.80"/>
<text x="176.72" y="426.60" font-size="8.20" fill="#262626" font-weight="normal" font-style="normal" textLength="17.56" lengthAdjust="spacingAndGlyphs">2000</text>
<line x1="216.30" y1="418.30" x2="216.30" y2="421.00" stroke="#bdbdbd" stroke-width="0.80"/>
<text x="207.52" y="426.60" font-size="8.20" fill="#262626" font-weight="normal" font-style="normal" textLength="17.56" lengthAdjust="spacingAndGlyphs">2200</text>
<line x1="247.10" y1="418.30" x2="247.10" y2="421.00" stroke="#bdbdbd" stroke-width="0.80"/>
<text x="238.32" y="426.60" font-size="8.20" fill="#262626" font-weight="normal" font-style="normal" textLength="17.56" lengthAdjust="spacingAndGlyphs">2400</text>
<line x1="277.90" y1="418.30" x2="277.90" y2="421.00" stroke="#bdbdbd" stroke-width="0.80"/>
<text x="269.12" y="426.60" font-size="8.20" fill="#262626" font-weight="normal" font-style="normal" textLength="17.56" lengthAdjust="spacingAndGlyphs">2600</text>
<line x1="308.70" y1="418.30" x2="308.70" y2="421.00" stroke="#bdbdbd" stroke-width="0.80"/>
<text x="299.92" y="426.60" font-size="8.20" fill="#262626" font-weight="normal" font-style="normal" textLength="17.56" lengthAdjust="spacingAndGlyphs">2800</text>
<text x="228.84" y="435.60" font-size="6.99" fill="#262626" font-weight="normal" font-style="italic" textLength="9.41" lengthAdjust="spacingAndGlyphs">TW</text>
<text x="238.25" y="438.80" font-size="9.98" fill="#262626" font-weight="normal" font-style="normal" textLength="17.06" lengthAdjust="spacingAndGlyphs">CCS</text>
<text x="255.31" y="440.60" font-size="6.99" fill="#262626" font-weight="normal" font-style="italic" textLength="8.14" lengthAdjust="spacingAndGlyphs">N2</text>
<text x="266.12" y="438.80" font-size="9.98" fill="#262626" font-weight="normal" font-style="normal" textLength="9.02" lengthAdjust="spacingAndGlyphs">(Å</text>
<text x="275.14" y="435.40" font-size="6.99" fill="#262626" font-weight="normal" font-style="normal" textLength="3.74" lengthAdjust="spacingAndGlyphs">2</text>
<text x="278.88" y="438.80" font-size="9.98" fill="#262626" font-weight="normal" font-style="normal" textLength="3.28" lengthAdjust="spacingAndGlyphs">)</text>
<text x="520.17" y="339.70" font-size="12.28" fill="#111" font-weight="normal" font-style="normal" textLength="10.96" lengthAdjust="spacingAndGlyphs">H</text>
<line x1="525.40" y1="349.90" x2="645.00" y2="349.90" stroke="#ececec" stroke-width="0.70"/>
<line x1="525.40" y1="359.10" x2="645.00" y2="359.10" stroke="#ececec" stroke-width="0.70"/>
<line x1="525.40" y1="368.10" x2="645.00" y2="368.10" stroke="#ececec" stroke-width="0.70"/>
<line x1="525.40" y1="377.30" x2="645.00" y2="377.30" stroke="#ececec" stroke-width="0.70"/>
<line x1="525.40" y1="386.30" x2="645.00" y2="386.30" stroke="#ececec" stroke-width="0.70"/>
<line x1="525.40" y1="395.50" x2="645.00" y2="395.50" stroke="#ececec" stroke-width="0.70"/>
<line x1="525.40" y1="404.90" x2="645.00" y2="404.90" stroke="#ececec" stroke-width="0.70"/>
<line x1="525.40" y1="414.10" x2="645.00" y2="414.10" stroke="#ececec" stroke-width="0.70"/>
<path d="M615.40,349.60 L615.40,349.27 L615.90,349.18 L616.40,349.05 L616.90,348.90 L617.40,348.72 L617.90,348.50 L618.40,348.23 L618.90,347.92 L619.40,347.55 L619.90,347.12 L620.40,346.63 L620.90,346.07 L621.40,345.45 L621.90,344.76 L622.40,344.00 L622.90,343.19 L623.40,342.32 L623.90,341.40 L624.40,340.45 L624.90,339.48 L625.40,338.51 L625.90,337.56 L626.40,336.63 L626.90,335.76 L627.40,334.96 L627.90,334.26 L628.40,333.66 L628.90,333.18 L629.40,332.84 L629.90,332.65 L630.40,332.60 L630.90,332.71 L631.40,332.96 L631.90,333.36 L632.40,333.88 L632.90,334.53 L633.40,335.27 L633.90,336.10 L634.40,337.00 L634.90,337.94 L635.40,338.90 L635.90,339.87 L636.40,340.83 L636.90,341.77 L637.40,342.67 L637.90,343.52 L638.40,344.31 L638.90,345.04 L639.40,345.71 L639.90,346.30 L640.40,346.83 L640.90,347.30 L641.40,347.70 L641.90,348.05 L642.40,348.35 L642.90,348.59 L643.40,348.80 L643.90,348.97 L644.40,349.11 L644.90,349.22 L645.40,349.31 L645.40,349.60 Z" fill="#6e0a12"/>
<path d="M615.40,349.27 L615.90,349.18 L616.40,349.05 L616.90,348.90 L617.40,348.72 L617.90,348.50 L618.40,348.23 L618.90,347.92 L619.40,347.55 L619.90,347.12 L620.40,346.63 L620.90,346.07 L621.40,345.45 L621.90,344.76 L622.40,344.00 L622.90,343.19 L623.40,342.32 L623.90,341.40 L624.40,340.45 L624.90,339.48 L625.40,338.51 L625.90,337.56 L626.40,336.63 L626.90,335.76 L627.40,334.96 L627.90,334.26 L628.40,333.66 L628.90,333.18 L629.40,332.84 L629.90,332.65 L630.40,332.60 L630.90,332.71 L631.40,332.96 L631.90,333.36 L632.40,333.88 L632.90,334.53 L633.40,335.27 L633.90,336.10 L634.40,337.00 L634.90,337.94 L635.40,338.90 L635.90,339.87 L636.40,340.83 L636.90,341.77 L637.40,342.67 L637.90,343.52 L638.40,344.31 L638.90,345.04 L639.40,345.71 L639.90,346.30 L640.40,346.83 L640.90,347.30 L641.40,347.70 L641.90,348.05 L642.40,348.35 L642.90,348.59 L643.40,348.80 L643.90,348.97 L644.40,349.11 L644.90,349.22 L645.40,349.31" fill="none" stroke="#fff" stroke-width="0.8" stroke-linejoin="round"/>
<path d="M604.90,358.80 L604.90,358.54 L605.40,358.49 L605.90,358.43 L606.40,358.37 L606.90,358.31 L607.40,358.23 L607.90,358.15 L608.40,358.06 L608.90,357.97 L609.40,357.87 L609.90,357.76 L610.40,357.64 L610.90,357.52 L611.40,357.39 L611.90,357.25 L612.40,357.11 L612.90,356.96 L613.40,356.80 L613.90,356.63 L614.40,356.45 L614.90,356.25 L615.40,356.05 L615.90,355.82 L616.40,355.57 L616.90,355.30 L617.40,355.00 L617.90,354.67 L618.40,354.30 L618.90,353.89 L619.40,353.44 L619.90,352.95 L620.40,352.41 L620.90,351.82 L621.40,351.20 L621.90,350.53 L622.40,349.83 L622.90,349.10 L623.40,348.35 L623.90,347.59 L624.40,346.83 L624.90,346.08 L625.40,345.35 L625.90,344.67 L626.40,344.04 L626.90,343.48 L627.40,343.00 L627.90,342.61 L628.40,342.32 L628.90,342.14 L629.40,342.07 L629.90,342.12 L630.40,342.29 L630.90,342.57 L631.40,342.96 L631.90,343.46 L632.40,344.04 L632.90,344.71 L633.40,345.44 L633.90,346.23 L634.40,347.05 L634.90,347.91 L635.40,348.77 L635.90,349.64 L636.40,350.49 L636.90,351.32 L637.40,352.11 L637.90,352.87 L638.40,353.58 L638.90,354.24 L639.40,354.84 L639.90,355.39 L640.40,355.88 L640.90,356.33 L641.40,356.72 L641.90,357.06 L642.40,357.35 L642.90,357.61 L643.40,357.83 L643.90,358.01 L644.40,358.16 L644.90,358.29 L645.40,358.40 L645.90,358.48 L645.90,358.80 Z" fill="#a2161c"/>
<path d="M604.90,358.54 L605.40,358.49 L605.90,358.43 L606.40,358.37 L606.90,358.31 L607.40,358.23 L607.90,358.15 L608.40,358.06 L608.90,357.97 L609.40,357.87 L609.90,357.76 L610.40,357.64 L610.90,357.52 L611.40,357.39 L611.90,357.25 L612.40,357.11 L612.90,356.96 L613.40,356.80 L613.90,356.63 L614.40,356.45 L614.90,356.25 L615.40,356.05 L615.90,355.82 L616.40,355.57 L616.90,355.30 L617.40,355.00 L617.90,354.67 L618.40,354.30 L618.90,353.89 L619.40,353.44 L619.90,352.95 L620.40,352.41 L620.90,351.82 L621.40,351.20 L621.90,350.53 L622.40,349.83 L622.90,349.10 L623.40,348.35 L623.90,347.59 L624.40,346.83 L624.90,346.08 L625.40,345.35 L625.90,344.67 L626.40,344.04 L626.90,343.48 L627.40,343.00 L627.90,342.61 L628.40,342.32 L628.90,342.14 L629.40,342.07 L629.90,342.12 L630.40,342.29 L630.90,342.57 L631.40,342.96 L631.90,343.46 L632.40,344.04 L632.90,344.71 L633.40,345.44 L633.90,346.23 L634.40,347.05 L634.90,347.91 L635.40,348.77 L635.90,349.64 L636.40,350.49 L636.90,351.32 L637.40,352.11 L637.90,352.87 L638.40,353.58 L638.90,354.24 L639.40,354.84 L639.90,355.39 L640.40,355.88 L640.90,356.33 L641.40,356.72 L641.90,357.06 L642.40,357.35 L642.90,357.61 L643.40,357.83 L643.90,358.01 L644.40,358.16 L644.90,358.29 L645.40,358.40 L645.90,358.48" fill="none" stroke="#fff" stroke-width="0.8" stroke-linejoin="round"/>
<path d="M584.40,367.80 L584.40,367.53 L584.90,367.48 L585.40,367.42 L585.90,367.36 L586.40,367.29 L586.90,367.21 L587.40,367.12 L587.90,367.02 L588.40,366.91 L588.90,366.79 L589.40,366.66 L589.90,366.52 L590.40,366.37 L590.90,366.21 L591.40,366.04 L591.90,365.87 L592.40,365.68 L592.90,365.49 L593.40,365.30 L593.90,365.10 L594.40,364.91 L594.90,364.71 L595.40,364.52 L595.90,364.33 L596.40,364.15 L596.90,363.97 L597.40,363.81 L597.90,363.65 L598.40,363.50 L598.90,363.36 L599.40,363.23 L599.90,363.09 L600.40,362.95 L600.90,362.80 L601.40,362.63 L601.90,362.42 L602.40,362.18 L602.90,361.88 L603.40,361.53 L603.90,361.11 L604.40,360.64 L604.90,360.12 L605.40,359.56 L605.90,359.00 L606.40,358.45 L606.90,357.96 L607.40,357.54 L607.90,357.24 L608.40,357.06 L608.90,357.03 L609.40,357.15 L609.90,357.41 L610.40,357.79 L610.90,358.26 L611.40,358.79 L611.90,359.34 L612.40,359.88 L612.90,360.39 L613.40,360.83 L613.90,361.20 L614.40,361.47 L614.90,361.65 L615.40,361.73 L615.90,361.72 L616.40,361.63 L616.90,361.45 L617.40,361.20 L617.90,360.88 L618.40,360.50 L618.90,360.06 L619.40,359.57 L619.90,359.03 L620.40,358.45 L620.90,357.83 L621.40,357.19 L621.90,356.52 L622.40,355.85 L622.90,355.17 L623.40,354.51 L623.90,353.87 L624.40,353.26 L624.90,352.71 L625.40,352.21 L625.90,351.79 L626.40,351.45 L626.90,351.20 L627.40,351.05 L627.90,351.01 L628.40,351.07 L628.90,351.24 L629.40,351.51 L629.90,351.89 L630.40,352.36 L630.90,352.91 L631.40,353.54 L631.90,354.24 L632.40,354.99 L632.90,355.78 L633.40,356.60 L633.90,357.44 L634.40,358.28 L634.90,359.11 L635.40,359.92 L635.90,360.71 L636.40,361.46 L636.90,362.17 L637.40,362.83 L637.90,363.45 L638.40,364.02 L638.90,364.53 L639.40,365.00 L639.90,365.41 L640.40,365.78 L640.90,366.10 L641.40,366.39 L641.90,366.63 L642.40,366.84 L642.90,367.01 L643.40,367.16 L643.90,367.29 L644.40,367.39 L644.90,367.47 L645.40,367.54 L645.40,367.80 Z" fill="#c22a25"/>
<path d="M584.40,367.53 L584.90,367.48 L585.40,367.42 L585.90,367.36 L586.40,367.29 L586.90,367.21 L587.40,367.12 L587.90,367.02 L588.40,366.91 L588.90,366.79 L589.40,366.66 L589.90,366.52 L590.40,366.37 L590.90,366.21 L591.40,366.04 L591.90,365.87 L592.40,365.68 L592.90,365.49 L593.40,365.30 L593.90,365.10 L594.40,364.91 L594.90,364.71 L595.40,364.52 L595.90,364.33 L596.40,364.15 L596.90,363.97 L597.40,363.81 L597.90,363.65 L598.40,363.50 L598.90,363.36 L599.40,363.23 L599.90,363.09 L600.40,362.95 L600.90,362.80 L601.40,362.63 L601.90,362.42 L602.40,362.18 L602.90,361.88 L603.40,361.53 L603.90,361.11 L604.40,360.64 L604.90,360.12 L605.40,359.56 L605.90,359.00 L606.40,358.45 L606.90,357.96 L607.40,357.54 L607.90,357.24 L608.40,357.06 L608.90,357.03 L609.40,357.15 L609.90,357.41 L610.40,357.79 L610.90,358.26 L611.40,358.79 L611.90,359.34 L612.40,359.88 L612.90,360.39 L613.40,360.83 L613.90,361.20 L614.40,361.47 L614.90,361.65 L615.40,361.73 L615.90,361.72 L616.40,361.63 L616.90,361.45 L617.40,361.20 L617.90,360.88 L618.40,360.50 L618.90,360.06 L619.40,359.57 L619.90,359.03 L620.40,358.45 L620.90,357.83 L621.40,357.19 L621.90,356.52 L622.40,355.85 L622.90,355.17 L623.40,354.51 L623.90,353.87 L624.40,353.26 L624.90,352.71 L625.40,352.21 L625.90,351.79 L626.40,351.45 L626.90,351.20 L627.40,351.05 L627.90,351.01 L628.40,351.07 L628.90,351.24 L629.40,351.51 L629.90,351.89 L630.40,352.36 L630.90,352.91 L631.40,353.54 L631.90,354.24 L632.40,354.99 L632.90,355.78 L633.40,356.60 L633.90,357.44 L634.40,358.28 L634.90,359.11 L635.40,359.92 L635.90,360.71 L636.40,361.46 L636.90,362.17 L637.40,362.83 L637.90,363.45 L638.40,364.02 L638.90,364.53 L639.40,365.00 L639.90,365.41 L640.40,365.78 L640.90,366.10 L641.40,366.39 L641.90,366.63 L642.40,366.84 L642.90,367.01 L643.40,367.16 L643.90,367.29 L644.40,367.39 L644.90,367.47 L645.40,367.54" fill="none" stroke="#fff" stroke-width="0.8" stroke-linejoin="round"/>
<path d="M564.40,377.00 L564.40,376.72 L564.90,376.67 L565.40,376.61 L565.90,376.55 L566.40,376.47 L566.90,376.39 L567.40,376.30 L567.90,376.21 L568.40,376.10 L568.90,375.99 L569.40,375.88 L569.90,375.76 L570.40,375.63 L570.90,375.50 L571.40,375.38 L571.90,375.25 L572.40,375.12 L572.90,375.00 L573.40,374.87 L573.90,374.76 L574.40,374.64 L574.90,374.53 L575.40,374.42 L575.90,374.30 L576.40,374.18 L576.90,374.04 L577.40,373.88 L577.90,373.69 L578.40,373.46 L578.90,373.18 L579.40,372.84 L579.90,372.42 L580.40,371.93 L580.90,371.34 L581.40,370.66 L581.90,369.90 L582.40,369.05 L582.90,368.12 L583.40,367.14 L583.90,366.12 L584.40,365.10 L584.90,364.10 L585.40,363.17 L585.90,362.32 L586.40,361.60 L586.90,361.04 L587.40,360.65 L587.90,360.46 L588.40,360.48 L588.90,360.69 L589.40,361.10 L589.90,361.67 L590.40,362.40 L590.90,363.24 L591.40,364.16 L591.90,365.13 L592.40,366.11 L592.90,367.07 L593.40,367.98 L593.90,368.82 L594.40,369.56 L594.90,370.21 L595.40,370.74 L595.90,371.17 L596.40,371.49 L596.90,371.70 L597.40,371.83 L597.90,371.87 L598.40,371.85 L598.90,371.76 L599.40,371.62 L599.90,371.45 L600.40,371.24 L600.90,371.02 L601.40,370.77 L601.90,370.52 L602.40,370.27 L602.90,370.02 L603.40,369.77 L603.90,369.54 L604.40,369.31 L604.90,369.10 L605.40,368.90 L605.90,368.72 L606.40,368.56 L606.90,368.42 L607.40,368.31 L607.90,368.21 L608.40,368.14 L608.90,368.09 L609.40,368.06 L609.90,368.06 L610.40,368.08 L610.90,368.12 L611.40,368.18 L611.90,368.26 L612.40,368.36 L612.90,368.47 L613.40,368.60 L613.90,368.75 L614.40,368.91 L614.90,369.08 L615.40,369.25 L615.90,369.44 L616.40,369.63 L616.90,369.83 L617.40,370.03 L617.90,370.23 L618.40,370.44 L618.90,370.64 L619.40,370.84 L619.90,371.04 L620.40,371.24 L620.90,371.43 L621.40,371.62 L621.90,371.80 L622.40,371.98 L622.90,372.15 L623.40,372.32 L623.90,372.49 L624.40,372.65 L624.90,372.80 L625.40,372.95 L625.90,373.10 L626.40,373.25 L626.90,373.39 L627.40,373.53 L627.90,373.66 L628.40,373.79 L628.90,373.92 L629.40,374.05 L629.90,374.18 L630.40,374.30 L630.90,374.43 L631.40,374.55 L631.90,374.67 L632.40,374.79 L632.90,374.90 L633.40,375.01 L633.90,375.13 L634.40,375.23 L634.90,375.34 L635.40,375.44 L635.90,375.54 L636.40,375.64 L636.90,375.73 L637.40,375.82 L637.90,375.91 L638.40,375.99 L638.90,376.07 L639.40,376.15 L639.90,376.22 L640.40,376.29 L640.90,376.35 L641.40,376.41 L641.90,376.47 L642.40,376.52 L642.90,376.56 L643.40,376.61 L643.90,376.65 L644.40,376.69 L644.90,376.72 L644.90,377.00 Z" fill="#dd3327"/>
<path d="M564.40,376.72 L564.90,376.67 L565.40,376.61 L565.90,376.55 L566.40,376.47 L566.90,376.39 L567.40,376.30 L567.90,376.21 L568.40,376.10 L568.90,375.99 L569.40,375.88 L569.90,375.76 L570.40,375.63 L570.90,375.50 L571.40,375.38 L571.90,375.25 L572.40,375.12 L572.90,375.00 L573.40,374.87 L573.90,374.76 L574.40,374.64 L574.90,374.53 L575.40,374.42 L575.90,374.30 L576.40,374.18 L576.90,374.04 L577.40,373.88 L577.90,373.69 L578.40,373.46 L578.90,373.18 L579.40,372.84 L579.90,372.42 L580.40,371.93 L580.90,371.34 L581.40,370.66 L581.90,369.90 L582.40,369.05 L582.90,368.12 L583.40,367.14 L583.90,366.12 L584.40,365.10 L584.90,364.10 L585.40,363.17 L585.90,362.32 L586.40,361.60 L586.90,361.04 L587.40,360.65 L587.90,360.46 L588.40,360.48 L588.90,360.69 L589.40,361.10 L589.90,361.67 L590.40,362.40 L590.90,363.24 L591.40,364.16 L591.90,365.13 L592.40,366.11 L592.90,367.07 L593.40,367.98 L593.90,368.82 L594.40,369.56 L594.90,370.21 L595.40,370.74 L595.90,371.17 L596.40,371.49 L596.90,371.70 L597.40,371.83 L597.90,371.87 L598.40,371.85 L598.90,371.76 L599.40,371.62 L599.90,371.45 L600.40,371.24 L600.90,371.02 L601.40,370.77 L601.90,370.52 L602.40,370.27 L602.90,370.02 L603.40,369.77 L603.90,369.54 L604.40,369.31 L604.90,369.10 L605.40,368.90 L605.90,368.72 L606.40,368.56 L606.90,368.42 L607.40,368.31 L607.90,368.21 L608.40,368.14 L608.90,368.09 L609.40,368.06 L609.90,368.06 L610.40,368.08 L610.90,368.12 L611.40,368.18 L611.90,368.26 L612.40,368.36 L612.90,368.47 L613.40,368.60 L613.90,368.75 L614.40,368.91 L614.90,369.08 L615.40,369.25 L615.90,369.44 L616.40,369.63 L616.90,369.83 L617.40,370.03 L617.90,370.23 L618.40,370.44 L618.90,370.64 L619.40,370.84 L619.90,371.04 L620.40,371.24 L620.90,371.43 L621.40,371.62 L621.90,371.80 L622.40,371.98 L622.90,372.15 L623.40,372.32 L623.90,372.49 L624.40,372.65 L624.90,372.80 L625.40,372.95 L625.90,373.10 L626.40,373.25 L626.90,373.39 L627.40,373.53 L627.90,373.66 L628.40,373.79 L628.90,373.92 L629.40,374.05 L629.90,374.18 L630.40,374.30 L630.90,374.43 L631.40,374.55 L631.90,374.67 L632.40,374.79 L632.90,374.90 L633.40,375.01 L633.90,375.13 L634.40,375.23 L634.90,375.34 L635.40,375.44 L635.90,375.54 L636.40,375.64 L636.90,375.73 L637.40,375.82 L637.90,375.91 L638.40,375.99 L638.90,376.07 L639.40,376.15 L639.90,376.22 L640.40,376.29 L640.90,376.35 L641.40,376.41 L641.90,376.47 L642.40,376.52 L642.90,376.56 L643.40,376.61 L643.90,376.65 L644.40,376.69 L644.90,376.72" fill="none" stroke="#fff" stroke-width="0.8" stroke-linejoin="round"/>
<path d="M542.40,386.00 L542.40,385.74 L542.90,385.68 L543.40,385.61 L543.90,385.53 L544.40,385.43 L544.90,385.32 L545.40,385.19 L545.90,385.04 L546.40,384.88 L546.90,384.69 L547.40,384.48 L547.90,384.25 L548.40,384.00 L548.90,383.73 L549.40,383.44 L549.90,383.13 L550.40,382.80 L550.90,382.45 L551.40,382.10 L551.90,381.73 L552.40,381.35 L552.90,380.98 L553.40,380.60 L553.90,380.23 L554.40,379.86 L554.90,379.51 L555.40,379.17 L555.90,378.85 L556.40,378.56 L556.90,378.29 L557.40,378.04 L557.90,377.82 L558.40,377.63 L558.90,377.46 L559.40,377.33 L559.90,377.21 L560.40,377.12 L560.90,377.05 L561.40,377.00 L561.90,376.96 L562.40,376.93 L562.90,376.92 L563.40,376.91 L563.90,376.90 L564.40,376.89 L564.90,376.88 L565.40,376.87 L565.90,376.85 L566.40,376.82 L566.90,376.77 L567.40,376.72 L567.90,376.65 L568.40,376.56 L568.90,376.45 L569.40,376.33 L569.90,376.19 L570.40,376.02 L570.90,375.83 L571.40,375.62 L571.90,375.39 L572.40,375.13 L572.90,374.85 L573.40,374.54 L573.90,374.22 L574.40,373.87 L574.90,373.51 L575.40,373.13 L575.90,372.74 L576.40,372.35 L576.90,371.95 L577.40,371.56 L577.90,371.17 L578.40,370.81 L578.90,370.46 L579.40,370.15 L579.90,369.87 L580.40,369.63 L580.90,369.44 L581.40,369.30 L581.90,369.21 L582.40,369.19 L582.90,369.23 L583.40,369.33 L583.90,369.50 L584.40,369.72 L584.90,370.01 L585.40,370.36 L585.90,370.76 L586.40,371.21 L586.90,371.70 L587.40,372.23 L587.90,372.79 L588.40,373.37 L588.90,373.97 L589.40,374.58 L589.90,375.19 L590.40,375.80 L590.90,376.39 L591.40,376.97 L591.90,377.53 L592.40,378.07 L592.90,378.57 L593.40,379.05 L593.90,379.49 L594.40,379.90 L594.90,380.27 L595.40,380.61 L595.90,380.92 L596.40,381.20 L596.90,381.44 L597.40,381.66 L597.90,381.85 L598.40,382.01 L598.90,382.15 L599.40,382.28 L599.90,382.38 L600.40,382.47 L600.90,382.55 L601.40,382.62 L601.90,382.68 L602.40,382.73 L602.90,382.78 L603.40,382.83 L603.90,382.87 L604.40,382.91 L604.90,382.95 L605.40,382.99 L605.90,383.03 L606.40,383.07 L606.90,383.12 L607.40,383.17 L607.90,383.22 L608.40,383.27 L608.90,383.33 L609.40,383.39 L609.90,383.45 L610.40,383.51 L610.90,383.58 L611.40,383.65 L611.90,383.72 L612.40,383.79 L612.90,383.86 L613.40,383.94 L613.90,384.01 L614.40,384.09 L614.90,384.16 L615.40,384.24 L615.90,384.32 L616.40,384.39 L616.90,384.47 L617.40,384.54 L617.90,384.61 L618.40,384.68 L618.90,384.75 L619.40,384.82 L619.90,384.89 L620.40,384.95 L620.90,385.01 L621.40,385.07 L621.90,385.13 L622.40,385.19 L622.90,385.24 L623.40,385.29 L623.90,385.34 L624.40,385.39 L624.90,385.43 L625.40,385.47 L625.90,385.51 L626.40,385.55 L626.90,385.59 L627.40,385.62 L627.90,385.65 L628.40,385.68 L628.90,385.71 L629.40,385.73 L629.40,386.00 Z" fill="#ea5a45"/>
<path d="M542.40,385.74 L542.90,385.68 L543.40,385.61 L543.90,385.53 L544.40,385.43 L544.90,385.32 L545.40,385.19 L545.90,385.04 L546.40,384.88 L546.90,384.69 L547.40,384.48 L547.90,384.25 L548.40,384.00 L548.90,383.73 L549.40,383.44 L549.90,383.13 L550.40,382.80 L550.90,382.45 L551.40,382.10 L551.90,381.73 L552.40,381.35 L552.90,380.98 L553.40,380.60 L553.90,380.23 L554.40,379.86 L554.90,379.51 L555.40,379.17 L555.90,378.85 L556.40,378.56 L556.90,378.29 L557.40,378.04 L557.90,377.82 L558.40,377.63 L558.90,377.46 L559.40,377.33 L559.90,377.21 L560.40,377.12 L560.90,377.05 L561.40,377.00 L561.90,376.96 L562.40,376.93 L562.90,376.92 L563.40,376.91 L563.90,376.90 L564.40,376.89 L564.90,376.88 L565.40,376.87 L565.90,376.85 L566.40,376.82 L566.90,376.77 L567.40,376.72 L567.90,376.65 L568.40,376.56 L568.90,376.45 L569.40,376.33 L569.90,376.19 L570.40,376.02 L570.90,375.83 L571.40,375.62 L571.90,375.39 L572.40,375.13 L572.90,374.85 L573.40,374.54 L573.90,374.22 L574.40,373.87 L574.90,373.51 L575.40,373.13 L575.90,372.74 L576.40,372.35 L576.90,371.95 L577.40,371.56 L577.90,371.17 L578.40,370.81 L578.90,370.46 L579.40,370.15 L579.90,369.87 L580.40,369.63 L580.90,369.44 L581.40,369.30 L581.90,369.21 L582.40,369.19 L582.90,369.23 L583.40,369.33 L583.90,369.50 L584.40,369.72 L584.90,370.01 L585.40,370.36 L585.90,370.76 L586.40,371.21 L586.90,371.70 L587.40,372.23 L587.90,372.79 L588.40,373.37 L588.90,373.97 L589.40,374.58 L589.90,375.19 L590.40,375.80 L590.90,376.39 L591.40,376.97 L591.90,377.53 L592.40,378.07 L592.90,378.57 L593.40,379.05 L593.90,379.49 L594.40,379.90 L594.90,380.27 L595.40,380.61 L595.90,380.92 L596.40,381.20 L596.90,381.44 L597.40,381.66 L597.90,381.85 L598.40,382.01 L598.90,382.15 L599.40,382.28 L599.90,382.38 L600.40,382.47 L600.90,382.55 L601.40,382.62 L601.90,382.68 L602.40,382.73 L602.90,382.78 L603.40,382.83 L603.90,382.87 L604.40,382.91 L604.90,382.95 L605.40,382.99 L605.90,383.03 L606.40,383.07 L606.90,383.12 L607.40,383.17 L607.90,383.22 L608.40,383.27 L608.90,383.33 L609.40,383.39 L609.90,383.45 L610.40,383.51 L610.90,383.58 L611.40,383.65 L611.90,383.72 L612.40,383.79 L612.90,383.86 L613.40,383.94 L613.90,384.01 L614.40,384.09 L614.90,384.16 L615.40,384.24 L615.90,384.32 L616.40,384.39 L616.90,384.47 L617.40,384.54 L617.90,384.61 L618.40,384.68 L618.90,384.75 L619.40,384.82 L619.90,384.89 L620.40,384.95 L620.90,385.01 L621.40,385.07 L621.90,385.13 L622.40,385.19 L622.90,385.24 L623.40,385.29 L623.90,385.34 L624.40,385.39 L624.90,385.43 L625.40,385.47 L625.90,385.51 L626.40,385.55 L626.90,385.59 L627.40,385.62 L627.90,385.65 L628.40,385.68 L628.90,385.71 L629.40,385.73" fill="none" stroke="#fff" stroke-width="0.8" stroke-linejoin="round"/>
<path d="M530.40,395.20 L530.40,394.92 L530.90,394.87 L531.40,394.81 L531.90,394.75 L532.40,394.67 L532.90,394.59 L533.40,394.49 L533.90,394.38 L534.40,394.25 L534.90,394.11 L535.40,393.96 L535.90,393.79 L536.40,393.59 L536.90,393.38 L537.40,393.15 L537.90,392.90 L538.40,392.62 L538.90,392.32 L539.40,392.00 L539.90,391.65 L540.40,391.28 L540.90,390.89 L541.40,390.47 L541.90,390.03 L542.40,389.57 L542.90,389.09 L543.40,388.59 L543.90,388.08 L544.40,387.55 L544.90,387.01 L545.40,386.46 L545.90,385.91 L546.40,385.36 L546.90,384.81 L547.40,384.26 L547.90,383.73 L548.40,383.22 L548.90,382.72 L549.40,382.25 L549.90,381.81 L550.40,381.40 L550.90,381.03 L551.40,380.70 L551.90,380.41 L552.40,380.16 L552.90,379.97 L553.40,379.83 L553.90,379.74 L554.40,379.70 L554.90,379.71 L555.40,379.78 L555.90,379.90 L556.40,380.07 L556.90,380.29 L557.40,380.55 L557.90,380.86 L558.40,381.20 L558.90,381.59 L559.40,382.00 L559.90,382.44 L560.40,382.90 L560.90,383.37 L561.40,383.86 L561.90,384.36 L562.40,384.85 L562.90,385.34 L563.40,385.82 L563.90,386.28 L564.40,386.72 L564.90,387.14 L565.40,387.54 L565.90,387.89 L566.40,388.22 L566.90,388.51 L567.40,388.76 L567.90,388.97 L568.40,389.15 L568.90,389.28 L569.40,389.38 L569.90,389.44 L570.40,389.47 L570.90,389.47 L571.40,389.45 L571.90,389.41 L572.40,389.35 L572.90,389.29 L573.40,389.22 L573.90,389.15 L574.40,389.09 L574.90,389.03 L575.40,389.00 L575.90,388.98 L576.40,388.99 L576.90,389.02 L577.40,389.07 L577.90,389.16 L578.40,389.27 L578.90,389.40 L579.40,389.56 L579.90,389.75 L580.40,389.95 L580.90,390.16 L581.40,390.39 L581.90,390.63 L582.40,390.88 L582.90,391.12 L583.40,391.36 L583.90,391.60 L584.40,391.83 L584.90,392.05 L585.40,392.26 L585.90,392.46 L586.40,392.64 L586.90,392.80 L587.40,392.95 L587.90,393.08 L588.40,393.21 L588.90,393.31 L589.40,393.41 L589.90,393.49 L590.40,393.57 L590.90,393.63 L591.40,393.69 L591.90,393.75 L592.40,393.80 L592.90,393.84 L593.40,393.89 L593.90,393.93 L594.40,393.97 L594.90,394.01 L595.40,394.05 L595.90,394.10 L596.40,394.14 L596.90,394.18 L597.40,394.23 L597.90,394.27 L598.40,394.32 L598.90,394.37 L599.40,394.41 L599.90,394.46 L600.40,394.51 L600.90,394.55 L601.40,394.60 L601.90,394.64 L602.40,394.68 L602.90,394.73 L603.40,394.76 L603.90,394.80 L604.40,394.84 L604.90,394.87 L605.40,394.90 L605.90,394.93 L605.90,395.20 Z" fill="#ee7e65"/>
<path d="M530.40,394.92 L530.90,394.87 L531.40,394.81 L531.90,394.75 L532.40,394.67 L532.90,394.59 L533.40,394.49 L533.90,394.38 L534.40,394.25 L534.90,394.11 L535.40,393.96 L535.90,393.79 L536.40,393.59 L536.90,393.38 L537.40,393.15 L537.90,392.90 L538.40,392.62 L538.90,392.32 L539.40,392.00 L539.90,391.65 L540.40,391.28 L540.90,390.89 L541.40,390.47 L541.90,390.03 L542.40,389.57 L542.90,389.09 L543.40,388.59 L543.90,388.08 L544.40,387.55 L544.90,387.01 L545.40,386.46 L545.90,385.91 L546.40,385.36 L546.90,384.81 L547.40,384.26 L547.90,383.73 L548.40,383.22 L548.90,382.72 L549.40,382.25 L549.90,381.81 L550.40,381.40 L550.90,381.03 L551.40,380.70 L551.90,380.41 L552.40,380.16 L552.90,379.97 L553.40,379.83 L553.90,379.74 L554.40,379.70 L554.90,379.71 L555.40,379.78 L555.90,379.90 L556.40,380.07 L556.90,380.29 L557.40,380.55 L557.90,380.86 L558.40,381.20 L558.90,381.59 L559.40,382.00 L559.90,382.44 L560.40,382.90 L560.90,383.37 L561.40,383.86 L561.90,384.36 L562.40,384.85 L562.90,385.34 L563.40,385.82 L563.90,386.28 L564.40,386.72 L564.90,387.14 L565.40,387.54 L565.90,387.89 L566.40,388.22 L566.90,388.51 L567.40,388.76 L567.90,388.97 L568.40,389.15 L568.90,389.28 L569.40,389.38 L569.90,389.44 L570.40,389.47 L570.90,389.47 L571.40,389.45 L571.90,389.41 L572.40,389.35 L572.90,389.29 L573.40,389.22 L573.90,389.15 L574.40,389.09 L574.90,389.03 L575.40,389.00 L575.90,388.98 L576.40,388.99 L576.90,389.02 L577.40,389.07 L577.90,389.16 L578.40,389.27 L578.90,389.40 L579.40,389.56 L579.90,389.75 L580.40,389.95 L580.90,390.16 L581.40,390.39 L581.90,390.63 L582.40,390.88 L582.90,391.12 L583.40,391.36 L583.90,391.60 L584.40,391.83 L584.90,392.05 L585.40,392.26 L585.90,392.46 L586.40,392.64 L586.90,392.80 L587.40,392.95 L587.90,393.08 L588.40,393.21 L588.90,393.31 L589.40,393.41 L589.90,393.49 L590.40,393.57 L590.90,393.63 L591.40,393.69 L591.90,393.75 L592.40,393.80 L592.90,393.84 L593.40,393.89 L593.90,393.93 L594.40,393.97 L594.90,394.01 L595.40,394.05 L595.90,394.10 L596.40,394.14 L596.90,394.18 L597.40,394.23 L597.90,394.27 L598.40,394.32 L598.90,394.37 L599.40,394.41 L599.90,394.46 L600.40,394.51 L600.90,394.55 L601.40,394.60 L601.90,394.64 L602.40,394.68 L602.90,394.73 L603.40,394.76 L603.90,394.80 L604.40,394.84 L604.90,394.87 L605.40,394.90 L605.90,394.93" fill="none" stroke="#fff" stroke-width="0.8" stroke-linejoin="round"/>
<path d="M525.40,404.60 L525.40,403.44 L525.90,403.26 L526.40,403.07 L526.90,402.85 L527.40,402.61 L527.90,402.35 L528.40,402.06 L528.90,401.75 L529.40,401.41 L529.90,401.05 L530.40,400.65 L530.90,400.23 L531.40,399.79 L531.90,399.32 L532.40,398.83 L532.90,398.31 L533.40,397.78 L533.90,397.22 L534.40,396.66 L534.90,396.08 L535.40,395.50 L535.90,394.91 L536.40,394.32 L536.90,393.74 L537.40,393.17 L537.90,392.61 L538.40,392.08 L538.90,391.57 L539.40,391.08 L539.90,390.63 L540.40,390.22 L540.90,389.85 L541.40,389.52 L541.90,389.23 L542.40,389.00 L542.90,388.82 L543.40,388.69 L543.90,388.61 L544.40,388.58 L544.90,388.60 L545.40,388.67 L545.90,388.79 L546.40,388.95 L546.90,389.16 L547.40,389.40 L547.90,389.67 L548.40,389.98 L548.90,390.31 L549.40,390.66 L549.90,391.03 L550.40,391.42 L550.90,391.81 L551.40,392.20 L551.90,392.60 L552.40,393.00 L552.90,393.39 L553.40,393.77 L553.90,394.15 L554.40,394.51 L554.90,394.86 L555.40,395.20 L555.90,395.53 L556.40,395.84 L556.90,396.13 L557.40,396.41 L557.90,396.68 L558.40,396.93 L558.90,397.18 L559.40,397.41 L559.90,397.63 L560.40,397.85 L560.90,398.05 L561.40,398.26 L561.90,398.45 L562.40,398.64 L562.90,398.83 L563.40,399.01 L563.90,399.19 L564.40,399.37 L564.90,399.55 L565.40,399.73 L565.90,399.90 L566.40,400.07 L566.90,400.24 L567.40,400.41 L567.90,400.57 L568.40,400.74 L568.90,400.90 L569.40,401.05 L569.90,401.20 L570.40,401.35 L570.90,401.50 L571.40,401.63 L571.90,401.77 L572.40,401.89 L572.90,402.02 L573.40,402.13 L573.90,402.24 L574.40,402.35 L574.90,402.45 L575.40,402.54 L575.90,402.63 L576.40,402.71 L576.90,402.79 L577.40,402.86 L577.90,402.93 L578.40,402.99 L578.90,403.05 L579.40,403.11 L579.90,403.17 L580.40,403.22 L580.90,403.27 L581.40,403.31 L581.90,403.36 L582.40,403.40 L582.90,403.44 L583.40,403.49 L583.90,403.53 L584.40,403.57 L584.90,403.60 L585.40,403.64 L585.90,403.68 L586.40,403.72 L586.90,403.75 L587.40,403.79 L587.90,403.83 L588.40,403.86 L588.90,403.90 L589.40,403.93 L589.90,403.97 L590.40,404.00 L590.90,404.03 L591.40,404.07 L591.90,404.10 L592.40,404.13 L592.90,404.16 L593.40,404.19 L593.90,404.22 L594.40,404.24 L594.90,404.27 L595.40,404.29 L595.90,404.32 L596.40,404.34 L596.40,404.60 Z" fill="#f29e84"/>
<path d="M525.40,403.44 L525.90,403.26 L526.40,403.07 L526.90,402.85 L527.40,402.61 L527.90,402.35 L528.40,402.06 L528.90,401.75 L529.40,401.41 L529.90,401.05 L530.40,400.65 L530.90,400.23 L531.40,399.79 L531.90,399.32 L532.40,398.83 L532.90,398.31 L533.40,397.78 L533.90,397.22 L534.40,396.66 L534.90,396.08 L535.40,395.50 L535.90,394.91 L536.40,394.32 L536.90,393.74 L537.40,393.17 L537.90,392.61 L538.40,392.08 L538.90,391.57 L539.40,391.08 L539.90,390.63 L540.40,390.22 L540.90,389.85 L541.40,389.52 L541.90,389.23 L542.40,389.00 L542.90,388.82 L543.40,388.69 L543.90,388.61 L544.40,388.58 L544.90,388.60 L545.40,388.67 L545.90,388.79 L546.40,388.95 L546.90,389.16 L547.40,389.40 L547.90,389.67 L548.40,389.98 L548.90,390.31 L549.40,390.66 L549.90,391.03 L550.40,391.42 L550.90,391.81 L551.40,392.20 L551.90,392.60 L552.40,393.00 L552.90,393.39 L553.40,393.77 L553.90,394.15 L554.40,394.51 L554.90,394.86 L555.40,395.20 L555.90,395.53 L556.40,395.84 L556.90,396.13 L557.40,396.41 L557.90,396.68 L558.40,396.93 L558.90,397.18 L559.40,397.41 L559.90,397.63 L560.40,397.85 L560.90,398.05 L561.40,398.26 L561.90,398.45 L562.40,398.64 L562.90,398.83 L563.40,399.01 L563.90,399.19 L564.40,399.37 L564.90,399.55 L565.40,399.73 L565.90,399.90 L566.40,400.07 L566.90,400.24 L567.40,400.41 L567.90,400.57 L568.40,400.74 L568.90,400.90 L569.40,401.05 L569.90,401.20 L570.40,401.35 L570.90,401.50 L571.40,401.63 L571.90,401.77 L572.40,401.89 L572.90,402.02 L573.40,402.13 L573.90,402.24 L574.40,402.35 L574.90,402.45 L575.40,402.54 L575.90,402.63 L576.40,402.71 L576.90,402.79 L577.40,402.86 L577.90,402.93 L578.40,402.99 L578.90,403.05 L579.40,403.11 L579.90,403.17 L580.40,403.22 L580.90,403.27 L581.40,403.31 L581.90,403.36 L582.40,403.40 L582.90,403.44 L583.40,403.49 L583.90,403.53 L584.40,403.57 L584.90,403.60 L585.40,403.64 L585.90,403.68 L586.40,403.72 L586.90,403.75 L587.40,403.79 L587.90,403.83 L588.40,403.86 L588.90,403.90 L589.40,403.93 L589.90,403.97 L590.40,404.00 L590.90,404.03 L591.40,404.07 L591.90,404.10 L592.40,404.13 L592.90,404.16 L593.40,404.19 L593.90,404.22 L594.40,404.24 L594.90,404.27 L595.40,404.29 L595.90,404.32 L596.40,404.34" fill="none" stroke="#fff" stroke-width="0.8" stroke-linejoin="round"/>
<path d="M527.40,413.80 L527.40,413.54 L527.90,413.44 L528.40,413.32 L528.90,413.15 L529.40,412.95 L529.90,412.69 L530.40,412.38 L530.90,411.99 L531.40,411.54 L531.90,411.00 L532.40,410.37 L532.90,409.66 L533.40,408.86 L533.90,407.98 L534.40,407.03 L534.90,406.01 L535.40,404.96 L535.90,403.88 L536.40,402.81 L536.90,401.77 L537.40,400.80 L537.90,399.92 L538.40,399.16 L538.90,398.56 L539.40,398.12 L539.90,397.86 L540.40,397.80 L540.90,397.94 L541.40,398.27 L541.90,398.78 L542.40,399.45 L542.90,400.26 L543.40,401.18 L543.90,402.18 L544.40,403.24 L544.90,404.31 L545.40,405.38 L545.90,406.42 L546.40,407.42 L546.90,408.34 L547.40,409.19 L547.90,409.96 L548.40,410.63 L548.90,411.22 L549.40,411.73 L549.90,412.16 L550.40,412.51 L550.90,412.80 L551.40,413.04 L551.90,413.22 L552.40,413.37 L552.90,413.48 L552.90,413.80 Z" fill="#f6c9b5"/>
<path d="M527.40,413.54 L527.90,413.44 L528.40,413.32 L528.90,413.15 L529.40,412.95 L529.90,412.69 L530.40,412.38 L530.90,411.99 L531.40,411.54 L531.90,411.00 L532.40,410.37 L532.90,409.66 L533.40,408.86 L533.90,407.98 L534.40,407.03 L534.90,406.01 L535.40,404.96 L535.90,403.88 L536.40,402.81 L536.90,401.77 L537.40,400.80 L537.90,399.92 L538.40,399.16 L538.90,398.56 L539.40,398.12 L539.90,397.86 L540.40,397.80 L540.90,397.94 L541.40,398.27 L541.90,398.78 L542.40,399.45 L542.90,400.26 L543.40,401.18 L543.90,402.18 L544.40,403.24 L544.90,404.31 L545.40,405.38 L545.90,406.42 L546.40,407.42 L546.90,408.34 L547.40,409.19 L547.90,409.96 L548.40,410.63 L548.90,411.22 L549.40,411.73 L549.90,412.16 L550.40,412.51 L550.90,412.80 L551.40,413.04 L551.90,413.22 L552.40,413.37 L552.90,413.48" fill="none" stroke="#fff" stroke-width="0.8" stroke-linejoin="round"/>
<text x="648.90" y="342.20" font-size="8.53" fill="#b9472b" font-weight="bold" font-style="normal" textLength="34.83" lengthAdjust="spacingAndGlyphs">2400 eV</text>
<text x="648.90" y="354.40" font-size="8.53" fill="#b9472b" font-weight="bold" font-style="normal" textLength="34.83" lengthAdjust="spacingAndGlyphs">2200 eV</text>
<text x="648.90" y="364.90" font-size="8.53" fill="#b9472b" font-weight="bold" font-style="normal" textLength="34.83" lengthAdjust="spacingAndGlyphs">2000 eV</text>
<text x="648.64" y="374.70" font-size="8.53" fill="#b9472b" font-weight="bold" font-style="normal" textLength="34.83" lengthAdjust="spacingAndGlyphs">1800 eV</text>
<text x="648.64" y="384.80" font-size="8.53" fill="#b9472b" font-weight="bold" font-style="normal" textLength="34.83" lengthAdjust="spacingAndGlyphs">1600 eV</text>
<text x="648.64" y="395.00" font-size="8.53" fill="#b9472b" font-weight="bold" font-style="normal" textLength="34.83" lengthAdjust="spacingAndGlyphs">1400 eV</text>
<text x="648.64" y="404.10" font-size="8.53" fill="#b9472b" font-weight="bold" font-style="normal" textLength="34.83" lengthAdjust="spacingAndGlyphs">1200 eV</text>
<text x="649.16" y="415.20" font-size="8.53" fill="#b9472b" font-weight="bold" font-style="normal" textLength="29.55" lengthAdjust="spacingAndGlyphs">400 eV</text>
<line x1="525.40" y1="418.30" x2="655.70" y2="418.30" stroke="#bdbdbd" stroke-width="0.90"/>
<line x1="525.40" y1="418.30" x2="525.40" y2="421.00" stroke="#bdbdbd" stroke-width="0.80"/>
<text x="516.62" y="426.60" font-size="8.20" fill="#262626" font-weight="normal" font-style="normal" textLength="17.56" lengthAdjust="spacingAndGlyphs">5500</text>
<line x1="551.46" y1="418.30" x2="551.46" y2="421.00" stroke="#bdbdbd" stroke-width="0.80"/>
<text x="542.68" y="426.60" font-size="8.20" fill="#262626" font-weight="normal" font-style="normal" textLength="17.56" lengthAdjust="spacingAndGlyphs">6000</text>
<line x1="577.52" y1="418.30" x2="577.52" y2="421.00" stroke="#bdbdbd" stroke-width="0.80"/>
<text x="568.74" y="426.60" font-size="8.20" fill="#262626" font-weight="normal" font-style="normal" textLength="17.56" lengthAdjust="spacingAndGlyphs">6500</text>
<line x1="603.58" y1="418.30" x2="603.58" y2="421.00" stroke="#bdbdbd" stroke-width="0.80"/>
<text x="594.80" y="426.60" font-size="8.20" fill="#262626" font-weight="normal" font-style="normal" textLength="17.56" lengthAdjust="spacingAndGlyphs">7000</text>
<line x1="629.64" y1="418.30" x2="629.64" y2="421.00" stroke="#bdbdbd" stroke-width="0.80"/>
<text x="620.86" y="426.60" font-size="8.20" fill="#262626" font-weight="normal" font-style="normal" textLength="17.56" lengthAdjust="spacingAndGlyphs">7500</text>
<line x1="655.70" y1="418.30" x2="655.70" y2="421.00" stroke="#bdbdbd" stroke-width="0.80"/>
<text x="646.92" y="426.60" font-size="8.20" fill="#262626" font-weight="normal" font-style="normal" textLength="17.56" lengthAdjust="spacingAndGlyphs">8000</text>
<text x="563.94" y="435.60" font-size="6.99" fill="#262626" font-weight="normal" font-style="italic" textLength="9.41" lengthAdjust="spacingAndGlyphs">TW</text>
<text x="573.35" y="438.80" font-size="9.98" fill="#262626" font-weight="normal" font-style="normal" textLength="17.06" lengthAdjust="spacingAndGlyphs">CCS</text>
<text x="590.41" y="440.60" font-size="6.99" fill="#262626" font-weight="normal" font-style="italic" textLength="8.14" lengthAdjust="spacingAndGlyphs">N2</text>
<text x="601.22" y="438.80" font-size="9.98" fill="#262626" font-weight="normal" font-style="normal" textLength="9.02" lengthAdjust="spacingAndGlyphs">(Å</text>
<text x="610.24" y="435.40" font-size="6.99" fill="#262626" font-weight="normal" font-style="normal" textLength="3.74" lengthAdjust="spacingAndGlyphs">2</text>
<text x="613.98" y="438.80" font-size="9.98" fill="#262626" font-weight="normal" font-style="normal" textLength="3.28" lengthAdjust="spacingAndGlyphs">)</text>
<defs><g id="mono">
<g fill="#f3f9f1" stroke="#dcedd8" stroke-width="2.5" opacity="0.9"><circle cx="134.4" cy="68.7" r="22.0"/><circle cx="145.9" cy="68.6" r="23.2"/><circle cx="113.0" cy="58.8" r="23.4"/><circle cx="155.4" cy="114.4" r="15.1"/><circle cx="148.9" cy="90.9" r="19.4"/><circle cx="152.7" cy="82.5" r="16.2"/><circle cx="102.1" cy="165.0" r="21.7"/><circle cx="97.7" cy="160.7" r="15.4"/><circle cx="114.2" cy="136.6" r="14.0"/><circle cx="193.4" cy="129.5" r="16.2"/><circle cx="197.4" cy="153.4" r="16.9"/><circle cx="196.6" cy="141.4" r="20.8"/><circle cx="219.4" cy="135.9" r="20.9"/><circle cx="246.8" cy="134.2" r="17.0"/><circle cx="225.0" cy="108.0" r="15.5"/><circle cx="259.3" cy="102.8" r="20.0"/><circle cx="257.1" cy="116.4" r="17.4"/><circle cx="268.2" cy="121.5" r="18.8"/><circle cx="313.4" cy="129.3" r="21.0"/><circle cx="304.1" cy="147.1" r="14.2"/><circle cx="329.0" cy="142.4" r="14.2"/><circle cx="360.4" cy="170.2" r="19.8"/><circle cx="332.3" cy="158.7" r="15.8"/><circle cx="366.4" cy="164.1" r="21.6"/><circle cx="385.5" cy="240.9" r="17.4"/><circle cx="364.8" cy="225.9" r="21.8"/><circle cx="355.9" cy="233.9" r="22.0"/><circle cx="367.9" cy="263.3" r="23.5"/><circle cx="340.3" cy="274.3" r="20.1"/><circle cx="370.1" cy="274.2" r="23.2"/><circle cx="331.6" cy="323.2" r="17.2"/><circle cx="318.4" cy="314.8" r="15.5"/><circle cx="336.8" cy="347.9" r="15.6"/><circle cx="273.7" cy="387.5" r="19.3"/><circle cx="286.6" cy="360.5" r="19.9"/><circle cx="301.7" cy="368.4" r="18.2"/><circle cx="224.0" cy="400.0" r="14.3"/><circle cx="239.8" cy="397.2" r="15.3"/><circle cx="248.3" cy="401.2" r="20.3"/><circle cx="200.4" cy="365.8" r="18.3"/><circle cx="177.4" cy="392.4" r="16.9"/><circle cx="188.3" cy="398.0" r="22.5"/><circle cx="157.1" cy="368.3" r="18.9"/><circle cx="148.3" cy="369.2" r="16.9"/><circle cx="136.5" cy="357.3" r="17.8"/><circle cx="107.6" cy="366.6" r="20.3"/><circle cx="90.0" cy="344.2" r="14.9"/><circle cx="81.8" cy="360.2" r="22.7"/><circle cx="55.0" cy="320.3" r="21.7"/><circle cx="67.0" cy="315.9" r="21.6"/><circle cx="55.1" cy="317.4" r="16.8"/><circle cx="69.5" cy="259.7" r="20.9"/><circle cx="62.6" cy="266.0" r="20.5"/><circle cx="72.9" cy="232.4" r="19.5"/><circle cx="46.0" cy="206.2" r="18.6"/><circle cx="66.4" cy="205.3" r="22.0"/><circle cx="49.5" cy="205.2" r="21.4"/><circle cx="111.8" cy="204.6" r="22.4"/><circle cx="113.3" cy="216.8" r="23.8"/><circle cx="116.4" cy="210.7" r="19.3"/><circle cx="138.0" cy="232.1" r="23.4"/><circle cx="149.2" cy="226.9" r="21.2"/><circle cx="158.3" cy="208.2" r="21.8"/><circle cx="212.9" cy="216.0" r="18.2"/><circle cx="214.5" cy="219.9" r="20.4"/><circle cx="217.9" cy="193.0" r="15.6"/><circle cx="267.9" cy="215.4" r="16.2"/><circle cx="276.7" cy="214.7" r="14.4"/><circle cx="269.0" cy="200.1" r="14.5"/><circle cx="296.8" cy="223.4" r="15.8"/><circle cx="299.0" cy="213.3" r="18.7"/><circle cx="305.7" cy="234.0" r="19.9"/><circle cx="110.6" cy="294.5" r="14.0"/><circle cx="116.6" cy="272.0" r="18.1"/><circle cx="106.1" cy="291.9" r="17.7"/><circle cx="173.3" cy="284.1" r="14.9"/><circle cx="191.6" cy="274.2" r="19.8"/><circle cx="206.5" cy="291.5" r="18.2"/><circle cx="261.3" cy="285.1" r="17.7"/><circle cx="237.1" cy="283.5" r="19.6"/><circle cx="266.5" cy="296.8" r="20.1"/><circle cx="294.6" cy="304.2" r="14.0"/><circle cx="285.9" cy="292.4" r="20.2"/><circle cx="287.1" cy="294.7" r="22.9"/><circle cx="195.5" cy="327.5" r="16.3"/><circle cx="192.5" cy="347.0" r="17.8"/><circle cx="216.6" cy="344.9" r="20.0"/><circle cx="141.4" cy="337.3" r="19.0"/><circle cx="147.0" cy="313.5" r="23.8"/><circle cx="149.7" cy="312.3" r="18.8"/><circle cx="226.4" cy="164.4" r="18.4"/><circle cx="232.6" cy="170.1" r="22.3"/><circle cx="222.5" cy="161.2" r="16.7"/><circle cx="315.7" cy="190.1" r="16.5"/><circle cx="291.6" cy="167.6" r="23.9"/><circle cx="292.6" cy="183.9" r="18.7"/></g>
<path d="M110,200 L200,160 L300,200 L320,260 L300,330 L220,340 L130,300 L100,260 Z" fill="#8cc49c" opacity="0.16"/>
<g fill="none" stroke="#2b8a52" stroke-linecap="round" stroke-linejoin="round">
  <ellipse cx="146" cy="66" rx="19" ry="9" transform="rotate(12,146,66)" stroke-width="11.6"/>
  <ellipse cx="147" cy="90" rx="19" ry="9" transform="rotate(12,147,90)" stroke-width="11.6"/>
  <ellipse cx="149" cy="113" rx="19" ry="9" transform="rotate(12,149,113)" stroke-width="11.6"/>
  <ellipse cx="152" cy="136" rx="18" ry="9" transform="rotate(12,152,136)" stroke-width="11.6"/>
  <path d="M166,140 C170,150 168,155 166,158" stroke-width="8.7"/>
  <path d="M166,155 C195,150 222,158 232,172" stroke-width="8.7"/>
  <path d="M172,80 C205,95 220,112 212,140" stroke-width="5.8"/>
  <path d="M72,196 C86,196 88,214 74,216 C60,218 58,200 72,196" stroke-width="10.2"/>
  <path d="M88,206 C105,204 118,196 135,188 L178,172 C190,166 200,160 208,158" stroke-width="14.5"/>
  <path d="M130,280 L200,168" stroke-width="24.6"/>
  <path d="M168,302 L240,165" stroke-width="21.8"/>
  <path d="M212,322 L268,182" stroke-width="21.8"/>
  <path d="M255,328 L292,248" stroke-width="18.8"/>
  <path d="M290,322 L312,265" stroke-width="14.5"/>
  <path d="M102,272 C140,255 190,238 245,225" stroke-width="15.9"/>
  <path d="M115,235 C140,228 160,215 185,212" stroke-width="10.2"/>
  <path d="M240,132 C275,118 312,128 322,146 C330,162 305,172 280,168" stroke-width="7.2"/>
  <path d="M268,182 C278,165 288,150 296,140" stroke-width="8.7"/>
  <path d="M320,192 C345,180 362,200 347,222 C337,236 338,246 352,242" stroke-width="15.9"/>
  <path d="M300,252 C330,240 348,270 333,300 C322,320 292,330 265,336" stroke-width="7.2"/>
  <path d="M60,332 C64,302 104,300 124,318 C142,336 142,360 112,360 C82,358 62,350 60,332" stroke-width="7.2"/>
  <path d="M124,345 C160,372 200,372 232,350" stroke-width="7.2"/>
  <path d="M190,332 C205,350 235,352 262,332" stroke-width="5.8"/>
  <path d="M95,250 C100,265 108,282 128,290" stroke-width="7.2"/>
  <path d="M310,270 C322,260 330,250 325,235" stroke-width="5.8"/>
  <path d="M150,150 C130,165 110,175 95,190" stroke-width="7.2"/>
  <path d="M232,172 C250,190 258,215 250,240" stroke-width="7.2"/>
  <path d="M140,330 C170,320 200,310 215,290" stroke-width="8.7"/>
  <path d="M340,250 C360,265 365,300 350,320" stroke-width="5.8"/>
  <path d="M200,110 C230,100 250,110 255,130" stroke-width="5.8"/>
</g>
</g><g id="mono2">
<g fill="#f3f9f1" stroke="#dcedd8" stroke-width="2.5" opacity="0.9"><circle cx="134.4" cy="68.7" r="22.0"/><circle cx="145.9" cy="68.6" r="23.2"/><circle cx="113.0" cy="58.8" r="23.4"/><circle cx="155.4" cy="114.4" r="15.1"/><circle cx="148.9" cy="90.9" r="19.4"/><circle cx="152.7" cy="82.5" r="16.2"/><circle cx="102.1" cy="165.0" r="21.7"/><circle cx="97.7" cy="160.7" r="15.4"/><circle cx="114.2" cy="136.6" r="14.0"/><circle cx="193.4" cy="129.5" r="16.2"/><circle cx="197.4" cy="153.4" r="16.9"/><circle cx="196.6" cy="141.4" r="20.8"/><circle cx="219.4" cy="135.9" r="20.9"/><circle cx="246.8" cy="134.2" r="17.0"/><circle cx="225.0" cy="108.0" r="15.5"/><circle cx="259.3" cy="102.8" r="20.0"/><circle cx="257.1" cy="116.4" r="17.4"/><circle cx="268.2" cy="121.5" r="18.8"/><circle cx="313.4" cy="129.3" r="21.0"/><circle cx="304.1" cy="147.1" r="14.2"/><circle cx="329.0" cy="142.4" r="14.2"/><circle cx="360.4" cy="170.2" r="19.8"/><circle cx="332.3" cy="158.7" r="15.8"/><circle cx="366.4" cy="164.1" r="21.6"/><circle cx="385.5" cy="240.9" r="17.4"/><circle cx="364.8" cy="225.9" r="21.8"/><circle cx="355.9" cy="233.9" r="22.0"/><circle cx="367.9" cy="263.3" r="23.5"/><circle cx="340.3" cy="274.3" r="20.1"/><circle cx="370.1" cy="274.2" r="23.2"/><circle cx="331.6" cy="323.2" r="17.2"/><circle cx="318.4" cy="314.8" r="15.5"/><circle cx="336.8" cy="347.9" r="15.6"/><circle cx="273.7" cy="387.5" r="19.3"/><circle cx="286.6" cy="360.5" r="19.9"/><circle cx="301.7" cy="368.4" r="18.2"/><circle cx="224.0" cy="400.0" r="14.3"/><circle cx="239.8" cy="397.2" r="15.3"/><circle cx="248.3" cy="401.2" r="20.3"/><circle cx="200.4" cy="365.8" r="18.3"/><circle cx="177.4" cy="392.4" r="16.9"/><circle cx="188.3" cy="398.0" r="22.5"/><circle cx="157.1" cy="368.3" r="18.9"/><circle cx="148.3" cy="369.2" r="16.9"/><circle cx="136.5" cy="357.3" r="17.8"/><circle cx="107.6" cy="366.6" r="20.3"/><circle cx="90.0" cy="344.2" r="14.9"/><circle cx="81.8" cy="360.2" r="22.7"/><circle cx="55.0" cy="320.3" r="21.7"/><circle cx="67.0" cy="315.9" r="21.6"/><circle cx="55.1" cy="317.4" r="16.8"/><circle cx="69.5" cy="259.7" r="20.9"/><circle cx="62.6" cy="266.0" r="20.5"/><circle cx="72.9" cy="232.4" r="19.5"/><circle cx="46.0" cy="206.2" r="18.6"/><circle cx="66.4" cy="205.3" r="22.0"/><circle cx="49.5" cy="205.2" r="21.4"/><circle cx="111.8" cy="204.6" r="22.4"/><circle cx="113.3" cy="216.8" r="23.8"/><circle cx="116.4" cy="210.7" r="19.3"/><circle cx="138.0" cy="232.1" r="23.4"/><circle cx="149.2" cy="226.9" r="21.2"/><circle cx="158.3" cy="208.2" r="21.8"/><circle cx="212.9" cy="216.0" r="18.2"/><circle cx="214.5" cy="219.9" r="20.4"/><circle cx="217.9" cy="193.0" r="15.6"/><circle cx="267.9" cy="215.4" r="16.2"/><circle cx="276.7" cy="214.7" r="14.4"/><circle cx="269.0" cy="200.1" r="14.5"/><circle cx="296.8" cy="223.4" r="15.8"/><circle cx="299.0" cy="213.3" r="18.7"/><circle cx="305.7" cy="234.0" r="19.9"/><circle cx="110.6" cy="294.5" r="14.0"/><circle cx="116.6" cy="272.0" r="18.1"/><circle cx="106.1" cy="291.9" r="17.7"/><circle cx="173.3" cy="284.1" r="14.9"/><circle cx="191.6" cy="274.2" r="19.8"/><circle cx="206.5" cy="291.5" r="18.2"/><circle cx="261.3" cy="285.1" r="17.7"/><circle cx="237.1" cy="283.5" r="19.6"/><circle cx="266.5" cy="296.8" r="20.1"/><circle cx="294.6" cy="304.2" r="14.0"/><circle cx="285.9" cy="292.4" r="20.2"/><circle cx="287.1" cy="294.7" r="22.9"/><circle cx="195.5" cy="327.5" r="16.3"/><circle cx="192.5" cy="347.0" r="17.8"/><circle cx="216.6" cy="344.9" r="20.0"/><circle cx="141.4" cy="337.3" r="19.0"/><circle cx="147.0" cy="313.5" r="23.8"/><circle cx="149.7" cy="312.3" r="18.8"/><circle cx="226.4" cy="164.4" r="18.4"/><circle cx="232.6" cy="170.1" r="22.3"/><circle cx="222.5" cy="161.2" r="16.7"/><circle cx="315.7" cy="190.1" r="16.5"/><circle cx="291.6" cy="167.6" r="23.9"/><circle cx="292.6" cy="183.9" r="18.7"/></g>
<path d="M110,200 L200,160 L300,200 L320,260 L300,330 L220,340 L130,300 L100,260 Z" fill="#8cc49c" opacity="0.16"/>
<g fill="none" stroke="#2b8a52" stroke-linecap="round" stroke-linejoin="round">
  <ellipse cx="146" cy="66" rx="19" ry="9" transform="rotate(12,146,66)" stroke-width="15.2"/>
  <ellipse cx="147" cy="90" rx="19" ry="9" transform="rotate(12,147,90)" stroke-width="15.2"/>
  <ellipse cx="149" cy="113" rx="19" ry="9" transform="rotate(12,149,113)" stroke-width="15.2"/>
  <ellipse cx="152" cy="136" rx="18" ry="9" transform="rotate(12,152,136)" stroke-width="15.2"/>
  <path d="M166,140 C170,150 168,155 166,158" stroke-width="11.4"/>
  <path d="M166,155 C195,150 222,158 232,172" stroke-width="11.4"/>
  <path d="M172,80 C205,95 220,112 212,140" stroke-width="7.6"/>
  <path d="M72,196 C86,196 88,214 74,216 C60,218 58,200 72,196" stroke-width="13.3"/>
  <path d="M88,206 C105,204 118,196 135,188 L178,172 C190,166 200,160 208,158" stroke-width="19.0"/>
  <path d="M130,280 L200,168" stroke-width="32.3"/>
  <path d="M168,302 L240,165" stroke-width="28.5"/>
  <path d="M212,322 L268,182" stroke-width="28.5"/>
  <path d="M255,328 L292,248" stroke-width="24.7"/>
  <path d="M290,322 L312,265" stroke-width="19.0"/>
  <path d="M102,272 C140,255 190,238 245,225" stroke-width="20.9"/>
  <path d="M115,235 C140,228 160,215 185,212" stroke-width="13.3"/>
  <path d="M240,132 C275,118 312,128 322,146 C330,162 305,172 280,168" stroke-width="9.5"/>
  <path d="M268,182 C278,165 288,150 296,140" stroke-width="11.4"/>
  <path d="M320,192 C345,180 362,200 347,222 C337,236 338,246 352,242" stroke-width="20.9"/>
  <path d="M300,252 C330,240 348,270 333,300 C322,320 292,330 265,336" stroke-width="9.5"/>
  <path d="M60,332 C64,302 104,300 124,318 C142,336 142,360 112,360 C82,358 62,350 60,332" stroke-width="9.5"/>
  <path d="M124,345 C160,372 200,372 232,350" stroke-width="9.5"/>
  <path d="M190,332 C205,350 235,352 262,332" stroke-width="7.6"/>
  <path d="M95,250 C100,265 108,282 128,290" stroke-width="9.5"/>
  <path d="M310,270 C322,260 330,250 325,235" stroke-width="7.6"/>
  <path d="M150,150 C130,165 110,175 95,190" stroke-width="9.5"/>
  <path d="M232,172 C250,190 258,215 250,240" stroke-width="9.5"/>
  <path d="M140,330 C170,320 200,310 215,290" stroke-width="11.4"/>
  <path d="M340,250 C360,265 365,300 350,320" stroke-width="7.6"/>
  <path d="M200,110 C230,100 250,110 255,130" stroke-width="7.6"/>
</g>
</g></defs>
<use href="#mono" transform="translate(377.9,11.3) scale(0.15765) translate(-50,-40)"/>
<use href="#mono" transform="translate(181.4,32.6) scale(0.17216) translate(-50,-40)"/>
<use href="#mono2" transform="translate(492.00,68.00) rotate(-60.0) scale(0.09143) translate(-225,-220)"/>
<use href="#mono2" transform="translate(527.00,73.00) rotate(80.0) scale(-1,1) scale(0.10286) translate(-225,-220)"/>
<path d="M508.00,53.00 L507.24,53.24 L506.49,53.47 L505.74,53.71 L505.02,53.95 L504.31,54.20 L503.63,54.46 L502.98,54.72 L502.37,54.99 L501.80,55.27 L501.27,55.57 L500.78,55.87 L500.35,56.19 L499.97,56.52 L499.65,56.86 L499.38,57.22 L499.18,57.59 L499.03,57.98 L498.94,58.38 L498.91,58.80 L498.94,59.24 L499.03,59.68 L499.17,60.14 L499.37,60.62 L499.63,61.11 L499.93,61.61 L500.27,62.12 L500.66,62.64 L501.09,63.17 L501.55,63.71 L502.04,64.26 L502.56,64.81 L503.09,65.37 L503.64,65.93 L504.19,66.50 L504.75,67.06 L505.31,67.63 L505.86,68.19 L506.40,68.75 L506.92,69.30 L507.42,69.85 L507.88,70.40 L508.32,70.93 L508.72,71.45 L509.07,71.97 L509.39,72.47 L509.65,72.96 L509.86,73.44 L510.02,73.90 L510.12,74.36 L510.17,74.79 L510.15,75.21 L510.08,75.62 L509.94,76.01 L509.75,76.39 L509.49,76.75 L509.18,77.10 L508.82,77.43 L508.40,77.75 L507.93,78.06 L507.41,78.35 L506.84,78.64 L506.24,78.91 L505.60,79.17 L504.93,79.43 L504.23,79.68 L503.50,79.93 L502.76,80.17 L502.01,80.40 L501.25,80.64 L500.49,80.87 L499.74,81.11 L498.99,81.35 L498.26,81.59 L497.55,81.84 L496.86,82.09 L496.21,82.35 L495.58,82.62 L495.00,82.90 L494.46,83.19 L493.97,83.49 L493.52,83.81 L493.13,84.13 L492.80,84.47 L492.52,84.83 L492.29,85.20 L492.13,85.58 L492.03,85.98 L491.99,86.40 L492.00,86.83 L492.08,87.27 L505.62,90.66 L505.42,90.18 L505.17,89.69 L504.87,89.19 L504.52,88.68 L504.13,88.16 L503.70,87.63 L503.24,87.08 L502.75,86.54 L502.23,85.98 L501.70,85.42 L501.15,84.86 L500.59,84.30 L500.03,83.73 L499.48,83.17 L498.93,82.61 L498.39,82.05 L497.87,81.49 L497.37,80.94 L496.91,80.40 L496.47,79.87 L496.07,79.34 L495.72,78.83 L495.41,78.33 L495.14,77.84 L494.93,77.36 L494.78,76.89 L494.68,76.44 L494.63,76.01 L494.65,75.59 L494.72,75.18 L494.86,74.79 L495.05,74.41 L495.31,74.05 L495.62,73.71 L495.99,73.37 L496.41,73.05 L496.88,72.75 L497.40,72.45 L497.96,72.17 L498.57,71.89 L499.21,71.63 L499.88,71.37 L500.58,71.12 L501.31,70.88 L502.05,70.64 L502.80,70.40 L503.56,70.16 L504.32,69.93 L505.07,69.69 L505.82,69.46 L506.55,69.21 L507.26,68.97 L507.95,68.71 L508.60,68.45 L509.22,68.18 L509.81,67.90 L510.35,67.61 L510.84,67.31 L511.28,67.00 L511.67,66.67 L512.01,66.33 L512.29,65.97 L512.51,65.60 L512.67,65.22 L512.77,64.82 L512.81,64.40 L512.79,63.97 L512.72,63.53 L512.58,63.07 L512.39,62.60 L512.15,62.11 L511.86,61.62 L511.53,61.11 L511.15,60.59 L510.73,60.06 L510.27,59.52 L509.79,58.97 L509.28,58.42 L508.75,57.86 L508.20,57.30 L507.65,56.74 L507.09,56.17 L506.53,55.61 L505.98,55.04 L505.43,54.48 L504.91,53.93 L504.41,53.38 L503.93,52.83 L503.49,52.30 L503.09,51.77 Z" fill="#ffffff" opacity="0.85"/>
<line x1="506.49" y1="53.47" x2="503.93" y2="52.83" stroke="#3a3c7a" stroke-width="0.4"/>
<line x1="502.98" y1="54.72" x2="506.53" y2="55.61" stroke="#3a3c7a" stroke-width="0.4"/>
<line x1="500.35" y1="56.19" x2="509.28" y2="58.42" stroke="#3a3c7a" stroke-width="0.4"/>
<line x1="499.03" y1="57.98" x2="511.53" y2="61.11" stroke="#3a3c7a" stroke-width="0.4"/>
<line x1="499.17" y1="60.14" x2="512.72" y2="63.53" stroke="#3a3c7a" stroke-width="0.4"/>
<line x1="500.66" y1="62.64" x2="512.51" y2="65.60" stroke="#3a3c7a" stroke-width="0.4"/>
<line x1="503.09" y1="65.37" x2="510.84" y2="67.31" stroke="#3a3c7a" stroke-width="0.4"/>
<line x1="505.86" y1="68.19" x2="507.95" y2="68.71" stroke="#3a3c7a" stroke-width="0.4"/>
<line x1="508.32" y1="70.93" x2="504.32" y2="69.93" stroke="#3a3c7a" stroke-width="0.4"/>
<line x1="509.86" y1="73.44" x2="500.58" y2="71.12" stroke="#3a3c7a" stroke-width="0.4"/>
<line x1="510.08" y1="75.62" x2="497.40" y2="72.45" stroke="#3a3c7a" stroke-width="0.4"/>
<line x1="508.82" y1="77.43" x2="495.31" y2="74.05" stroke="#3a3c7a" stroke-width="0.4"/>
<line x1="506.24" y1="78.91" x2="494.63" y2="76.01" stroke="#3a3c7a" stroke-width="0.4"/>
<line x1="502.76" y1="80.17" x2="495.41" y2="78.33" stroke="#3a3c7a" stroke-width="0.4"/>
<line x1="498.99" y1="81.35" x2="497.37" y2="80.94" stroke="#3a3c7a" stroke-width="0.4"/>
<line x1="495.58" y1="82.62" x2="500.03" y2="83.73" stroke="#3a3c7a" stroke-width="0.4"/>
<line x1="493.13" y1="84.13" x2="502.75" y2="86.54" stroke="#3a3c7a" stroke-width="0.4"/>
<line x1="492.03" y1="85.98" x2="504.87" y2="89.19" stroke="#3a3c7a" stroke-width="0.4"/>
<path d="M508.00,53.00 L507.24,53.24 L506.49,53.47 L505.74,53.71 L505.02,53.95 L504.31,54.20 L503.63,54.46 L502.98,54.72 L502.37,54.99 L501.80,55.27 L501.27,55.57 L500.78,55.87 L500.35,56.19 L499.97,56.52 L499.65,56.86 L499.38,57.22 L499.18,57.59 L499.03,57.98 L498.94,58.38 L498.91,58.80 L498.94,59.24 L499.03,59.68 L499.17,60.14 L499.37,60.62 L499.63,61.11 L499.93,61.61 L500.27,62.12 L500.66,62.64 L501.09,63.17 L501.55,63.71 L502.04,64.26 L502.56,64.81 L503.09,65.37 L503.64,65.93 L504.19,66.50 L504.75,67.06 L505.31,67.63 L505.86,68.19 L506.40,68.75 L506.92,69.30 L507.42,69.85 L507.88,70.40 L508.32,70.93 L508.72,71.45 L509.07,71.97 L509.39,72.47 L509.65,72.96 L509.86,73.44 L510.02,73.90 L510.12,74.36 L510.17,74.79 L510.15,75.21 L510.08,75.62 L509.94,76.01 L509.75,76.39 L509.49,76.75 L509.18,77.10 L508.82,77.43 L508.40,77.75 L507.93,78.06 L507.41,78.35 L506.84,78.64 L506.24,78.91 L505.60,79.17 L504.93,79.43 L504.23,79.68 L503.50,79.93 L502.76,80.17 L502.01,80.40 L501.25,80.64 L500.49,80.87 L499.74,81.11 L498.99,81.35 L498.26,81.59 L497.55,81.84 L496.86,82.09 L496.21,82.35 L495.58,82.62 L495.00,82.90 L494.46,83.19 L493.97,83.49 L493.52,83.81 L493.13,84.13 L492.80,84.47 L492.52,84.83 L492.29,85.20 L492.13,85.58 L492.03,85.98 L491.99,86.40 L492.00,86.83 L492.08,87.27" fill="none" stroke="#30326e" stroke-width="1.25"/>
<path d="M508.00,53.00 L507.24,53.24 L506.49,53.47 L505.74,53.71 L505.02,53.95 L504.31,54.20 L503.63,54.46 L502.98,54.72 L502.37,54.99 L501.80,55.27 L501.27,55.57 L500.78,55.87 L500.35,56.19 L499.97,56.52 L499.65,56.86 L499.38,57.22 L499.18,57.59 L499.03,57.98 L498.94,58.38 L498.91,58.80 L498.94,59.24 L499.03,59.68 L499.17,60.14 L499.37,60.62 L499.63,61.11 L499.93,61.61 L500.27,62.12 L500.66,62.64 L501.09,63.17 L501.55,63.71 L502.04,64.26 L502.56,64.81 L503.09,65.37 L503.64,65.93 L504.19,66.50 L504.75,67.06 L505.31,67.63 L505.86,68.19 L506.40,68.75 L506.92,69.30 L507.42,69.85 L507.88,70.40 L508.32,70.93 L508.72,71.45 L509.07,71.97 L509.39,72.47 L509.65,72.96 L509.86,73.44 L510.02,73.90 L510.12,74.36 L510.17,74.79 L510.15,75.21 L510.08,75.62 L509.94,76.01 L509.75,76.39 L509.49,76.75 L509.18,77.10 L508.82,77.43 L508.40,77.75 L507.93,78.06 L507.41,78.35 L506.84,78.64 L506.24,78.91 L505.60,79.17 L504.93,79.43 L504.23,79.68 L503.50,79.93 L502.76,80.17 L502.01,80.40 L501.25,80.64 L500.49,80.87 L499.74,81.11 L498.99,81.35 L498.26,81.59 L497.55,81.84 L496.86,82.09 L496.21,82.35 L495.58,82.62 L495.00,82.90 L494.46,83.19 L493.97,83.49 L493.52,83.81 L493.13,84.13 L492.80,84.47 L492.52,84.83 L492.29,85.20 L492.13,85.58 L492.03,85.98 L491.99,86.40 L492.00,86.83 L492.08,87.27" fill="none" stroke="#8788d0" stroke-width="0.85"/>
<path d="M503.09,51.77 L503.49,52.30 L503.93,52.83 L504.41,53.38 L504.91,53.93 L505.43,54.48 L505.98,55.04 L506.53,55.61 L507.09,56.17 L507.65,56.74 L508.20,57.30 L508.75,57.86 L509.28,58.42 L509.79,58.97 L510.27,59.52 L510.73,60.06 L511.15,60.59 L511.53,61.11 L511.86,61.62 L512.15,62.11 L512.39,62.60 L512.58,63.07 L512.72,63.53 L512.79,63.97 L512.81,64.40 L512.77,64.82 L512.67,65.22 L512.51,65.60 L512.29,65.97 L512.01,66.33 L511.67,66.67 L511.28,67.00 L510.84,67.31 L510.35,67.61 L509.81,67.90 L509.22,68.18 L508.60,68.45 L507.95,68.71 L507.26,68.97 L506.55,69.21 L505.82,69.46 L505.07,69.69 L504.32,69.93 L503.56,70.16 L502.80,70.40 L502.05,70.64 L501.31,70.88 L500.58,71.12 L499.88,71.37 L499.21,71.63 L498.57,71.89 L497.96,72.17 L497.40,72.45 L496.88,72.75 L496.41,73.05 L495.99,73.37 L495.62,73.71 L495.31,74.05 L495.05,74.41 L494.86,74.79 L494.72,75.18 L494.65,75.59 L494.63,76.01 L494.68,76.44 L494.78,76.89 L494.93,77.36 L495.14,77.84 L495.41,78.33 L495.72,78.83 L496.07,79.34 L496.47,79.87 L496.91,80.40 L497.37,80.94 L497.87,81.49 L498.39,82.05 L498.93,82.61 L499.48,83.17 L500.03,83.73 L500.59,84.30 L501.15,84.86 L501.70,85.42 L502.23,85.98 L502.75,86.54 L503.24,87.08 L503.70,87.63 L504.13,88.16 L504.52,88.68 L504.87,89.19 L505.17,89.69 L505.42,90.18 L505.62,90.66" fill="none" stroke="#30326e" stroke-width="1.25"/>
<path d="M503.09,51.77 L503.49,52.30 L503.93,52.83 L504.41,53.38 L504.91,53.93 L505.43,54.48 L505.98,55.04 L506.53,55.61 L507.09,56.17 L507.65,56.74 L508.20,57.30 L508.75,57.86 L509.28,58.42 L509.79,58.97 L510.27,59.52 L510.73,60.06 L511.15,60.59 L511.53,61.11 L511.86,61.62 L512.15,62.11 L512.39,62.60 L512.58,63.07 L512.72,63.53 L512.79,63.97 L512.81,64.40 L512.77,64.82 L512.67,65.22 L512.51,65.60 L512.29,65.97 L512.01,66.33 L511.67,66.67 L511.28,67.00 L510.84,67.31 L510.35,67.61 L509.81,67.90 L509.22,68.18 L508.60,68.45 L507.95,68.71 L507.26,68.97 L506.55,69.21 L505.82,69.46 L505.07,69.69 L504.32,69.93 L503.56,70.16 L502.80,70.40 L502.05,70.64 L501.31,70.88 L500.58,71.12 L499.88,71.37 L499.21,71.63 L498.57,71.89 L497.96,72.17 L497.40,72.45 L496.88,72.75 L496.41,73.05 L495.99,73.37 L495.62,73.71 L495.31,74.05 L495.05,74.41 L494.86,74.79 L494.72,75.18 L494.65,75.59 L494.63,76.01 L494.68,76.44 L494.78,76.89 L494.93,77.36 L495.14,77.84 L495.41,78.33 L495.72,78.83 L496.07,79.34 L496.47,79.87 L496.91,80.40 L497.37,80.94 L497.87,81.49 L498.39,82.05 L498.93,82.61 L499.48,83.17 L500.03,83.73 L500.59,84.30 L501.15,84.86 L501.70,85.42 L502.23,85.98 L502.75,86.54 L503.24,87.08 L503.70,87.63 L504.13,88.16 L504.52,88.68 L504.87,89.19 L505.17,89.69 L505.42,90.18 L505.62,90.66" fill="none" stroke="#8788d0" stroke-width="0.85"/>
<use href="#mono2" transform="translate(577.00,18.00) rotate(-20.0) scale(0.08857) translate(-225,-220)"/>
<use href="#mono2" transform="translate(612.00,23.00) rotate(70.0) scale(-1,1) scale(0.08571) translate(-225,-220)"/>
<use href="#mono2" transform="translate(567.00,42.00) rotate(-80.0) scale(0.08000) translate(-225,-220)"/>
<use href="#mono2" transform="translate(599.00,46.00) rotate(30.0) scale(-1,1) scale(0.08571) translate(-225,-220)"/>
<path d="M604.00,3.00 L602.69,3.10 L601.40,3.21 L600.17,3.35 L599.01,3.54 L597.94,3.78 L597.00,4.09 L596.19,4.48 L595.52,4.96 L595.00,5.52 L594.65,6.18 L594.44,6.92 L594.39,7.76 L594.48,8.68 L594.70,9.67 L595.04,10.73 L595.46,11.85 L595.96,13.01 L596.50,14.19 L597.06,15.38 L597.61,16.57 L598.13,17.74 L598.59,18.88 L598.98,19.97 L599.25,21.00 L599.41,21.96 L599.43,22.84 L599.31,23.63 L599.03,24.33 L598.59,24.94 L598.00,25.46 L597.26,25.89 L596.38,26.24 L595.37,26.52 L594.26,26.73 L593.06,26.89 L591.79,27.02 L590.49,27.12 L589.18,27.21 L587.87,27.32 L586.61,27.44 L585.41,27.60 L584.29,27.82 L583.29,28.09 L582.41,28.44 L581.67,28.87 L581.07,29.39 L580.64,30.00 L580.36,30.70 L580.23,31.50 L580.25,32.38 L580.41,33.33 L580.69,34.36 L581.07,35.45 L581.54,36.59 L582.06,37.76 L582.61,38.95 L583.17,40.15 L583.71,41.33 L584.20,42.48 L584.63,43.60 L584.96,44.66 L585.18,45.65 L585.27,46.57 L585.22,47.41 L585.02,48.16 L584.66,48.81 L584.15,49.38 L583.48,49.85 L582.67,50.24 L581.72,50.55 L580.66,50.80 L579.50,50.98 L578.27,51.13 L576.98,51.24 L575.67,51.33 L574.35,51.43 L573.07,51.54 L571.83,51.68 L570.67,51.87 L569.61,52.11 L568.67,52.42 L567.85,52.81 L567.19,53.29 L566.67,53.85 L566.31,54.51 L566.11,55.26 L566.06,56.09 L566.15,57.01 L566.37,58.01 L566.70,59.07 L575.49,64.22 L575.98,63.64 L576.31,62.97 L576.49,62.21 L576.51,61.35 L576.40,60.42 L576.16,59.41 L575.81,58.34 L575.37,57.22 L574.86,56.06 L574.32,54.87 L573.76,53.68 L573.21,52.49 L572.69,51.32 L572.24,50.19 L571.88,49.11 L571.62,48.10 L571.49,47.15 L571.49,46.29 L571.64,45.51 L571.95,44.82 L572.41,44.23 L573.03,43.73 L573.80,43.31 L574.70,42.97 L575.73,42.71 L576.86,42.51 L578.07,42.35 L579.34,42.23 L580.65,42.13 L581.97,42.04 L583.27,41.93 L584.52,41.80 L585.71,41.63 L586.80,41.41 L587.79,41.12 L588.64,40.76 L589.36,40.31 L589.92,39.78 L590.33,39.15 L590.59,38.43 L590.68,37.62 L590.64,36.73 L590.46,35.76 L590.16,34.72 L589.76,33.62 L589.29,32.47 L588.76,31.30 L588.20,30.11 L587.64,28.91 L587.11,27.74 L586.63,26.59 L586.22,25.48 L585.90,24.43 L585.70,23.45 L585.64,22.54 L585.71,21.72 L585.94,20.99 L586.33,20.35 L586.87,19.80 L587.56,19.34 L588.40,18.97 L589.37,18.67 L590.45,18.44 L591.62,18.26 L592.87,18.12 L594.16,18.01 L595.48,17.92 L596.79,17.82 L598.07,17.71 L599.29,17.56 L600.43,17.36 L601.48,17.11 L602.40,16.78 L603.19,16.38 L603.83,15.89 L604.32,15.31 L604.65,14.64 L604.82,13.87 L604.85,13.02 L604.73,12.09 L604.49,11.08 L604.14,10.01 L603.70,8.89 L603.20,7.72 L602.65,6.54 L602.09,5.34 L601.54,4.16 L601.03,2.99 L600.58,1.86 L600.21,0.78 Z" fill="#ffffff" opacity="0.85"/>
<line x1="601.40" y1="3.21" x2="601.03" y2="2.99" stroke="#3a3c7a" stroke-width="0.4"/>
<line x1="596.19" y1="4.48" x2="603.70" y2="8.89" stroke="#3a3c7a" stroke-width="0.4"/>
<line x1="594.39" y1="7.76" x2="604.82" y2="13.87" stroke="#3a3c7a" stroke-width="0.4"/>
<line x1="595.96" y1="13.01" x2="602.40" y2="16.78" stroke="#3a3c7a" stroke-width="0.4"/>
<line x1="598.59" y1="18.88" x2="596.79" y2="17.82" stroke="#3a3c7a" stroke-width="0.4"/>
<line x1="599.31" y1="23.63" x2="590.45" y2="18.44" stroke="#3a3c7a" stroke-width="0.4"/>
<line x1="596.38" y1="26.24" x2="586.33" y2="20.35" stroke="#3a3c7a" stroke-width="0.4"/>
<line x1="590.49" y1="27.12" x2="585.90" y2="24.43" stroke="#3a3c7a" stroke-width="0.4"/>
<line x1="584.29" y1="27.82" x2="588.20" y2="30.11" stroke="#3a3c7a" stroke-width="0.4"/>
<line x1="580.64" y1="30.00" x2="590.46" y2="35.76" stroke="#3a3c7a" stroke-width="0.4"/>
<line x1="580.69" y1="34.36" x2="589.92" y2="39.78" stroke="#3a3c7a" stroke-width="0.4"/>
<line x1="583.17" y1="40.15" x2="585.71" y2="41.63" stroke="#3a3c7a" stroke-width="0.4"/>
<line x1="585.18" y1="45.65" x2="579.34" y2="42.23" stroke="#3a3c7a" stroke-width="0.4"/>
<line x1="584.15" y1="49.38" x2="573.80" y2="43.31" stroke="#3a3c7a" stroke-width="0.4"/>
<line x1="579.50" y1="50.98" x2="571.49" y2="46.29" stroke="#3a3c7a" stroke-width="0.4"/>
<line x1="573.07" y1="51.54" x2="572.69" y2="51.32" stroke="#3a3c7a" stroke-width="0.4"/>
<line x1="567.85" y1="52.81" x2="575.37" y2="57.22" stroke="#3a3c7a" stroke-width="0.4"/>
<line x1="566.06" y1="56.09" x2="576.49" y2="62.21" stroke="#3a3c7a" stroke-width="0.4"/>
<path d="M604.00,3.00 L602.69,3.10 L601.40,3.21 L600.17,3.35 L599.01,3.54 L597.94,3.78 L597.00,4.09 L596.19,4.48 L595.52,4.96 L595.00,5.52 L594.65,6.18 L594.44,6.92 L594.39,7.76 L594.48,8.68 L594.70,9.67 L595.04,10.73 L595.46,11.85 L595.96,13.01 L596.50,14.19 L597.06,15.38 L597.61,16.57 L598.13,17.74 L598.59,18.88 L598.98,19.97 L599.25,21.00 L599.41,21.96 L599.43,22.84 L599.31,23.63 L599.03,24.33 L598.59,24.94 L598.00,25.46 L597.26,25.89 L596.38,26.24 L595.37,26.52 L594.26,26.73 L593.06,26.89 L591.79,27.02 L590.49,27.12 L589.18,27.21 L587.87,27.32 L586.61,27.44 L585.41,27.60 L584.29,27.82 L583.29,28.09 L582.41,28.44 L581.67,28.87 L581.07,29.39 L580.64,30.00 L580.36,30.70 L580.23,31.50 L580.25,32.38 L580.41,33.33 L580.69,34.36 L581.07,35.45 L581.54,36.59 L582.06,37.76 L582.61,38.95 L583.17,40.15 L583.71,41.33 L584.20,42.48 L584.63,43.60 L584.96,44.66 L585.18,45.65 L585.27,46.57 L585.22,47.41 L585.02,48.16 L584.66,48.81 L584.15,49.38 L583.48,49.85 L582.67,50.24 L581.72,50.55 L580.66,50.80 L579.50,50.98 L578.27,51.13 L576.98,51.24 L575.67,51.33 L574.35,51.43 L573.07,51.54 L571.83,51.68 L570.67,51.87 L569.61,52.11 L568.67,52.42 L567.85,52.81 L567.19,53.29 L566.67,53.85 L566.31,54.51 L566.11,55.26 L566.06,56.09 L566.15,57.01 L566.37,58.01 L566.70,59.07" fill="none" stroke="#30326e" stroke-width="1.25"/>
<path d="M604.00,3.00 L602.69,3.10 L601.40,3.21 L600.17,3.35 L599.01,3.54 L597.94,3.78 L597.00,4.09 L596.19,4.48 L595.52,4.96 L595.00,5.52 L594.65,6.18 L594.44,6.92 L594.39,7.76 L594.48,8.68 L594.70,9.67 L595.04,10.73 L595.46,11.85 L595.96,13.01 L596.50,14.19 L597.06,15.38 L597.61,16.57 L598.13,17.74 L598.59,18.88 L598.98,19.97 L599.25,21.00 L599.41,21.96 L599.43,22.84 L599.31,23.63 L599.03,24.33 L598.59,24.94 L598.00,25.46 L597.26,25.89 L596.38,26.24 L595.37,26.52 L594.26,26.73 L593.06,26.89 L591.79,27.02 L590.49,27.12 L589.18,27.21 L587.87,27.32 L586.61,27.44 L585.41,27.60 L584.29,27.82 L583.29,28.09 L582.41,28.44 L581.67,28.87 L581.07,29.39 L580.64,30.00 L580.36,30.70 L580.23,31.50 L580.25,32.38 L580.41,33.33 L580.69,34.36 L581.07,35.45 L581.54,36.59 L582.06,37.76 L582.61,38.95 L583.17,40.15 L583.71,41.33 L584.20,42.48 L584.63,43.60 L584.96,44.66 L585.18,45.65 L585.27,46.57 L585.22,47.41 L585.02,48.16 L584.66,48.81 L584.15,49.38 L583.48,49.85 L582.67,50.24 L581.72,50.55 L580.66,50.80 L579.50,50.98 L578.27,51.13 L576.98,51.24 L575.67,51.33 L574.35,51.43 L573.07,51.54 L571.83,51.68 L570.67,51.87 L569.61,52.11 L568.67,52.42 L567.85,52.81 L567.19,53.29 L566.67,53.85 L566.31,54.51 L566.11,55.26 L566.06,56.09 L566.15,57.01 L566.37,58.01 L566.70,59.07" fill="none" stroke="#8788d0" stroke-width="0.85"/>
<path d="M600.21,0.78 L600.58,1.86 L601.03,2.99 L601.54,4.16 L602.09,5.34 L602.65,6.54 L603.20,7.72 L603.70,8.89 L604.14,10.01 L604.49,11.08 L604.73,12.09 L604.85,13.02 L604.82,13.87 L604.65,14.64 L604.32,15.31 L603.83,15.89 L603.19,16.38 L602.40,16.78 L601.48,17.11 L600.43,17.36 L599.29,17.56 L598.07,17.71 L596.79,17.82 L595.48,17.92 L594.16,18.01 L592.87,18.12 L591.62,18.26 L590.45,18.44 L589.37,18.67 L588.40,18.97 L587.56,19.34 L586.87,19.80 L586.33,20.35 L585.94,20.99 L585.71,21.72 L585.64,22.54 L585.70,23.45 L585.90,24.43 L586.22,25.48 L586.63,26.59 L587.11,27.74 L587.64,28.91 L588.20,30.11 L588.76,31.30 L589.29,32.47 L589.76,33.62 L590.16,34.72 L590.46,35.76 L590.64,36.73 L590.68,37.62 L590.59,38.43 L590.33,39.15 L589.92,39.78 L589.36,40.31 L588.64,40.76 L587.79,41.12 L586.80,41.41 L585.71,41.63 L584.52,41.80 L583.27,41.93 L581.97,42.04 L580.65,42.13 L579.34,42.23 L578.07,42.35 L576.86,42.51 L575.73,42.71 L574.70,42.97 L573.80,43.31 L573.03,43.73 L572.41,44.23 L571.95,44.82 L571.64,45.51 L571.49,46.29 L571.49,47.15 L571.62,48.10 L571.88,49.11 L572.24,50.19 L572.69,51.32 L573.21,52.49 L573.76,53.68 L574.32,54.87 L574.86,56.06 L575.37,57.22 L575.81,58.34 L576.16,59.41 L576.40,60.42 L576.51,61.35 L576.49,62.21 L576.31,62.97 L575.98,63.64 L575.49,64.22" fill="none" stroke="#30326e" stroke-width="1.25"/>
<path d="M600.21,0.78 L600.58,1.86 L601.03,2.99 L601.54,4.16 L602.09,5.34 L602.65,6.54 L603.20,7.72 L603.70,8.89 L604.14,10.01 L604.49,11.08 L604.73,12.09 L604.85,13.02 L604.82,13.87 L604.65,14.64 L604.32,15.31 L603.83,15.89 L603.19,16.38 L602.40,16.78 L601.48,17.11 L600.43,17.36 L599.29,17.56 L598.07,17.71 L596.79,17.82 L595.48,17.92 L594.16,18.01 L592.87,18.12 L591.62,18.26 L590.45,18.44 L589.37,18.67 L588.40,18.97 L587.56,19.34 L586.87,19.80 L586.33,20.35 L585.94,20.99 L585.71,21.72 L585.64,22.54 L585.70,23.45 L585.90,24.43 L586.22,25.48 L586.63,26.59 L587.11,27.74 L587.64,28.91 L588.20,30.11 L588.76,31.30 L589.29,32.47 L589.76,33.62 L590.16,34.72 L590.46,35.76 L590.64,36.73 L590.68,37.62 L590.59,38.43 L590.33,39.15 L589.92,39.78 L589.36,40.31 L588.64,40.76 L587.79,41.12 L586.80,41.41 L585.71,41.63 L584.52,41.80 L583.27,41.93 L581.97,42.04 L580.65,42.13 L579.34,42.23 L578.07,42.35 L576.86,42.51 L575.73,42.71 L574.70,42.97 L573.80,43.31 L573.03,43.73 L572.41,44.23 L571.95,44.82 L571.64,45.51 L571.49,46.29 L571.49,47.15 L571.62,48.10 L571.88,49.11 L572.24,50.19 L572.69,51.32 L573.21,52.49 L573.76,53.68 L574.32,54.87 L574.86,56.06 L575.37,57.22 L575.81,58.34 L576.16,59.41 L576.40,60.42 L576.51,61.35 L576.49,62.21 L576.31,62.97 L575.98,63.64 L575.49,64.22" fill="none" stroke="#8788d0" stroke-width="0.85"/>
</svg></body></html>
